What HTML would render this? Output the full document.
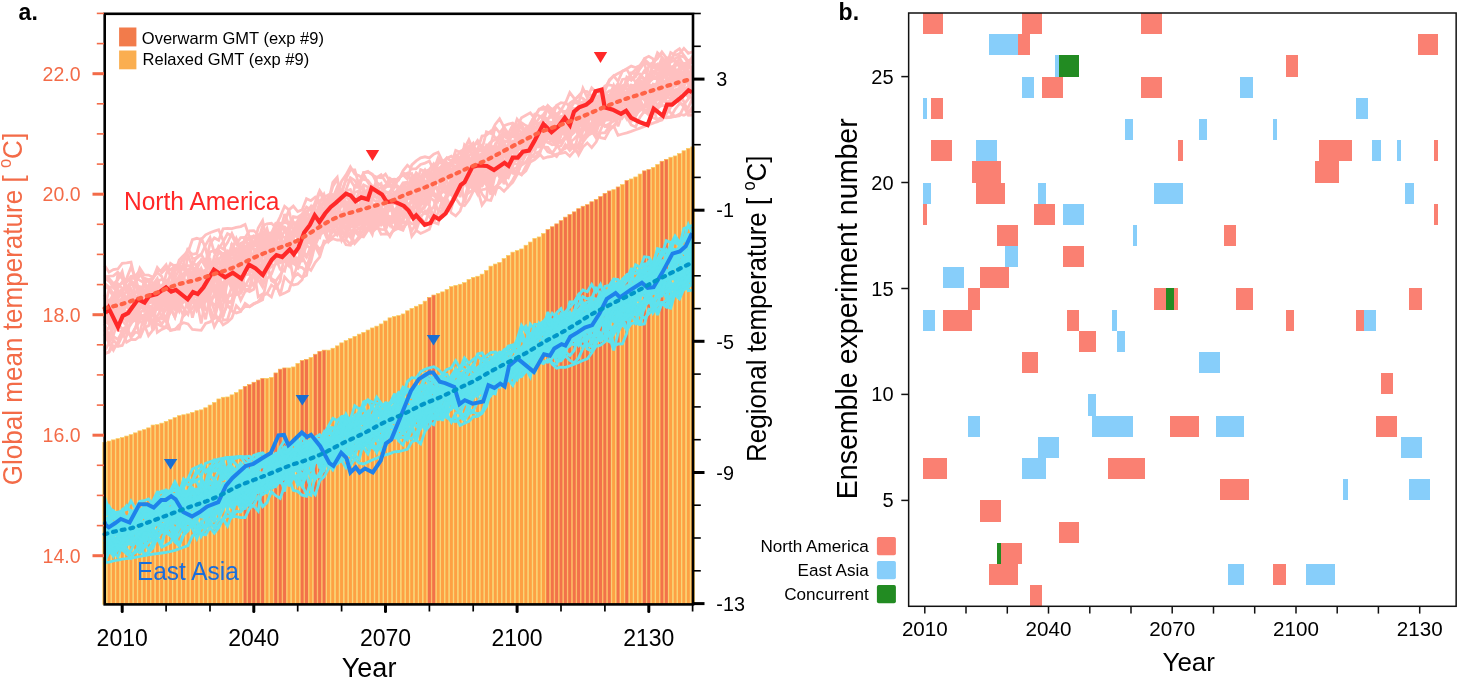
<!DOCTYPE html><html><head><meta charset="utf-8"><style>html,body{margin:0;padding:0;background:#fff;width:1458px;height:685px;overflow:hidden}</style></head><body><svg width="1458" height="685" viewBox="0 0 1458 685" style="display:block;will-change:transform"><rect width="1458" height="685" fill="#fff"/><g><rect x="102.80" y="442.35" width="3.69" height="162.05" fill="#FEA044" stroke="#F7D264" stroke-width="0.7"/><rect x="107.19" y="441.05" width="3.69" height="163.35" fill="#FEA044" stroke="#F7D264" stroke-width="0.7"/><rect x="111.58" y="439.85" width="3.69" height="164.55" fill="#FEA044" stroke="#F7D264" stroke-width="0.7"/><rect x="115.97" y="438.65" width="3.69" height="165.75" fill="#FEA044" stroke="#F7D264" stroke-width="0.7"/><rect x="120.36" y="437.55" width="3.69" height="166.85" fill="#FEA044" stroke="#F7D264" stroke-width="0.7"/><rect x="124.74" y="436.05" width="3.69" height="168.35" fill="#FEA044" stroke="#F7D264" stroke-width="0.7"/><rect x="129.13" y="434.65" width="3.69" height="169.75" fill="#FEA044" stroke="#F7D264" stroke-width="0.7"/><rect x="133.52" y="432.85" width="3.69" height="171.55" fill="#FEA044" stroke="#F7D264" stroke-width="0.7"/><rect x="137.91" y="430.85" width="3.69" height="173.55" fill="#FEA044" stroke="#F7D264" stroke-width="0.7"/><rect x="142.30" y="429.65" width="3.69" height="174.75" fill="#FEA044" stroke="#F7D264" stroke-width="0.7"/><rect x="146.68" y="427.85" width="3.69" height="176.55" fill="#FEA044" stroke="#F7D264" stroke-width="0.7"/><rect x="151.07" y="425.05" width="3.69" height="179.35" fill="#FEA044" stroke="#F7D264" stroke-width="0.7"/><rect x="155.46" y="424.65" width="3.69" height="179.75" fill="#FEA044" stroke="#F7D264" stroke-width="0.7"/><rect x="159.85" y="423.15" width="3.69" height="181.25" fill="#FEA044" stroke="#F7D264" stroke-width="0.7"/><rect x="164.24" y="421.35" width="3.69" height="183.05" fill="#FEA044" stroke="#F7D264" stroke-width="0.7"/><rect x="168.62" y="419.65" width="3.69" height="184.75" fill="#FEA044" stroke="#F7D264" stroke-width="0.7"/><rect x="173.01" y="417.65" width="3.69" height="186.75" fill="#FEA044" stroke="#F7D264" stroke-width="0.7"/><rect x="177.40" y="415.65" width="3.69" height="188.75" fill="#FEA044" stroke="#F7D264" stroke-width="0.7"/><rect x="181.79" y="414.75" width="3.69" height="189.65" fill="#FEA044" stroke="#F7D264" stroke-width="0.7"/><rect x="186.18" y="413.85" width="3.69" height="190.55" fill="#FEA044" stroke="#F7D264" stroke-width="0.7"/><rect x="190.56" y="412.35" width="3.69" height="192.05" fill="#FEA044" stroke="#F7D264" stroke-width="0.7"/><rect x="194.95" y="410.65" width="3.69" height="193.75" fill="#FEA044" stroke="#F7D264" stroke-width="0.7"/><rect x="199.34" y="409.85" width="3.69" height="194.55" fill="#FEA044" stroke="#F7D264" stroke-width="0.7"/><rect x="203.73" y="407.75" width="3.69" height="196.65" fill="#FEA044" stroke="#F7D264" stroke-width="0.7"/><rect x="208.12" y="405.05" width="3.69" height="199.35" fill="#FEA044" stroke="#F7D264" stroke-width="0.7"/><rect x="212.50" y="402.45" width="3.69" height="201.95" fill="#FEA044" stroke="#F7D264" stroke-width="0.7"/><rect x="216.89" y="398.95" width="3.69" height="205.45" fill="#FEA044" stroke="#F7D264" stroke-width="0.7"/><rect x="221.28" y="397.25" width="3.69" height="207.15" fill="#FEA044" stroke="#F7D264" stroke-width="0.7"/><rect x="225.67" y="396.95" width="3.69" height="207.45" fill="#FEA044" stroke="#F7D264" stroke-width="0.7"/><rect x="230.06" y="394.85" width="3.69" height="209.55" fill="#FEA044" stroke="#F7D264" stroke-width="0.7"/><rect x="234.44" y="392.55" width="3.69" height="211.85" fill="#FEA044" stroke="#F7D264" stroke-width="0.7"/><rect x="238.83" y="389.65" width="3.69" height="214.75" fill="#FEA044" stroke="#F7D264" stroke-width="0.7"/><rect x="243.22" y="386.35" width="3.69" height="218.05" fill="#F2724A" stroke="#FCB44E" stroke-width="0.7"/><rect x="247.61" y="384.55" width="3.69" height="219.85" fill="#F2724A" stroke="#FCB44E" stroke-width="0.7"/><rect x="252.00" y="382.25" width="3.69" height="222.15" fill="#F2724A" stroke="#FCB44E" stroke-width="0.7"/><rect x="256.38" y="380.05" width="3.69" height="224.35" fill="#F2724A" stroke="#FCB44E" stroke-width="0.7"/><rect x="260.77" y="378.35" width="3.69" height="226.05" fill="#F2724A" stroke="#FCB44E" stroke-width="0.7"/><rect x="265.16" y="378.35" width="3.69" height="226.05" fill="#FEA044" stroke="#F7D264" stroke-width="0.7"/><rect x="269.55" y="377.35" width="3.69" height="227.05" fill="#FEA044" stroke="#F7D264" stroke-width="0.7"/><rect x="273.94" y="372.95" width="3.69" height="231.45" fill="#F2724A" stroke="#FCB44E" stroke-width="0.7"/><rect x="278.32" y="369.15" width="3.69" height="235.25" fill="#F2724A" stroke="#FCB44E" stroke-width="0.7"/><rect x="282.71" y="367.95" width="3.69" height="236.45" fill="#F2724A" stroke="#FCB44E" stroke-width="0.7"/><rect x="287.10" y="367.95" width="3.69" height="236.45" fill="#FEA044" stroke="#F7D264" stroke-width="0.7"/><rect x="291.49" y="366.95" width="3.69" height="237.45" fill="#FEA044" stroke="#F7D264" stroke-width="0.7"/><rect x="295.88" y="363.35" width="3.69" height="241.05" fill="#FEA044" stroke="#F7D264" stroke-width="0.7"/><rect x="300.26" y="360.55" width="3.69" height="243.85" fill="#F2724A" stroke="#FCB44E" stroke-width="0.7"/><rect x="304.65" y="359.35" width="3.69" height="245.05" fill="#F2724A" stroke="#FCB44E" stroke-width="0.7"/><rect x="309.04" y="357.45" width="3.69" height="246.95" fill="#FEA044" stroke="#F7D264" stroke-width="0.7"/><rect x="313.43" y="354.25" width="3.69" height="250.15" fill="#F2724A" stroke="#FCB44E" stroke-width="0.7"/><rect x="317.82" y="351.35" width="3.69" height="253.05" fill="#F2724A" stroke="#FCB44E" stroke-width="0.7"/><rect x="322.20" y="350.15" width="3.69" height="254.25" fill="#F2724A" stroke="#FCB44E" stroke-width="0.7"/><rect x="326.59" y="350.15" width="3.69" height="254.25" fill="#FEA044" stroke="#F7D264" stroke-width="0.7"/><rect x="330.98" y="348.25" width="3.69" height="256.15" fill="#FEA044" stroke="#F7D264" stroke-width="0.7"/><rect x="335.37" y="345.85" width="3.69" height="258.55" fill="#FEA044" stroke="#F7D264" stroke-width="0.7"/><rect x="339.76" y="342.85" width="3.69" height="261.55" fill="#FEA044" stroke="#F7D264" stroke-width="0.7"/><rect x="344.14" y="340.65" width="3.69" height="263.75" fill="#FEA044" stroke="#F7D264" stroke-width="0.7"/><rect x="348.53" y="338.55" width="3.69" height="265.85" fill="#FEA044" stroke="#F7D264" stroke-width="0.7"/><rect x="352.92" y="336.35" width="3.69" height="268.05" fill="#FEA044" stroke="#F7D264" stroke-width="0.7"/><rect x="357.31" y="334.15" width="3.69" height="270.25" fill="#FEA044" stroke="#F7D264" stroke-width="0.7"/><rect x="361.70" y="332.35" width="3.69" height="272.05" fill="#FEA044" stroke="#F7D264" stroke-width="0.7"/><rect x="366.08" y="330.05" width="3.69" height="274.35" fill="#FEA044" stroke="#F7D264" stroke-width="0.7"/><rect x="370.47" y="327.95" width="3.69" height="276.45" fill="#FEA044" stroke="#F7D264" stroke-width="0.7"/><rect x="374.86" y="326.15" width="3.69" height="278.25" fill="#FEA044" stroke="#F7D264" stroke-width="0.7"/><rect x="379.25" y="323.95" width="3.69" height="280.45" fill="#FEA044" stroke="#F7D264" stroke-width="0.7"/><rect x="383.64" y="320.95" width="3.69" height="283.45" fill="#FEA044" stroke="#F7D264" stroke-width="0.7"/><rect x="388.02" y="317.85" width="3.69" height="286.55" fill="#FEA044" stroke="#F7D264" stroke-width="0.7"/><rect x="392.41" y="316.45" width="3.69" height="287.95" fill="#FEA044" stroke="#F7D264" stroke-width="0.7"/><rect x="396.80" y="315.55" width="3.69" height="288.85" fill="#FEA044" stroke="#F7D264" stroke-width="0.7"/><rect x="401.19" y="313.95" width="3.69" height="290.45" fill="#FEA044" stroke="#F7D264" stroke-width="0.7"/><rect x="405.58" y="310.75" width="3.69" height="293.65" fill="#FEA044" stroke="#F7D264" stroke-width="0.7"/><rect x="409.96" y="308.35" width="3.69" height="296.05" fill="#FEA044" stroke="#F7D264" stroke-width="0.7"/><rect x="414.35" y="306.25" width="3.69" height="298.15" fill="#FEA044" stroke="#F7D264" stroke-width="0.7"/><rect x="418.74" y="304.35" width="3.69" height="300.05" fill="#FEA044" stroke="#F7D264" stroke-width="0.7"/><rect x="423.13" y="301.15" width="3.69" height="303.25" fill="#FEA044" stroke="#F7D264" stroke-width="0.7"/><rect x="427.52" y="297.45" width="3.69" height="306.95" fill="#F2724A" stroke="#FCB44E" stroke-width="0.7"/><rect x="431.90" y="295.05" width="3.69" height="309.35" fill="#F2724A" stroke="#FCB44E" stroke-width="0.7"/><rect x="436.29" y="293.45" width="3.69" height="310.95" fill="#FEA044" stroke="#F7D264" stroke-width="0.7"/><rect x="440.68" y="291.85" width="3.69" height="312.55" fill="#FEA044" stroke="#F7D264" stroke-width="0.7"/><rect x="445.07" y="289.45" width="3.69" height="314.95" fill="#FEA044" stroke="#F7D264" stroke-width="0.7"/><rect x="449.46" y="286.65" width="3.69" height="317.75" fill="#FEA044" stroke="#F7D264" stroke-width="0.7"/><rect x="453.84" y="285.35" width="3.69" height="319.05" fill="#FEA044" stroke="#F7D264" stroke-width="0.7"/><rect x="458.23" y="284.25" width="3.69" height="320.15" fill="#FEA044" stroke="#F7D264" stroke-width="0.7"/><rect x="462.62" y="282.65" width="3.69" height="321.75" fill="#FEA044" stroke="#F7D264" stroke-width="0.7"/><rect x="467.01" y="279.45" width="3.69" height="324.95" fill="#FEA044" stroke="#F7D264" stroke-width="0.7"/><rect x="471.40" y="277.35" width="3.69" height="327.05" fill="#FEA044" stroke="#F7D264" stroke-width="0.7"/><rect x="475.78" y="276.25" width="3.69" height="328.15" fill="#FEA044" stroke="#F7D264" stroke-width="0.7"/><rect x="480.17" y="274.15" width="3.69" height="330.25" fill="#FEA044" stroke="#F7D264" stroke-width="0.7"/><rect x="484.56" y="270.45" width="3.69" height="333.95" fill="#FEA044" stroke="#F7D264" stroke-width="0.7"/><rect x="488.95" y="266.15" width="3.69" height="338.25" fill="#FEA044" stroke="#F7D264" stroke-width="0.7"/><rect x="493.34" y="264.05" width="3.69" height="340.35" fill="#FEA044" stroke="#F7D264" stroke-width="0.7"/><rect x="497.72" y="262.45" width="3.69" height="341.95" fill="#FEA044" stroke="#F7D264" stroke-width="0.7"/><rect x="502.11" y="258.55" width="3.69" height="345.85" fill="#FEA044" stroke="#F7D264" stroke-width="0.7"/><rect x="506.50" y="255.35" width="3.69" height="349.05" fill="#FEA044" stroke="#F7D264" stroke-width="0.7"/><rect x="510.89" y="252.15" width="3.69" height="352.25" fill="#FEA044" stroke="#F7D264" stroke-width="0.7"/><rect x="515.28" y="250.55" width="3.69" height="353.85" fill="#FEA044" stroke="#F7D264" stroke-width="0.7"/><rect x="519.66" y="248.95" width="3.69" height="355.45" fill="#FEA044" stroke="#F7D264" stroke-width="0.7"/><rect x="524.05" y="245.25" width="3.69" height="359.15" fill="#FEA044" stroke="#F7D264" stroke-width="0.7"/><rect x="528.44" y="242.05" width="3.69" height="362.35" fill="#FEA044" stroke="#F7D264" stroke-width="0.7"/><rect x="532.83" y="238.35" width="3.69" height="366.05" fill="#FEA044" stroke="#F7D264" stroke-width="0.7"/><rect x="537.22" y="236.95" width="3.69" height="367.45" fill="#FEA044" stroke="#F7D264" stroke-width="0.7"/><rect x="541.60" y="233.55" width="3.69" height="370.85" fill="#FEA044" stroke="#F7D264" stroke-width="0.7"/><rect x="545.99" y="229.55" width="3.69" height="374.85" fill="#F2724A" stroke="#FCB44E" stroke-width="0.7"/><rect x="550.38" y="226.75" width="3.69" height="377.65" fill="#F2724A" stroke="#FCB44E" stroke-width="0.7"/><rect x="554.77" y="223.85" width="3.69" height="380.55" fill="#F2724A" stroke="#FCB44E" stroke-width="0.7"/><rect x="559.16" y="220.65" width="3.69" height="383.75" fill="#F2724A" stroke="#FCB44E" stroke-width="0.7"/><rect x="563.54" y="217.15" width="3.69" height="387.25" fill="#F2724A" stroke="#FCB44E" stroke-width="0.7"/><rect x="567.93" y="214.55" width="3.69" height="389.85" fill="#F2724A" stroke="#FCB44E" stroke-width="0.7"/><rect x="572.32" y="211.85" width="3.69" height="392.55" fill="#F2724A" stroke="#FCB44E" stroke-width="0.7"/><rect x="576.71" y="208.65" width="3.69" height="395.75" fill="#F2724A" stroke="#FCB44E" stroke-width="0.7"/><rect x="581.10" y="206.25" width="3.69" height="398.15" fill="#F2724A" stroke="#FCB44E" stroke-width="0.7"/><rect x="585.48" y="204.65" width="3.69" height="399.75" fill="#F2724A" stroke="#FCB44E" stroke-width="0.7"/><rect x="589.87" y="201.75" width="3.69" height="402.65" fill="#F2724A" stroke="#FCB44E" stroke-width="0.7"/><rect x="594.26" y="199.45" width="3.69" height="404.95" fill="#F2724A" stroke="#FCB44E" stroke-width="0.7"/><rect x="598.65" y="196.55" width="3.69" height="407.85" fill="#F2724A" stroke="#FCB44E" stroke-width="0.7"/><rect x="603.04" y="193.35" width="3.69" height="411.05" fill="#F2724A" stroke="#FCB44E" stroke-width="0.7"/><rect x="607.42" y="190.95" width="3.69" height="413.45" fill="#F2724A" stroke="#FCB44E" stroke-width="0.7"/><rect x="611.81" y="189.65" width="3.69" height="414.75" fill="#FEA044" stroke="#F7D264" stroke-width="0.7"/><rect x="616.20" y="186.95" width="3.69" height="417.45" fill="#F2724A" stroke="#FCB44E" stroke-width="0.7"/><rect x="620.59" y="184.55" width="3.69" height="419.85" fill="#FEA044" stroke="#F7D264" stroke-width="0.7"/><rect x="624.98" y="180.55" width="3.69" height="423.85" fill="#F2724A" stroke="#FCB44E" stroke-width="0.7"/><rect x="629.36" y="178.95" width="3.69" height="425.45" fill="#FEA044" stroke="#F7D264" stroke-width="0.7"/><rect x="633.75" y="176.95" width="3.69" height="427.45" fill="#FEA044" stroke="#F7D264" stroke-width="0.7"/><rect x="638.14" y="174.05" width="3.69" height="430.35" fill="#FEA044" stroke="#F7D264" stroke-width="0.7"/><rect x="642.53" y="170.85" width="3.69" height="433.55" fill="#F2724A" stroke="#FCB44E" stroke-width="0.7"/><rect x="646.92" y="169.55" width="3.69" height="434.85" fill="#F2724A" stroke="#FCB44E" stroke-width="0.7"/><rect x="651.30" y="167.35" width="3.69" height="437.05" fill="#FEA044" stroke="#F7D264" stroke-width="0.7"/><rect x="655.69" y="164.45" width="3.69" height="439.95" fill="#FEA044" stroke="#F7D264" stroke-width="0.7"/><rect x="660.08" y="161.25" width="3.69" height="443.15" fill="#F2724A" stroke="#FCB44E" stroke-width="0.7"/><rect x="664.47" y="159.35" width="3.69" height="445.05" fill="#F2724A" stroke="#FCB44E" stroke-width="0.7"/><rect x="668.86" y="157.25" width="3.69" height="447.15" fill="#FEA044" stroke="#F7D264" stroke-width="0.7"/><rect x="673.24" y="155.95" width="3.69" height="448.45" fill="#FEA044" stroke="#F7D264" stroke-width="0.7"/><rect x="677.63" y="153.55" width="3.69" height="450.85" fill="#FEA044" stroke="#F7D264" stroke-width="0.7"/><rect x="682.02" y="150.75" width="3.69" height="453.65" fill="#FEA044" stroke="#F7D264" stroke-width="0.7"/><rect x="686.41" y="148.35" width="3.69" height="456.05" fill="#FEA044" stroke="#F7D264" stroke-width="0.7"/><rect x="690.80" y="146.85" width="3.69" height="457.55" fill="#FEA044" stroke="#F7D264" stroke-width="0.7"/></g><g fill="none" stroke="#5DE2EE" stroke-width="2.8" stroke-linejoin="miter" stroke-miterlimit="3"><polyline points="104.6,537.8 109.0,534.3 113.4,531.0 117.8,525.6 122.2,521.1 126.6,521.6 131.0,518.3 135.4,525.4 139.8,520.1 144.1,516.2 148.5,515.7 152.9,522.7 157.3,517.8 161.7,514.2 166.1,510.2 170.5,510.9 174.9,502.5 179.2,498.1 183.6,487.5 188.0,478.6 192.4,469.0 196.8,467.1 201.2,465.1 205.6,472.2 210.0,467.4 214.3,466.5 218.7,459.2 223.1,459.8 227.5,457.7 231.9,460.9 236.3,456.8 240.7,456.7 245.1,456.6 249.5,456.2 253.8,459.9 258.2,455.4 262.6,458.0 267.0,459.4 271.4,456.9 275.8,453.3 280.2,452.8 284.6,458.6 288.9,447.2 293.3,449.5 297.7,455.5 302.1,445.7 306.5,449.9 310.9,452.9 315.3,446.1 319.7,456.4 324.0,459.5 328.4,452.7 332.8,449.5 337.2,449.7 341.6,443.2 346.0,442.4 350.4,446.0 354.8,447.1 359.2,448.8 363.5,443.5 367.9,442.2 372.3,436.7 376.7,434.7 381.1,421.9 385.5,421.8 389.9,412.4 394.3,421.1 398.6,425.1 403.0,415.6 407.4,412.0 411.8,413.2 416.2,391.3 420.6,386.0 425.0,392.4 429.4,394.0 433.7,399.6 438.1,398.5 442.5,387.9 446.9,383.9 451.3,397.6 455.7,391.4 460.1,386.6 464.5,387.4 468.9,382.1 473.2,377.5 477.6,373.3 482.0,369.5 486.4,363.9 490.8,372.2 495.2,371.9 499.6,370.3 504.0,367.5 508.3,363.7 512.7,365.4 517.1,362.5 521.5,364.9 525.9,353.2 530.3,354.9 534.7,343.3 539.1,335.1 543.4,323.9 547.8,324.3 552.2,322.3 556.6,332.8 561.0,323.0 565.4,320.5 569.8,322.8 574.2,321.2 578.6,318.3 582.9,313.9 587.3,319.7 591.7,316.8 596.1,302.5 600.5,304.1 604.9,299.0 609.3,287.8 613.7,295.0 618.0,293.7 622.4,294.3 626.8,290.1 631.2,289.3 635.6,289.9 640.0,284.4 644.4,269.9 648.8,261.2 653.1,262.9 657.5,249.8 661.9,254.9 666.3,240.7 670.7,242.6 675.1,242.7 679.5,245.1 683.9,252.8 688.3,233.5 692.6,247.1"/><polyline points="104.6,530.2 109.0,522.1 113.4,536.4 117.8,541.5 122.2,531.4 126.6,542.1 131.0,540.4 135.4,526.8 139.8,522.8 144.1,521.3 148.5,518.1 152.9,520.3 157.3,510.8 161.7,513.5 166.1,512.9 170.5,515.7 174.9,508.3 179.2,520.3 183.6,518.5 188.0,506.5 192.4,500.6 196.8,507.7 201.2,507.7 205.6,513.1 210.0,514.5 214.3,513.0 218.7,509.2 223.1,503.0 227.5,499.9 231.9,494.7 236.3,500.5 240.7,504.4 245.1,503.3 249.5,488.3 253.8,486.3 258.2,491.8 262.6,490.4 267.0,492.9 271.4,483.3 275.8,479.8 280.2,470.1 284.6,477.3 288.9,470.4 293.3,465.1 297.7,466.3 302.1,463.0 306.5,454.8 310.9,450.9 315.3,442.8 319.7,449.3 324.0,444.3 328.4,448.3 332.8,449.7 337.2,447.6 341.6,437.4 346.0,442.7 350.4,436.0 354.8,426.7 359.2,432.5 363.5,444.4 367.9,433.0 372.3,430.1 376.7,422.9 381.1,421.4 385.5,416.9 389.9,407.0 394.3,412.6 398.6,409.5 403.0,410.4 407.4,421.5 411.8,415.7 416.2,415.4 420.6,422.8 425.0,429.4 429.4,414.5 433.7,404.3 438.1,401.5 442.5,409.5 446.9,412.0 451.3,408.0 455.7,389.7 460.1,383.6 464.5,384.4 468.9,380.5 473.2,385.3 477.6,384.9 482.0,375.0 486.4,371.2 490.8,372.1 495.2,374.0 499.6,363.0 504.0,378.5 508.3,373.4 512.7,374.8 517.1,358.3 521.5,359.4 525.9,343.1 530.3,335.3 534.7,344.8 539.1,344.8 543.4,338.6 547.8,326.7 552.2,321.2 556.6,320.5 561.0,323.6 565.4,333.7 569.8,332.2 574.2,321.7 578.6,315.8 582.9,313.4 587.3,313.7 591.7,307.4 596.1,301.6 600.5,292.7 604.9,299.4 609.3,302.0 613.7,306.6 618.0,302.6 622.4,300.3 626.8,302.8 631.2,294.5 635.6,291.2 640.0,279.9 644.4,267.7 648.8,270.7 653.1,269.9 657.5,268.6 661.9,276.8 666.3,261.2 670.7,249.5 675.1,255.8 679.5,253.0 683.9,252.1 688.3,259.8 692.6,253.4"/><polyline points="104.6,530.9 109.0,536.3 113.4,530.5 117.8,528.8 122.2,527.2 126.6,523.2 131.0,519.7 135.4,518.8 139.8,515.4 144.1,510.0 148.5,508.8 152.9,514.0 157.3,509.3 161.7,503.9 166.1,507.2 170.5,496.8 174.9,501.9 179.2,495.9 183.6,498.5 188.0,501.9 192.4,505.9 196.8,498.5 201.2,498.6 205.6,502.9 210.0,507.0 214.3,487.9 218.7,490.0 223.1,500.8 227.5,502.3 231.9,501.1 236.3,484.8 240.7,496.3 245.1,492.4 249.5,474.0 253.8,475.3 258.2,462.4 262.6,461.9 267.0,456.9 271.4,463.4 275.8,461.1 280.2,459.0 284.6,463.2 288.9,477.0 293.3,470.3 297.7,467.8 302.1,457.6 306.5,453.4 310.9,449.5 315.3,460.1 319.7,455.9 324.0,462.8 328.4,457.8 332.8,448.9 337.2,445.4 341.6,448.6 346.0,450.6 350.4,451.2 354.8,447.6 359.2,440.9 363.5,438.6 367.9,422.4 372.3,428.3 376.7,424.8 381.1,423.6 385.5,413.8 389.9,409.5 394.3,404.9 398.6,396.2 403.0,387.2 407.4,390.6 411.8,396.3 416.2,396.1 420.6,390.1 425.0,385.8 429.4,396.3 433.7,375.7 438.1,376.0 442.5,379.1 446.9,383.7 451.3,390.3 455.7,396.1 460.1,392.1 464.5,393.5 468.9,404.2 473.2,389.6 477.6,385.5 482.0,390.3 486.4,398.7 490.8,386.8 495.2,384.3 499.6,383.8 504.0,384.6 508.3,379.1 512.7,385.2 517.1,370.7 521.5,367.9 525.9,362.1 530.3,367.4 534.7,360.3 539.1,351.7 543.4,343.9 547.8,346.3 552.2,339.9 556.6,331.7 561.0,327.7 565.4,334.4 569.8,331.6 574.2,324.4 578.6,332.4 582.9,322.2 587.3,322.5 591.7,318.4 596.1,307.1 600.5,308.1 604.9,304.9 609.3,307.1 613.7,312.1 618.0,296.7 622.4,291.3 626.8,289.5 631.2,292.6 635.6,285.6 640.0,285.8 644.4,287.9 648.8,295.4 653.1,312.5 657.5,304.9 661.9,302.8 666.3,307.0 670.7,302.5 675.1,289.6 679.5,290.2 683.9,286.6 688.3,277.2 692.6,263.6"/><polyline points="104.6,511.3 109.0,512.4 113.4,514.4 117.8,517.0 122.2,509.9 126.6,520.0 131.0,524.2 135.4,516.1 139.8,509.4 144.1,508.8 148.5,506.6 152.9,506.8 157.3,499.0 161.7,499.4 166.1,499.1 170.5,500.8 174.9,500.0 179.2,494.7 183.6,512.8 188.0,509.3 192.4,505.3 196.8,498.6 201.2,500.4 205.6,493.3 210.0,490.1 214.3,487.0 218.7,483.7 223.1,467.6 227.5,474.0 231.9,458.4 236.3,458.4 240.7,456.7 245.1,457.9 249.5,461.6 253.8,455.3 258.2,453.9 262.6,454.1 267.0,459.5 271.4,459.6 275.8,455.9 280.2,455.6 284.6,455.0 288.9,446.1 293.3,441.8 297.7,451.5 302.1,453.7 306.5,455.7 310.9,452.2 315.3,456.2 319.7,451.9 324.0,446.8 328.4,465.4 332.8,461.9 337.2,457.4 341.6,449.5 346.0,451.5 350.4,455.0 354.8,446.5 359.2,440.7 363.5,432.7 367.9,434.4 372.3,430.6 376.7,431.0 381.1,430.6 385.5,434.7 389.9,424.4 394.3,427.3 398.6,436.3 403.0,432.8 407.4,435.3 411.8,425.6 416.2,441.3 420.6,426.3 425.0,421.3 429.4,422.1 433.7,424.7 438.1,412.0 442.5,409.2 446.9,405.7 451.3,399.6 455.7,398.6 460.1,396.2 464.5,385.2 468.9,393.9 473.2,379.1 477.6,379.5 482.0,379.3 486.4,371.4 490.8,371.4 495.2,366.9 499.6,366.9 504.0,376.3 508.3,379.7 512.7,377.7 517.1,375.2 521.5,374.3 525.9,368.8 530.3,376.9 534.7,356.6 539.1,362.5 543.4,361.4 547.8,362.2 552.2,358.0 556.6,351.7 561.0,346.4 565.4,351.9 569.8,355.6 574.2,350.5 578.6,334.9 582.9,317.5 587.3,321.9 591.7,329.2 596.1,320.3 600.5,318.1 604.9,329.6 609.3,322.0 613.7,307.6 618.0,300.4 622.4,305.2 626.8,294.8 631.2,295.2 635.6,298.1 640.0,283.8 644.4,293.3 648.8,294.1 653.1,280.6 657.5,268.2 661.9,279.9 666.3,286.1 670.7,274.5 675.1,273.8 679.5,278.3 683.9,266.2 688.3,275.8 692.6,260.2"/><polyline points="104.6,523.7 109.0,517.5 113.4,513.2 117.8,517.2 122.2,518.0 126.6,518.2 131.0,529.7 135.4,516.2 139.8,511.7 144.1,512.7 148.5,514.2 152.9,510.4 157.3,503.7 161.7,500.3 166.1,506.0 170.5,508.2 174.9,504.8 179.2,516.9 183.6,530.0 188.0,517.8 192.4,515.3 196.8,522.2 201.2,528.2 205.6,526.9 210.0,519.1 214.3,515.9 218.7,506.8 223.1,498.1 227.5,507.4 231.9,499.0 236.3,491.8 240.7,484.2 245.1,482.9 249.5,476.1 253.8,468.5 258.2,475.6 262.6,476.0 267.0,475.4 271.4,479.1 275.8,480.2 280.2,471.9 284.6,466.1 288.9,478.9 293.3,462.3 297.7,466.5 302.1,469.4 306.5,463.0 310.9,455.2 315.3,454.0 319.7,450.1 324.0,443.7 328.4,451.0 332.8,446.2 337.2,428.8 341.6,426.6 346.0,414.2 350.4,422.3 354.8,418.8 359.2,427.6 363.5,415.6 367.9,411.3 372.3,422.6 376.7,423.1 381.1,422.3 385.5,423.8 389.9,433.1 394.3,437.8 398.6,438.3 403.0,437.2 407.4,440.1 411.8,428.8 416.2,420.2 420.6,419.0 425.0,405.5 429.4,398.1 433.7,397.8 438.1,409.9 442.5,410.7 446.9,399.0 451.3,401.8 455.7,399.7 460.1,407.1 464.5,398.2 468.9,386.4 473.2,375.5 477.6,370.3 482.0,371.3 486.4,367.8 490.8,362.3 495.2,362.6 499.6,353.2 504.0,358.9 508.3,350.9 512.7,350.9 517.1,341.3 521.5,332.1 525.9,343.3 530.3,324.1 534.7,329.5 539.1,325.9 543.4,326.5 547.8,320.8 552.2,313.3 556.6,317.4 561.0,318.7 565.4,311.7 569.8,307.4 574.2,302.4 578.6,294.9 582.9,302.7 587.3,306.1 591.7,305.0 596.1,300.4 600.5,300.2 604.9,313.1 609.3,327.4 613.7,327.1 618.0,323.4 622.4,314.8 626.8,311.1 631.2,305.3 635.6,294.4 640.0,291.2 644.4,287.7 648.8,276.2 653.1,267.1 657.5,265.6 661.9,266.6 666.3,270.2 670.7,272.5 675.1,266.1 679.5,256.0 683.9,257.8 688.3,257.3 692.6,255.3"/><polyline points="104.6,515.5 109.0,506.1 113.4,513.3 117.8,521.9 122.2,528.5 126.6,518.8 131.0,515.7 135.4,518.5 139.8,516.5 144.1,513.7 148.5,522.3 152.9,518.8 157.3,514.2 161.7,502.8 166.1,504.5 170.5,502.4 174.9,501.7 179.2,492.1 183.6,499.4 188.0,499.7 192.4,497.3 196.8,495.4 201.2,501.6 205.6,495.3 210.0,480.2 214.3,490.6 218.7,487.9 223.1,470.5 227.5,471.0 231.9,477.4 236.3,480.4 240.7,471.4 245.1,480.7 249.5,474.7 253.8,478.0 258.2,484.6 262.6,489.1 267.0,487.9 271.4,472.3 275.8,484.4 280.2,475.0 284.6,458.5 288.9,469.9 293.3,473.3 297.7,485.1 302.1,475.2 306.5,475.1 310.9,489.9 315.3,494.8 319.7,480.7 324.0,476.9 328.4,469.1 332.8,449.8 337.2,442.2 341.6,434.2 346.0,431.0 350.4,432.7 354.8,426.5 359.2,435.3 363.5,441.3 367.9,436.6 372.3,445.5 376.7,431.0 381.1,431.2 385.5,427.7 389.9,423.5 394.3,417.6 398.6,401.8 403.0,408.1 407.4,412.8 411.8,407.6 416.2,413.3 420.6,397.1 425.0,389.2 429.4,389.0 433.7,393.5 438.1,411.7 442.5,407.9 446.9,396.1 451.3,400.8 455.7,399.8 460.1,401.2 464.5,396.9 468.9,395.7 473.2,395.7 477.6,386.5 482.0,388.6 486.4,370.0 490.8,363.1 495.2,356.0 499.6,356.8 504.0,350.3 508.3,347.6 512.7,347.3 517.1,340.2 521.5,330.3 525.9,326.1 530.3,336.2 534.7,340.8 539.1,345.3 543.4,343.2 547.8,347.5 552.2,334.8 556.6,347.6 561.0,336.4 565.4,316.8 569.8,332.5 574.2,339.0 578.6,323.9 582.9,325.2 587.3,319.6 591.7,311.7 596.1,306.2 600.5,300.7 604.9,301.2 609.3,297.2 613.7,306.5 618.0,305.6 622.4,321.5 626.8,306.3 631.2,310.9 635.6,287.4 640.0,280.7 644.4,292.2 648.8,276.9 653.1,278.8 657.5,281.6 661.9,266.9 666.3,263.2 670.7,260.2 675.1,259.0 679.5,251.7 683.9,260.4 688.3,254.0 692.6,246.3"/><polyline points="104.6,516.9 109.0,519.9 113.4,518.0 117.8,522.0 122.2,518.1 126.6,519.2 131.0,519.3 135.4,522.2 139.8,526.4 144.1,522.3 148.5,521.2 152.9,522.1 157.3,510.7 161.7,510.2 166.1,519.2 170.5,509.9 174.9,503.6 179.2,511.5 183.6,505.3 188.0,508.4 192.4,499.7 196.8,496.8 201.2,491.6 205.6,498.1 210.0,500.0 214.3,496.4 218.7,490.0 223.1,489.5 227.5,487.3 231.9,485.4 236.3,502.0 240.7,493.7 245.1,496.5 249.5,504.7 253.8,499.0 258.2,487.3 262.6,480.4 267.0,477.6 271.4,474.2 275.8,463.6 280.2,468.2 284.6,458.1 288.9,462.1 293.3,454.8 297.7,453.0 302.1,458.9 306.5,449.2 310.9,440.0 315.3,450.2 319.7,443.2 324.0,443.2 328.4,439.0 332.8,436.8 337.2,430.7 341.6,439.6 346.0,427.8 350.4,440.0 354.8,437.7 359.2,434.1 363.5,442.1 367.9,427.6 372.3,416.4 376.7,414.5 381.1,407.5 385.5,402.7 389.9,403.4 394.3,398.4 398.6,392.3 403.0,395.1 407.4,381.6 411.8,377.7 416.2,378.1 420.6,371.7 425.0,369.2 429.4,367.8 433.7,366.7 438.1,369.1 442.5,373.7 446.9,369.5 451.3,367.8 455.7,360.6 460.1,368.1 464.5,357.8 468.9,363.1 473.2,359.3 477.6,356.1 482.0,360.6 486.4,361.3 490.8,363.5 495.2,369.0 499.6,367.6 504.0,373.1 508.3,371.6 512.7,365.8 517.1,374.4 521.5,369.8 525.9,368.6 530.3,357.8 534.7,356.1 539.1,356.1 543.4,345.6 547.8,346.1 552.2,345.2 556.6,343.6 561.0,328.3 565.4,327.8 569.8,325.1 574.2,324.4 578.6,318.0 582.9,306.3 587.3,305.8 591.7,300.5 596.1,309.6 600.5,292.6 604.9,292.8 609.3,291.7 613.7,295.8 618.0,295.9 622.4,285.5 626.8,300.7 631.2,286.9 635.6,284.9 640.0,282.6 644.4,278.1 648.8,276.4 653.1,289.7 657.5,281.3 661.9,262.1 666.3,273.0 670.7,277.5 675.1,273.4 679.5,286.9 683.9,277.4 688.3,270.2 692.6,255.2"/><polyline points="104.6,549.6 109.0,549.0 113.4,551.7 117.8,556.8 122.2,546.0 126.6,553.7 131.0,550.6 135.4,541.0 139.8,537.1 144.1,538.9 148.5,539.5 152.9,532.2 157.3,537.6 161.7,531.2 166.1,528.7 170.5,528.4 174.9,516.5 179.2,511.3 183.6,508.5 188.0,502.7 192.4,498.3 196.8,513.9 201.2,517.2 205.6,517.3 210.0,520.4 214.3,528.4 218.7,525.4 223.1,519.0 227.5,516.1 231.9,516.7 236.3,516.6 240.7,517.7 245.1,517.6 249.5,508.6 253.8,504.6 258.2,496.7 262.6,506.6 267.0,502.6 271.4,491.7 275.8,495.7 280.2,498.4 284.6,485.8 288.9,478.6 293.3,470.6 297.7,463.5 302.1,466.9 306.5,462.4 310.9,454.8 315.3,450.3 319.7,444.0 324.0,454.3 328.4,451.9 332.8,446.5 337.2,441.6 341.6,435.1 346.0,434.1 350.4,433.3 354.8,433.3 359.2,419.2 363.5,424.0 367.9,426.9 372.3,422.6 376.7,427.1 381.1,417.6 385.5,411.2 389.9,408.7 394.3,417.4 398.6,407.7 403.0,407.4 407.4,418.9 411.8,409.0 416.2,408.4 420.6,409.4 425.0,417.3 429.4,411.2 433.7,404.3 438.1,393.7 442.5,392.7 446.9,381.6 451.3,379.2 455.7,373.1 460.1,367.1 464.5,369.6 468.9,371.1 473.2,364.4 477.6,372.2 482.0,373.8 486.4,367.8 490.8,364.5 495.2,359.8 499.6,368.4 504.0,370.0 508.3,360.6 512.7,360.4 517.1,358.1 521.5,359.8 525.9,361.5 530.3,370.2 534.7,362.0 539.1,356.3 543.4,350.1 547.8,347.5 552.2,335.9 556.6,357.0 561.0,349.2 565.4,339.9 569.8,337.3 574.2,325.4 578.6,317.6 582.9,310.1 587.3,307.9 591.7,308.7 596.1,307.8 600.5,295.8 604.9,305.4 609.3,294.1 613.7,293.1 618.0,286.5 622.4,280.0 626.8,278.6 631.2,269.0 635.6,269.2 640.0,274.3 644.4,274.4 648.8,266.9 653.1,263.6 657.5,272.1 661.9,278.1 666.3,277.2 670.7,266.3 675.1,253.8 679.5,262.2 683.9,271.6 688.3,275.0 692.6,268.5"/><polyline points="104.6,549.3 109.0,541.9 113.4,544.4 117.8,536.8 122.2,522.3 126.6,524.0 131.0,517.1 135.4,523.5 139.8,512.7 144.1,517.5 148.5,518.5 152.9,514.7 157.3,512.1 161.7,506.6 166.1,499.1 170.5,493.8 174.9,484.4 179.2,494.2 183.6,479.3 188.0,484.7 192.4,482.4 196.8,481.7 201.2,492.2 205.6,496.3 210.0,493.2 214.3,480.3 218.7,471.3 223.1,461.0 227.5,473.4 231.9,466.6 236.3,470.7 240.7,465.5 245.1,467.8 249.5,473.9 253.8,471.7 258.2,470.3 262.6,464.9 267.0,465.9 271.4,459.7 275.8,459.1 280.2,447.2 284.6,440.2 288.9,447.4 293.3,459.8 297.7,452.5 302.1,454.7 306.5,463.0 310.9,450.2 315.3,448.4 319.7,444.5 324.0,436.8 328.4,446.0 332.8,438.6 337.2,439.1 341.6,437.6 346.0,430.3 350.4,429.1 354.8,435.5 359.2,431.3 363.5,437.7 367.9,439.6 372.3,430.4 376.7,431.3 381.1,437.3 385.5,438.6 389.9,433.4 394.3,429.6 398.6,427.2 403.0,422.9 407.4,415.7 411.8,419.5 416.2,410.1 420.6,408.3 425.0,397.1 429.4,388.2 433.7,390.0 438.1,382.7 442.5,386.6 446.9,395.5 451.3,385.7 455.7,374.4 460.1,373.3 464.5,377.7 468.9,388.4 473.2,387.0 477.6,381.7 482.0,374.3 486.4,381.5 490.8,371.1 495.2,375.4 499.6,380.2 504.0,375.5 508.3,377.9 512.7,374.9 517.1,379.6 521.5,368.6 525.9,368.0 530.3,367.9 534.7,355.3 539.1,356.7 543.4,351.6 547.8,337.7 552.2,329.0 556.6,323.8 561.0,328.9 565.4,336.7 569.8,343.8 574.2,344.7 578.6,339.0 582.9,331.6 587.3,332.4 591.7,316.9 596.1,310.1 600.5,310.4 604.9,304.9 609.3,295.9 613.7,294.6 618.0,294.8 622.4,299.9 626.8,295.6 631.2,290.1 635.6,292.8 640.0,296.0 644.4,280.4 648.8,277.8 653.1,281.0 657.5,273.1 661.9,287.8 666.3,270.7 670.7,273.5 675.1,262.7 679.5,260.6 683.9,257.9 688.3,254.5 692.6,256.5"/><polyline points="104.6,532.6 109.0,529.1 113.4,522.9 117.8,528.5 122.2,539.2 126.6,539.8 131.0,544.9 135.4,543.3 139.8,542.1 144.1,554.7 148.5,552.3 152.9,548.0 157.3,537.8 161.7,547.2 166.1,545.0 170.5,542.4 174.9,534.1 179.2,519.3 183.6,507.5 188.0,496.5 192.4,491.3 196.8,492.2 201.2,485.5 205.6,488.2 210.0,488.0 214.3,493.1 218.7,500.7 223.1,507.8 227.5,500.2 231.9,501.1 236.3,496.7 240.7,497.5 245.1,509.4 249.5,490.3 253.8,489.0 258.2,482.5 262.6,476.2 267.0,470.1 271.4,463.9 275.8,458.9 280.2,462.3 284.6,457.3 288.9,456.9 293.3,451.7 297.7,447.9 302.1,443.3 306.5,441.2 310.9,441.0 315.3,445.3 319.7,446.3 324.0,440.1 328.4,442.5 332.8,444.0 337.2,437.1 341.6,444.7 346.0,444.5 350.4,441.8 354.8,441.8 359.2,437.3 363.5,443.5 367.9,446.5 372.3,444.5 376.7,447.7 381.1,438.2 385.5,440.7 389.9,441.7 394.3,426.6 398.6,437.4 403.0,430.4 407.4,415.2 411.8,416.6 416.2,403.2 420.6,412.4 425.0,426.0 429.4,405.0 433.7,407.8 438.1,402.4 442.5,416.7 446.9,401.4 451.3,388.1 455.7,381.4 460.1,377.5 464.5,381.1 468.9,370.1 473.2,369.6 477.6,375.5 482.0,364.8 486.4,366.7 490.8,367.1 495.2,375.4 499.6,374.3 504.0,369.8 508.3,374.0 512.7,371.8 517.1,366.1 521.5,362.0 525.9,360.4 530.3,352.7 534.7,353.7 539.1,349.6 543.4,346.1 547.8,345.7 552.2,333.9 556.6,319.9 561.0,321.5 565.4,313.5 569.8,313.5 574.2,321.0 578.6,314.3 582.9,317.5 587.3,327.2 591.7,310.1 596.1,309.3 600.5,298.4 604.9,303.1 609.3,302.4 613.7,301.7 618.0,290.3 622.4,290.5 626.8,285.7 631.2,286.3 635.6,282.5 640.0,275.9 644.4,285.3 648.8,286.5 653.1,283.2 657.5,288.5 661.9,279.3 666.3,278.1 670.7,269.4 675.1,274.7 679.5,266.3 683.9,258.6 688.3,264.7 692.6,276.7"/><polyline points="104.6,506.4 109.0,508.5 113.4,510.6 117.8,517.6 122.2,514.5 126.6,519.8 131.0,510.6 135.4,513.9 139.8,515.8 144.1,512.7 148.5,511.6 152.9,507.1 157.3,513.4 161.7,508.9 166.1,518.3 170.5,514.6 174.9,515.0 179.2,504.1 183.6,494.5 188.0,497.8 192.4,500.8 196.8,488.1 201.2,503.8 205.6,492.8 210.0,492.1 214.3,498.3 218.7,499.1 223.1,482.5 227.5,493.1 231.9,489.2 236.3,485.6 240.7,474.8 245.1,474.4 249.5,461.5 253.8,469.8 258.2,464.8 262.6,459.1 267.0,457.9 271.4,465.2 275.8,463.2 280.2,462.1 284.6,464.5 288.9,467.0 293.3,461.8 297.7,460.6 302.1,450.1 306.5,442.0 310.9,440.5 315.3,439.6 319.7,442.1 324.0,444.9 328.4,442.4 332.8,441.3 337.2,438.1 341.6,419.0 346.0,418.6 350.4,419.2 354.8,405.8 359.2,408.9 363.5,406.6 367.9,400.2 372.3,407.7 376.7,397.2 381.1,403.4 385.5,406.4 389.9,403.5 394.3,394.8 398.6,396.1 403.0,402.5 407.4,402.1 411.8,402.0 416.2,411.1 420.6,422.4 425.0,406.7 429.4,419.9 433.7,418.7 438.1,408.4 442.5,411.7 446.9,409.7 451.3,400.3 455.7,400.4 460.1,403.1 464.5,394.9 468.9,387.4 473.2,387.5 477.6,394.1 482.0,391.7 486.4,385.7 490.8,385.3 495.2,386.2 499.6,387.4 504.0,375.7 508.3,371.3 512.7,370.5 517.1,360.6 521.5,357.7 525.9,359.0 530.3,351.4 534.7,343.8 539.1,347.4 543.4,348.8 547.8,355.5 552.2,346.5 556.6,338.3 561.0,342.1 565.4,341.2 569.8,330.0 574.2,330.9 578.6,343.1 582.9,325.5 587.3,307.7 591.7,298.1 596.1,288.2 600.5,294.2 604.9,291.3 609.3,291.0 613.7,285.4 618.0,289.3 622.4,280.4 626.8,279.8 631.2,270.4 635.6,290.4 640.0,288.9 644.4,286.4 648.8,278.0 653.1,271.9 657.5,266.0 661.9,254.8 666.3,249.4 670.7,254.6 675.1,250.0 679.5,248.6 683.9,240.0 688.3,224.6 692.6,234.4"/><polyline points="104.6,541.8 109.0,544.5 113.4,545.7 117.8,537.5 122.2,527.6 126.6,532.8 131.0,532.5 135.4,530.4 139.8,529.1 144.1,523.8 148.5,512.0 152.9,500.6 157.3,491.9 161.7,492.5 166.1,491.2 170.5,498.0 174.9,494.2 179.2,495.2 183.6,479.7 188.0,480.2 192.4,480.2 196.8,473.5 201.2,468.3 205.6,470.0 210.0,468.6 214.3,460.3 218.7,465.3 223.1,476.9 227.5,477.1 231.9,459.5 236.3,464.7 240.7,471.5 245.1,471.5 249.5,464.1 253.8,469.5 258.2,467.7 262.6,462.8 267.0,458.6 271.4,459.8 275.8,462.4 280.2,462.8 284.6,460.8 288.9,463.6 293.3,464.7 297.7,470.5 302.1,457.6 306.5,449.3 310.9,451.0 315.3,439.8 319.7,438.9 324.0,442.4 328.4,438.2 332.8,437.9 337.2,440.1 341.6,427.2 346.0,432.7 350.4,443.3 354.8,436.9 359.2,435.8 363.5,438.2 367.9,442.2 372.3,436.1 376.7,435.2 381.1,427.2 385.5,434.8 389.9,426.7 394.3,428.3 398.6,422.9 403.0,419.3 407.4,415.9 411.8,408.2 416.2,410.3 420.6,404.1 425.0,395.4 429.4,401.5 433.7,395.5 438.1,389.9 442.5,392.8 446.9,391.9 451.3,390.3 455.7,393.3 460.1,389.9 464.5,389.3 468.9,382.1 473.2,380.3 477.6,392.1 482.0,375.5 486.4,369.8 490.8,372.5 495.2,370.2 499.6,355.0 504.0,363.9 508.3,358.5 512.7,364.9 517.1,370.6 521.5,365.0 525.9,364.6 530.3,368.1 534.7,372.1 539.1,361.6 543.4,363.5 547.8,359.6 552.2,363.2 556.6,364.3 561.0,352.4 565.4,349.7 569.8,345.1 574.2,336.3 578.6,333.3 582.9,322.2 587.3,316.3 591.7,316.4 596.1,327.1 600.5,319.5 604.9,330.9 609.3,322.8 613.7,346.2 618.0,344.0 622.4,343.9 626.8,333.2 631.2,297.5 635.6,300.3 640.0,300.3 644.4,308.0 648.8,290.4 653.1,306.4 657.5,293.9 661.9,292.8 666.3,272.8 670.7,275.1 675.1,273.7 679.5,276.5 683.9,271.4 688.3,256.4 692.6,263.1"/><polyline points="104.6,525.2 109.0,522.1 113.4,511.7 117.8,513.6 122.2,519.3 126.6,516.6 131.0,523.2 135.4,515.2 139.8,510.9 144.1,506.7 148.5,514.3 152.9,515.8 157.3,514.8 161.7,514.9 166.1,515.7 170.5,521.2 174.9,523.3 179.2,517.4 183.6,523.1 188.0,505.8 192.4,505.3 196.8,488.9 201.2,498.9 205.6,487.3 210.0,489.1 214.3,483.3 218.7,502.2 223.1,488.1 227.5,486.1 231.9,489.7 236.3,492.3 240.7,496.2 245.1,485.2 249.5,478.5 253.8,483.2 258.2,477.8 262.6,486.4 267.0,474.4 271.4,478.7 275.8,477.4 280.2,479.0 284.6,475.5 288.9,477.2 293.3,469.7 297.7,465.6 302.1,451.3 306.5,447.8 310.9,444.0 315.3,449.2 319.7,462.7 324.0,449.2 328.4,448.6 332.8,446.9 337.2,436.5 341.6,443.6 346.0,446.0 350.4,449.5 354.8,437.8 359.2,422.8 363.5,424.4 367.9,419.0 372.3,415.7 376.7,410.6 381.1,414.7 385.5,407.9 389.9,418.1 394.3,408.7 398.6,401.6 403.0,399.0 407.4,399.5 411.8,396.1 416.2,388.1 420.6,400.9 425.0,396.7 429.4,389.9 433.7,386.8 438.1,389.5 442.5,387.3 446.9,384.6 451.3,387.8 455.7,384.1 460.1,381.6 464.5,382.1 468.9,378.3 473.2,377.0 477.6,380.3 482.0,382.1 486.4,377.4 490.8,372.8 495.2,366.8 499.6,360.4 504.0,355.1 508.3,353.3 512.7,351.5 517.1,343.4 521.5,340.4 525.9,341.5 530.3,334.3 534.7,341.6 539.1,338.3 543.4,332.3 547.8,335.0 552.2,338.7 556.6,334.3 561.0,345.5 565.4,329.3 569.8,333.0 574.2,330.7 578.6,323.2 582.9,319.8 587.3,315.9 591.7,331.3 596.1,315.0 600.5,315.8 604.9,314.5 609.3,320.7 613.7,305.8 618.0,309.9 622.4,305.6 626.8,302.3 631.2,310.9 635.6,311.1 640.0,312.5 644.4,308.5 648.8,292.1 653.1,290.8 657.5,289.1 661.9,282.2 666.3,283.8 670.7,278.5 675.1,279.4 679.5,289.9 683.9,277.0 688.3,282.5 692.6,276.1"/><polyline points="104.6,497.0 109.0,510.4 113.4,513.1 117.8,512.0 122.2,511.1 126.6,505.6 131.0,512.9 135.4,509.1 139.8,509.8 144.1,514.2 148.5,512.6 152.9,519.7 157.3,511.6 161.7,511.9 166.1,505.3 170.5,504.1 174.9,502.5 179.2,506.2 183.6,503.4 188.0,518.4 192.4,500.1 196.8,498.6 201.2,481.6 205.6,485.0 210.0,495.3 214.3,500.0 218.7,496.2 223.1,486.5 227.5,483.1 231.9,480.2 236.3,474.2 240.7,475.3 245.1,476.7 249.5,478.0 253.8,467.6 258.2,463.6 262.6,461.8 267.0,467.5 271.4,461.6 275.8,455.8 280.2,454.2 284.6,452.8 288.9,453.3 293.3,450.0 297.7,452.9 302.1,447.3 306.5,443.5 310.9,441.0 315.3,437.2 319.7,434.7 324.0,440.9 328.4,437.9 332.8,444.6 337.2,443.7 341.6,442.1 346.0,428.3 350.4,423.4 354.8,436.5 359.2,431.0 363.5,438.3 367.9,437.4 372.3,436.2 376.7,434.6 381.1,429.8 385.5,431.4 389.9,426.6 394.3,427.5 398.6,429.7 403.0,424.9 407.4,420.4 411.8,414.9 416.2,412.8 420.6,397.1 425.0,397.1 429.4,408.0 433.7,403.1 438.1,391.5 442.5,395.5 446.9,395.4 451.3,396.9 455.7,392.0 460.1,398.0 464.5,386.0 468.9,409.9 473.2,397.9 477.6,393.6 482.0,391.3 486.4,383.5 490.8,384.5 495.2,383.1 499.6,374.4 504.0,369.9 508.3,369.9 512.7,361.6 517.1,361.6 521.5,347.8 525.9,342.3 530.3,339.6 534.7,336.2 539.1,334.9 543.4,324.4 547.8,329.9 552.2,323.9 556.6,312.8 561.0,308.6 565.4,318.3 569.8,301.9 574.2,302.0 578.6,295.1 582.9,290.0 587.3,291.7 591.7,284.4 596.1,291.9 600.5,284.3 604.9,297.4 609.3,300.7 613.7,300.6 618.0,299.6 622.4,289.8 626.8,294.3 631.2,285.4 635.6,284.4 640.0,284.2 644.4,274.7 648.8,275.6 653.1,278.6 657.5,279.2 661.9,272.8 666.3,271.6 670.7,271.1 675.1,272.3 679.5,267.7 683.9,277.3 688.3,279.1 692.6,282.8"/><polyline points="104.6,531.1 109.0,524.3 113.4,522.3 117.8,529.8 122.2,522.7 126.6,523.9 131.0,516.8 135.4,524.3 139.8,520.6 144.1,507.6 148.5,510.6 152.9,504.6 157.3,508.4 161.7,512.1 166.1,510.5 170.5,522.6 174.9,509.7 179.2,508.3 183.6,495.8 188.0,517.9 192.4,512.2 196.8,519.8 201.2,511.8 205.6,501.6 210.0,499.8 214.3,504.8 218.7,510.0 223.1,499.1 227.5,501.5 231.9,503.7 236.3,485.7 240.7,493.0 245.1,490.1 249.5,482.5 253.8,492.3 258.2,492.7 262.6,489.3 267.0,474.4 271.4,477.8 275.8,477.0 280.2,471.4 284.6,457.4 288.9,460.0 293.3,452.8 297.7,449.3 302.1,450.3 306.5,457.0 310.9,457.1 315.3,451.8 319.7,454.6 324.0,451.6 328.4,451.7 332.8,458.7 337.2,456.0 341.6,456.2 346.0,456.0 350.4,451.3 354.8,436.0 359.2,430.4 363.5,436.4 367.9,448.3 372.3,447.4 376.7,451.3 381.1,445.9 385.5,438.5 389.9,435.4 394.3,435.7 398.6,423.7 403.0,428.4 407.4,427.4 411.8,402.5 416.2,396.7 420.6,390.2 425.0,378.6 429.4,384.1 433.7,381.6 438.1,388.0 442.5,395.0 446.9,402.7 451.3,392.5 455.7,402.0 460.1,394.7 464.5,395.5 468.9,392.6 473.2,382.9 477.6,377.8 482.0,375.8 486.4,371.6 490.8,372.9 495.2,365.7 499.6,366.8 504.0,373.7 508.3,370.7 512.7,376.7 517.1,371.3 521.5,365.2 525.9,365.2 530.3,358.2 534.7,353.1 539.1,354.7 543.4,353.9 547.8,342.9 552.2,344.0 556.6,353.0 561.0,350.7 565.4,348.9 569.8,341.9 574.2,338.6 578.6,332.7 582.9,327.8 587.3,339.6 591.7,328.7 596.1,335.2 600.5,321.4 604.9,312.3 609.3,316.3 613.7,319.6 618.0,320.5 622.4,303.0 626.8,302.3 631.2,291.9 635.6,310.2 640.0,302.9 644.4,300.4 648.8,289.0 653.1,280.3 657.5,267.3 661.9,277.9 666.3,273.7 670.7,273.5 675.1,265.5 679.5,269.9 683.9,266.8 688.3,259.5 692.6,247.1"/><polyline points="104.6,519.6 109.0,520.0 113.4,536.6 117.8,531.7 122.2,538.5 126.6,536.4 131.0,536.9 135.4,540.0 139.8,540.5 144.1,529.1 148.5,528.5 152.9,528.4 157.3,533.8 161.7,532.5 166.1,519.7 170.5,520.6 174.9,535.5 179.2,544.8 183.6,534.1 188.0,527.0 192.4,525.2 196.8,512.7 201.2,511.1 205.6,513.2 210.0,514.1 214.3,522.2 218.7,495.4 223.1,495.6 227.5,487.0 231.9,480.6 236.3,481.3 240.7,478.2 245.1,481.0 249.5,473.4 253.8,478.5 258.2,485.8 262.6,489.0 267.0,488.6 271.4,478.3 275.8,473.6 280.2,480.3 284.6,474.8 288.9,477.9 293.3,490.3 297.7,491.4 302.1,495.2 306.5,496.4 310.9,479.7 315.3,461.2 319.7,463.6 324.0,452.0 328.4,453.9 332.8,456.8 337.2,463.7 341.6,460.5 346.0,467.7 350.4,459.5 354.8,455.2 359.2,459.2 363.5,443.1 367.9,442.4 372.3,441.8 376.7,440.0 381.1,450.4 385.5,446.9 389.9,438.3 394.3,435.9 398.6,430.8 403.0,429.8 407.4,424.7 411.8,422.6 416.2,419.5 420.6,424.7 425.0,421.5 429.4,405.1 433.7,418.2 438.1,418.6 442.5,416.2 446.9,416.8 451.3,420.9 455.7,421.5 460.1,417.4 464.5,420.3 468.9,409.8 473.2,411.0 477.6,402.0 482.0,396.6 486.4,395.4 490.8,391.3 495.2,389.2 499.6,377.4 504.0,374.1 508.3,368.6 512.7,369.0 517.1,362.8 521.5,362.4 525.9,354.2 530.3,358.7 534.7,358.9 539.1,355.9 543.4,348.9 547.8,339.5 552.2,337.3 556.6,339.4 561.0,338.5 565.4,339.1 569.8,325.9 574.2,310.4 578.6,304.8 582.9,296.7 587.3,298.9 591.7,297.4 596.1,299.0 600.5,300.7 604.9,295.9 609.3,290.6 613.7,281.1 618.0,293.4 622.4,279.1 626.8,275.4 631.2,283.0 635.6,286.4 640.0,277.4 644.4,278.3 648.8,284.3 653.1,289.1 657.5,276.4 661.9,276.3 666.3,279.4 670.7,283.5 675.1,292.9 679.5,282.0 683.9,269.8 688.3,272.8 692.6,277.5"/><polyline points="104.6,527.6 109.0,533.7 113.4,547.0 117.8,543.0 122.2,542.4 126.6,535.6 131.0,535.1 135.4,532.8 139.8,534.8 144.1,535.5 148.5,528.7 152.9,525.5 157.3,518.6 161.7,529.4 166.1,525.1 170.5,517.7 174.9,506.7 179.2,496.5 183.6,490.5 188.0,492.1 192.4,491.0 196.8,493.0 201.2,487.7 205.6,482.6 210.0,475.8 214.3,465.8 218.7,464.9 223.1,477.4 227.5,467.5 231.9,475.2 236.3,481.3 240.7,481.1 245.1,473.5 249.5,474.7 253.8,471.0 258.2,472.0 262.6,473.0 267.0,474.8 271.4,482.6 275.8,483.5 280.2,471.9 284.6,475.6 288.9,481.6 293.3,468.2 297.7,470.8 302.1,465.7 306.5,454.2 310.9,466.2 315.3,462.6 319.7,455.3 324.0,450.1 328.4,439.1 332.8,434.9 337.2,420.5 341.6,418.3 346.0,422.6 350.4,425.6 354.8,424.9 359.2,433.4 363.5,431.7 367.9,431.5 372.3,422.5 376.7,434.2 381.1,424.8 385.5,426.4 389.9,427.4 394.3,428.9 398.6,421.1 403.0,432.9 407.4,429.0 411.8,416.8 416.2,406.3 420.6,405.6 425.0,404.5 429.4,394.0 433.7,402.6 438.1,404.6 442.5,398.4 446.9,393.3 451.3,389.0 455.7,382.6 460.1,382.7 464.5,382.4 468.9,366.7 473.2,368.1 477.6,373.1 482.0,370.9 486.4,371.4 490.8,365.5 495.2,360.2 499.6,358.8 504.0,359.7 508.3,360.2 512.7,357.7 517.1,356.6 521.5,357.7 525.9,342.9 530.3,336.7 534.7,332.4 539.1,329.4 543.4,326.2 547.8,319.6 552.2,319.7 556.6,324.7 561.0,328.8 565.4,333.7 569.8,323.5 574.2,316.1 578.6,312.5 582.9,319.4 587.3,317.1 591.7,313.3 596.1,321.8 600.5,338.5 604.9,324.6 609.3,314.2 613.7,317.7 618.0,313.3 622.4,317.6 626.8,329.1 631.2,316.8 635.6,309.5 640.0,310.5 644.4,299.6 648.8,299.0 653.1,309.1 657.5,302.4 661.9,302.7 666.3,305.0 670.7,295.1 675.1,294.9 679.5,299.0 683.9,288.9 688.3,277.2 692.6,271.1"/><polyline points="104.6,526.8 109.0,523.5 113.4,516.4 117.8,521.4 122.2,510.8 126.6,509.5 131.0,500.9 135.4,508.5 139.8,501.3 144.1,500.7 148.5,498.9 152.9,504.4 157.3,496.2 161.7,497.7 166.1,490.0 170.5,493.4 174.9,494.8 179.2,500.7 183.6,506.3 188.0,506.4 192.4,502.9 196.8,501.8 201.2,504.4 205.6,500.9 210.0,494.9 214.3,490.9 218.7,499.8 223.1,494.9 227.5,500.1 231.9,506.6 236.3,491.3 240.7,489.2 245.1,497.7 249.5,494.0 253.8,477.2 258.2,483.3 262.6,484.0 267.0,480.4 271.4,480.1 275.8,466.9 280.2,460.0 284.6,456.9 288.9,455.1 293.3,449.1 297.7,452.3 302.1,436.0 306.5,444.2 310.9,442.5 315.3,443.2 319.7,441.4 324.0,432.8 328.4,427.0 332.8,428.0 337.2,428.9 341.6,439.4 346.0,429.8 350.4,438.6 354.8,427.6 359.2,434.1 363.5,428.3 367.9,432.0 372.3,430.1 376.7,423.6 381.1,426.8 385.5,418.9 389.9,420.3 394.3,413.5 398.6,440.8 403.0,444.9 407.4,433.6 411.8,425.7 416.2,436.2 420.6,418.5 425.0,402.5 429.4,410.1 433.7,399.1 438.1,406.1 442.5,409.1 446.9,401.4 451.3,391.3 455.7,383.0 460.1,377.6 464.5,377.4 468.9,383.0 473.2,377.8 477.6,372.0 482.0,371.6 486.4,372.2 490.8,363.2 495.2,360.6 499.6,363.6 504.0,373.8 508.3,362.8 512.7,361.9 517.1,363.5 521.5,366.7 525.9,361.9 530.3,346.7 534.7,349.0 539.1,355.3 543.4,345.2 547.8,348.8 552.2,341.7 556.6,351.8 561.0,358.5 565.4,346.2 569.8,340.1 574.2,340.1 578.6,341.2 582.9,333.7 587.3,331.0 591.7,315.3 596.1,306.6 600.5,301.3 604.9,286.5 609.3,285.3 613.7,279.1 618.0,279.6 622.4,286.1 626.8,281.0 631.2,272.8 635.6,284.6 640.0,267.9 644.4,256.7 648.8,257.4 653.1,263.7 657.5,268.5 661.9,267.0 666.3,260.7 670.7,247.0 675.1,253.0 679.5,245.9 683.9,228.5 688.3,226.9 692.6,225.2"/><polyline points="104.6,542.2 109.0,532.3 113.4,540.9 117.8,547.6 122.2,539.9 126.6,548.8 131.0,554.1 135.4,552.7 139.8,542.2 144.1,546.5 148.5,542.7 152.9,538.3 157.3,537.4 161.7,531.0 166.1,532.9 170.5,535.9 174.9,541.2 179.2,534.2 183.6,527.3 188.0,522.5 192.4,526.8 196.8,520.4 201.2,536.2 205.6,527.7 210.0,524.3 214.3,526.2 218.7,519.9 223.1,519.9 227.5,509.9 231.9,517.3 236.3,511.3 240.7,511.9 245.1,506.9 249.5,504.6 253.8,506.1 258.2,511.1 262.6,483.3 267.0,477.4 271.4,472.1 275.8,464.7 280.2,470.6 284.6,471.9 288.9,474.9 293.3,466.1 297.7,469.8 302.1,478.3 306.5,468.1 310.9,476.8 315.3,478.4 319.7,474.0 324.0,458.2 328.4,460.1 332.8,455.3 337.2,450.1 341.6,455.3 346.0,455.4 350.4,443.2 354.8,447.2 359.2,445.0 363.5,444.9 367.9,446.8 372.3,442.6 376.7,432.7 381.1,429.1 385.5,430.4 389.9,418.3 394.3,411.1 398.6,417.8 403.0,408.4 407.4,413.8 411.8,409.5 416.2,408.2 420.6,401.6 425.0,400.7 429.4,394.9 433.7,401.7 438.1,395.2 442.5,400.0 446.9,391.3 451.3,383.3 455.7,382.4 460.1,380.4 464.5,381.6 468.9,377.4 473.2,375.1 477.6,374.6 482.0,358.2 486.4,355.9 490.8,352.7 495.2,352.0 499.6,354.6 504.0,350.0 508.3,360.3 512.7,351.8 517.1,339.5 521.5,325.2 525.9,331.9 530.3,338.7 534.7,324.4 539.1,324.3 543.4,321.4 547.8,323.2 552.2,326.9 556.6,336.4 561.0,327.9 565.4,316.8 569.8,316.4 574.2,316.8 578.6,312.7 582.9,319.0 587.3,318.5 591.7,321.5 596.1,322.1 600.5,310.9 604.9,306.2 609.3,304.5 613.7,313.0 618.0,309.7 622.4,317.1 626.8,312.9 631.2,313.8 635.6,302.8 640.0,308.2 644.4,302.8 648.8,300.5 653.1,291.3 657.5,281.6 661.9,292.2 666.3,276.1 670.7,266.5 675.1,264.8 679.5,268.7 683.9,266.1 688.3,262.2 692.6,273.8"/><polyline points="104.6,520.6 109.0,534.9 113.4,541.0 117.8,542.7 122.2,538.3 126.6,540.9 131.0,530.0 135.4,534.5 139.8,536.1 144.1,523.5 148.5,518.9 152.9,513.0 157.3,504.6 161.7,496.8 166.1,492.3 170.5,490.5 174.9,481.7 179.2,489.7 183.6,484.0 188.0,479.2 192.4,481.9 196.8,479.9 201.2,478.1 205.6,486.3 210.0,487.2 214.3,492.5 218.7,489.2 223.1,499.2 227.5,508.6 231.9,498.5 236.3,500.5 240.7,508.3 245.1,499.6 249.5,498.0 253.8,488.1 258.2,488.7 262.6,478.1 267.0,470.4 271.4,470.8 275.8,453.5 280.2,468.2 284.6,474.3 288.9,478.6 293.3,475.5 297.7,483.6 302.1,485.8 306.5,493.5 310.9,495.4 315.3,475.8 319.7,477.0 324.0,469.6 328.4,455.4 332.8,445.9 337.2,449.3 341.6,451.8 346.0,437.1 350.4,447.6 354.8,455.1 359.2,444.7 363.5,439.7 367.9,442.9 372.3,444.4 376.7,430.9 381.1,422.6 385.5,426.9 389.9,409.8 394.3,411.5 398.6,415.6 403.0,418.6 407.4,411.5 411.8,412.7 416.2,417.4 420.6,422.2 425.0,409.6 429.4,400.6 433.7,405.1 438.1,411.8 442.5,416.2 446.9,414.5 451.3,407.8 455.7,401.9 460.1,394.3 464.5,401.8 468.9,398.6 473.2,393.4 477.6,383.1 482.0,389.0 486.4,385.1 490.8,380.9 495.2,381.0 499.6,385.1 504.0,380.5 508.3,378.5 512.7,384.9 517.1,377.5 521.5,376.8 525.9,371.7 530.3,368.4 534.7,362.3 539.1,350.0 543.4,348.4 547.8,348.5 552.2,347.5 556.6,355.5 561.0,325.4 565.4,323.9 569.8,316.6 574.2,316.4 578.6,310.3 582.9,310.8 587.3,320.4 591.7,302.2 596.1,301.3 600.5,296.4 604.9,290.2 609.3,294.5 613.7,290.5 618.0,290.4 622.4,281.9 626.8,306.5 631.2,296.4 635.6,278.9 640.0,273.1 644.4,266.8 648.8,262.1 653.1,266.6 657.5,260.2 661.9,267.3 666.3,255.7 670.7,244.5 675.1,236.0 679.5,242.1 683.9,247.3 688.3,247.5 692.6,249.3"/><polyline points="104.6,541.2 109.0,530.2 113.4,532.2 117.8,532.7 122.2,527.6 126.6,527.4 131.0,536.6 135.4,540.5 139.8,549.9 144.1,533.3 148.5,529.6 152.9,538.8 157.3,530.1 161.7,519.2 166.1,506.2 170.5,512.5 174.9,522.6 179.2,524.4 183.6,515.7 188.0,516.9 192.4,511.9 196.8,513.8 201.2,501.8 205.6,513.4 210.0,500.9 214.3,502.5 218.7,504.4 223.1,496.3 227.5,505.0 231.9,498.5 236.3,477.8 240.7,487.3 245.1,471.7 249.5,479.0 253.8,473.1 258.2,457.4 262.6,465.4 267.0,464.2 271.4,463.7 275.8,454.4 280.2,461.2 284.6,449.4 288.9,446.9 293.3,444.0 297.7,440.2 302.1,452.4 306.5,441.2 310.9,445.6 315.3,449.8 319.7,440.6 324.0,436.1 328.4,434.0 332.8,427.7 337.2,428.5 341.6,418.7 346.0,424.6 350.4,428.0 354.8,423.0 359.2,410.6 363.5,422.0 367.9,415.7 372.3,416.6 376.7,415.5 381.1,416.0 385.5,411.2 389.9,418.7 394.3,405.3 398.6,397.7 403.0,397.2 407.4,390.6 411.8,396.9 416.2,385.7 420.6,387.6 425.0,376.0 429.4,379.6 433.7,381.5 438.1,378.2 442.5,374.9 446.9,392.1 451.3,387.2 455.7,383.9 460.1,384.8 464.5,390.7 468.9,393.1 473.2,397.6 477.6,391.6 482.0,393.5 486.4,398.8 490.8,389.9 495.2,386.3 499.6,368.6 504.0,364.2 508.3,370.1 512.7,359.1 517.1,352.7 521.5,353.5 525.9,354.7 530.3,359.0 534.7,346.0 539.1,343.9 543.4,352.0 547.8,336.1 552.2,333.3 556.6,341.4 561.0,347.5 565.4,348.2 569.8,324.2 574.2,318.8 578.6,324.3 582.9,314.5 587.3,316.3 591.7,335.9 596.1,334.3 600.5,325.3 604.9,319.2 609.3,309.7 613.7,302.2 618.0,300.3 622.4,306.9 626.8,297.5 631.2,293.6 635.6,290.4 640.0,293.5 644.4,284.6 648.8,291.0 653.1,290.2 657.5,281.3 661.9,276.4 666.3,292.4 670.7,302.9 675.1,293.5 679.5,295.5 683.9,282.2 688.3,276.8 692.6,270.4"/><polyline points="104.6,538.0 109.0,541.0 113.4,539.0 117.8,539.5 122.2,540.0 126.6,535.6 131.0,533.8 135.4,534.0 139.8,530.1 144.1,534.9 148.5,532.7 152.9,523.4 157.3,518.6 161.7,509.4 166.1,503.9 170.5,497.6 174.9,500.9 179.2,508.2 183.6,496.7 188.0,492.1 192.4,481.1 196.8,469.8 201.2,476.3 205.6,463.3 210.0,461.7 214.3,460.3 218.7,459.2 223.1,458.4 227.5,457.7 231.9,477.6 236.3,473.0 240.7,469.1 245.1,481.7 249.5,478.6 253.8,477.1 258.2,480.4 262.6,483.1 267.0,482.8 271.4,481.2 275.8,470.8 280.2,476.5 284.6,478.1 288.9,460.5 293.3,459.9 297.7,463.0 302.1,459.9 306.5,454.3 310.9,464.6 315.3,458.2 319.7,449.4 324.0,450.5 328.4,450.3 332.8,456.4 337.2,458.4 341.6,458.7 346.0,460.4 350.4,465.4 354.8,459.0 359.2,463.2 363.5,464.0 367.9,462.0 372.3,460.0 376.7,458.1 381.1,456.3 385.5,454.8 389.9,453.6 394.3,451.8 398.6,451.5 403.0,450.5 407.4,449.3 411.8,441.8 416.2,439.9 420.6,443.9 425.0,431.4 429.4,426.2 433.7,405.9 438.1,409.8 442.5,411.5 446.9,417.9 451.3,419.8 455.7,416.8 460.1,425.4 464.5,423.3 468.9,421.3 473.2,416.8 477.6,416.4 482.0,413.4 486.4,406.6 490.8,392.1 495.2,393.8 499.6,377.2 504.0,369.6 508.3,365.8 512.7,369.4 517.1,364.8 521.5,364.6 525.9,363.2 530.3,356.6 534.7,353.4 539.1,336.8 543.4,330.7 547.8,319.9 552.2,324.3 556.6,315.2 561.0,318.0 565.4,327.5 569.8,320.5 574.2,326.0 578.6,333.9 582.9,333.1 587.3,349.0 591.7,351.0 596.1,339.3 600.5,340.3 604.9,334.9 609.3,318.7 613.7,304.3 618.0,322.0 622.4,311.5 626.8,306.8 631.2,300.3 635.6,290.9 640.0,296.6 644.4,282.9 648.8,279.5 653.1,265.7 657.5,263.2 661.9,260.7 666.3,271.5 670.7,283.0 675.1,288.9 679.5,288.0 683.9,283.4 688.3,274.3 692.6,271.1"/><polyline points="104.6,534.8 109.0,528.7 113.4,527.8 117.8,524.9 122.2,530.4 126.6,535.2 131.0,531.4 135.4,540.9 139.8,534.2 144.1,539.0 148.5,533.3 152.9,520.0 157.3,525.0 161.7,523.9 166.1,524.7 170.5,519.0 174.9,513.6 179.2,525.0 183.6,512.4 188.0,507.7 192.4,515.9 196.8,492.3 201.2,486.1 205.6,483.9 210.0,470.2 214.3,471.1 218.7,470.3 223.1,479.5 227.5,474.5 231.9,472.4 236.3,472.9 240.7,475.2 245.1,479.9 249.5,481.8 253.8,489.3 258.2,466.7 262.6,467.1 267.0,461.0 271.4,460.2 275.8,455.2 280.2,461.3 284.6,456.1 288.9,457.6 293.3,453.9 297.7,452.8 302.1,452.8 306.5,451.0 310.9,451.3 315.3,441.4 319.7,444.2 324.0,438.3 328.4,429.6 332.8,436.1 337.2,429.8 341.6,440.9 346.0,443.9 350.4,439.5 354.8,436.7 359.2,441.2 363.5,438.4 367.9,428.6 372.3,428.5 376.7,438.6 381.1,427.6 385.5,425.1 389.9,419.7 394.3,419.8 398.6,418.9 403.0,407.5 407.4,417.9 411.8,422.3 416.2,409.7 420.6,415.9 425.0,414.0 429.4,415.3 433.7,408.8 438.1,419.5 442.5,418.6 446.9,414.0 451.3,422.2 455.7,412.8 460.1,412.8 464.5,419.8 468.9,413.8 473.2,412.2 477.6,413.8 482.0,412.3 486.4,400.0 490.8,395.8 495.2,387.2 499.6,369.1 504.0,375.1 508.3,361.2 512.7,367.5 517.1,363.1 521.5,362.1 525.9,359.5 530.3,357.0 534.7,353.1 539.1,350.9 543.4,346.2 547.8,346.7 552.2,351.8 556.6,356.3 561.0,356.9 565.4,352.7 569.8,337.9 574.2,336.8 578.6,341.4 582.9,330.0 587.3,326.8 591.7,343.0 596.1,333.8 600.5,341.0 604.9,337.9 609.3,326.5 613.7,311.6 618.0,311.2 622.4,309.6 626.8,297.1 631.2,291.2 635.6,289.6 640.0,287.6 644.4,287.5 648.8,295.6 653.1,293.1 657.5,291.2 661.9,288.5 666.3,287.0 670.7,283.5 675.1,288.7 679.5,278.4 683.9,262.6 688.3,269.9 692.6,275.6"/><polyline points="104.6,533.7 109.0,533.8 113.4,526.5 117.8,524.7 122.2,518.7 126.6,519.6 131.0,516.9 135.4,517.5 139.8,521.5 144.1,511.7 148.5,510.5 152.9,509.9 157.3,507.1 161.7,508.5 166.1,513.9 170.5,510.2 174.9,499.2 179.2,489.3 183.6,495.8 188.0,490.8 192.4,501.7 196.8,504.3 201.2,501.3 205.6,482.7 210.0,467.0 214.3,470.8 218.7,465.3 223.1,458.4 227.5,457.7 231.9,457.1 236.3,456.8 240.7,456.7 245.1,462.8 249.5,463.8 253.8,462.1 258.2,468.1 262.6,461.9 267.0,471.0 271.4,460.6 275.8,456.6 280.2,451.8 284.6,446.8 288.9,450.2 293.3,443.4 297.7,444.3 302.1,452.0 306.5,443.7 310.9,449.1 315.3,453.3 319.7,465.6 324.0,455.6 328.4,456.2 332.8,453.1 337.2,451.5 341.6,450.0 346.0,446.5 350.4,435.8 354.8,427.6 359.2,425.2 363.5,417.6 367.9,417.6 372.3,405.6 376.7,418.6 381.1,427.2 385.5,426.3 389.9,420.5 394.3,419.9 398.6,424.7 403.0,424.9 407.4,422.8 411.8,412.4 416.2,417.0 420.6,406.2 425.0,404.5 429.4,393.1 433.7,388.4 438.1,394.8 442.5,384.5 446.9,384.1 451.3,385.6 455.7,388.6 460.1,390.4 464.5,374.4 468.9,378.7 473.2,377.7 477.6,367.4 482.0,364.5 486.4,365.2 490.8,360.9 495.2,355.1 499.6,355.7 504.0,350.8 508.3,348.5 512.7,346.9 517.1,345.5 521.5,351.8 525.9,349.6 530.3,333.7 534.7,335.0 539.1,337.9 543.4,332.9 547.8,334.5 552.2,325.6 556.6,336.0 561.0,325.0 565.4,332.1 569.8,326.5 574.2,322.6 578.6,318.2 582.9,315.4 587.3,312.4 591.7,320.6 596.1,315.0 600.5,311.2 604.9,313.6 609.3,312.4 613.7,296.9 618.0,292.8 622.4,296.8 626.8,295.2 631.2,287.6 635.6,280.7 640.0,285.4 644.4,273.1 648.8,273.5 653.1,266.3 657.5,248.6 661.9,249.5 666.3,251.5 670.7,264.2 675.1,279.1 679.5,267.9 683.9,277.9 688.3,280.2 692.6,270.6"/><polyline points="104.6,539.7 109.0,537.9 113.4,551.4 117.8,539.2 122.2,533.6 126.6,537.8 131.0,536.9 135.4,540.3 139.8,544.2 144.1,534.2 148.5,528.8 152.9,521.8 157.3,514.2 161.7,520.9 166.1,519.9 170.5,513.6 174.9,514.9 179.2,527.7 183.6,516.9 188.0,511.2 192.4,525.2 196.8,519.9 201.2,511.1 205.6,493.6 210.0,506.1 214.3,500.8 218.7,507.2 223.1,502.6 227.5,499.4 231.9,492.5 236.3,482.4 240.7,486.6 245.1,486.9 249.5,492.6 253.8,487.9 258.2,477.1 262.6,474.2 267.0,478.2 271.4,467.0 275.8,470.8 280.2,476.1 284.6,472.5 288.9,476.6 293.3,463.6 297.7,456.8 302.1,448.3 306.5,444.8 310.9,448.4 315.3,446.3 319.7,449.7 324.0,449.3 328.4,442.2 332.8,436.7 337.2,429.8 341.6,424.6 346.0,435.0 350.4,435.1 354.8,430.9 359.2,433.5 363.5,427.6 367.9,432.6 372.3,424.8 376.7,417.0 381.1,410.3 385.5,417.5 389.9,414.1 394.3,414.9 398.6,413.0 403.0,403.8 407.4,399.2 411.8,403.9 416.2,396.5 420.6,392.8 425.0,400.2 429.4,383.3 433.7,389.1 438.1,384.0 442.5,374.6 446.9,374.5 451.3,381.9 455.7,369.1 460.1,374.9 464.5,371.3 468.9,369.6 473.2,375.8 477.6,377.4 482.0,365.2 486.4,360.5 490.8,363.8 495.2,356.1 499.6,352.0 504.0,352.8 508.3,354.4 512.7,350.3 517.1,353.6 521.5,347.6 525.9,344.4 530.3,343.6 534.7,340.1 539.1,327.8 543.4,321.9 547.8,315.5 552.2,325.6 556.6,327.3 561.0,339.2 565.4,338.3 569.8,331.2 574.2,339.1 578.6,329.4 582.9,329.3 587.3,319.6 591.7,314.8 596.1,326.0 600.5,318.3 604.9,322.6 609.3,336.0 613.7,350.3 618.0,333.6 622.4,318.7 626.8,320.1 631.2,305.4 635.6,301.1 640.0,292.5 644.4,296.4 648.8,300.4 653.1,301.8 657.5,297.5 661.9,289.7 666.3,290.2 670.7,287.4 675.1,285.1 679.5,284.8 683.9,274.2 688.3,272.5 692.6,281.8"/><polyline points="104.6,537.3 109.0,535.8 113.4,527.1 117.8,536.7 122.2,535.6 126.6,538.6 131.0,537.6 135.4,541.8 139.8,524.7 144.1,533.7 148.5,533.5 152.9,518.4 157.3,520.2 161.7,526.4 166.1,531.1 170.5,519.0 174.9,512.0 179.2,524.1 183.6,507.9 188.0,506.0 192.4,502.8 196.8,513.8 201.2,516.0 205.6,515.7 210.0,510.1 214.3,497.1 218.7,503.6 223.1,504.7 227.5,490.2 231.9,490.8 236.3,494.5 240.7,492.2 245.1,486.0 249.5,485.5 253.8,479.5 258.2,482.8 262.6,475.0 267.0,470.2 271.4,463.1 275.8,458.5 280.2,451.5 284.6,452.1 288.9,450.9 293.3,442.8 297.7,447.3 302.1,460.3 306.5,466.7 310.9,449.7 315.3,461.4 319.7,464.0 324.0,454.8 328.4,451.1 332.8,444.2 337.2,455.9 341.6,449.9 346.0,443.8 350.4,439.9 354.8,442.5 359.2,435.6 363.5,441.1 367.9,436.6 372.3,433.0 376.7,431.8 381.1,418.0 385.5,417.1 389.9,421.0 394.3,413.2 398.6,406.0 403.0,413.2 407.4,405.8 411.8,408.4 416.2,404.9 420.6,403.3 425.0,403.2 429.4,396.0 433.7,386.6 438.1,391.2 442.5,395.2 446.9,392.5 451.3,389.1 455.7,396.5 460.1,381.5 464.5,381.3 468.9,379.0 473.2,380.4 477.6,380.3 482.0,371.9 486.4,364.6 490.8,366.5 495.2,367.2 499.6,365.2 504.0,364.7 508.3,373.3 512.7,361.5 517.1,363.7 521.5,356.5 525.9,357.5 530.3,362.1 534.7,348.2 539.1,352.0 543.4,348.6 547.8,343.3 552.2,336.6 556.6,326.3 561.0,322.4 565.4,325.3 569.8,329.2 574.2,320.8 578.6,310.7 582.9,326.9 587.3,323.9 591.7,329.2 596.1,317.5 600.5,304.4 604.9,307.6 609.3,297.9 613.7,303.8 618.0,299.1 622.4,299.6 626.8,296.2 631.2,286.4 635.6,281.9 640.0,278.0 644.4,276.5 648.8,272.8 653.1,268.7 657.5,267.5 661.9,282.4 666.3,277.5 670.7,263.9 675.1,265.0 679.5,275.4 683.9,272.8 688.3,261.9 692.6,262.3"/><polyline points="104.6,562.2 109.0,551.9 113.4,554.9 117.8,542.1 122.2,542.3 126.6,544.5 131.0,530.4 135.4,533.6 139.8,538.3 144.1,541.4 148.5,549.8 152.9,542.8 157.3,529.6 161.7,530.8 166.1,520.8 170.5,525.2 174.9,515.0 179.2,514.2 183.6,524.3 188.0,517.4 192.4,528.8 196.8,538.6 201.2,526.9 205.6,524.7 210.0,504.2 214.3,493.8 218.7,500.8 223.1,485.5 227.5,481.3 231.9,482.9 236.3,482.9 240.7,478.6 245.1,475.4 249.5,478.0 253.8,479.1 258.2,481.9 262.6,488.7 267.0,479.0 271.4,473.5 275.8,468.0 280.2,475.7 284.6,470.6 288.9,465.7 293.3,472.7 297.7,460.6 302.1,466.3 306.5,469.5 310.9,455.5 315.3,449.7 319.7,447.3 324.0,447.5 328.4,438.5 332.8,446.0 337.2,433.2 341.6,431.9 346.0,430.3 350.4,418.3 354.8,418.7 359.2,417.1 363.5,401.9 367.9,400.2 372.3,401.9 376.7,403.1 381.1,404.1 385.5,409.6 389.9,413.2 394.3,421.6 398.6,420.5 403.0,426.4 407.4,415.0 411.8,420.3 416.2,426.4 420.6,421.5 425.0,412.5 429.4,401.2 433.7,402.4 438.1,399.7 442.5,390.1 446.9,391.9 451.3,395.5 455.7,386.0 460.1,392.8 464.5,396.6 468.9,383.0 473.2,376.9 477.6,382.3 482.0,378.2 486.4,389.0 490.8,376.1 495.2,363.8 499.6,370.5 504.0,373.9 508.3,378.2 512.7,367.1 517.1,363.1 521.5,352.2 525.9,357.5 530.3,348.9 534.7,349.2 539.1,350.1 543.4,350.4 547.8,336.9 552.2,331.6 556.6,333.0 561.0,324.2 565.4,317.9 569.8,312.0 574.2,322.6 578.6,323.8 582.9,315.0 587.3,311.8 591.7,311.8 596.1,310.5 600.5,312.3 604.9,310.9 609.3,311.5 613.7,298.7 618.0,304.5 622.4,297.5 626.8,309.1 631.2,304.0 635.6,307.6 640.0,308.9 644.4,304.7 648.8,294.0 653.1,293.4 657.5,281.6 661.9,272.4 666.3,275.1 670.7,266.7 675.1,261.3 679.5,252.2 683.9,251.4 688.3,257.7 692.6,257.2"/><polyline points="104.6,535.7 109.0,537.0 113.4,540.3 117.8,542.2 122.2,530.0 126.6,531.7 131.0,536.2 135.4,530.8 139.8,531.9 144.1,528.9 148.5,531.6 152.9,530.1 157.3,516.8 161.7,511.9 166.1,510.5 170.5,509.7 174.9,510.1 179.2,518.7 183.6,515.2 188.0,509.7 192.4,508.3 196.8,496.8 201.2,500.2 205.6,488.7 210.0,475.2 214.3,480.3 218.7,489.8 223.1,485.9 227.5,485.8 231.9,482.2 236.3,489.6 240.7,485.8 245.1,481.1 249.5,480.5 253.8,477.0 258.2,474.7 262.6,490.2 267.0,483.6 271.4,488.4 275.8,486.1 280.2,481.3 284.6,478.5 288.9,482.9 293.3,465.7 297.7,465.3 302.1,461.7 306.5,450.3 310.9,447.5 315.3,450.7 319.7,443.0 324.0,438.1 328.4,433.8 332.8,433.5 337.2,428.3 341.6,426.0 346.0,423.3 350.4,432.7 354.8,431.6 359.2,419.2 363.5,418.3 367.9,420.1 372.3,415.6 376.7,406.3 381.1,411.1 385.5,414.9 389.9,403.9 394.3,399.9 398.6,401.6 403.0,398.8 407.4,411.0 411.8,403.4 416.2,393.2 420.6,388.1 425.0,385.9 429.4,385.5 433.7,380.1 438.1,379.9 442.5,376.7 446.9,379.1 451.3,378.3 455.7,372.4 460.1,370.0 464.5,362.2 468.9,369.4 473.2,367.5 477.6,354.0 482.0,352.8 486.4,360.4 490.8,356.9 495.2,361.2 499.6,356.9 504.0,352.6 508.3,346.0 512.7,344.9 517.1,352.4 521.5,354.5 525.9,349.3 530.3,353.7 534.7,346.8 539.1,347.6 543.4,343.6 547.8,340.5 552.2,332.8 556.6,324.6 561.0,327.5 565.4,323.1 569.8,314.7 574.2,312.3 578.6,293.8 582.9,307.3 587.3,307.6 591.7,307.3 596.1,303.7 600.5,297.1 604.9,291.2 609.3,290.5 613.7,285.9 618.0,282.3 622.4,287.7 626.8,288.6 631.2,279.1 635.6,264.8 640.0,267.3 644.4,264.0 648.8,263.8 653.1,268.8 657.5,282.2 661.9,279.4 666.3,284.4 670.7,292.5 675.1,282.3 679.5,282.1 683.9,281.8 688.3,276.4 692.6,277.9"/><polyline points="104.6,545.9 109.0,531.9 113.4,530.9 117.8,530.4 122.2,534.2 126.6,532.6 131.0,531.3 135.4,527.1 139.8,534.9 144.1,526.4 148.5,524.3 152.9,525.0 157.3,519.8 161.7,518.6 166.1,517.1 170.5,511.4 174.9,505.1 179.2,509.6 183.6,496.5 188.0,502.9 192.4,493.2 196.8,493.7 201.2,489.6 205.6,494.0 210.0,498.4 214.3,479.1 218.7,483.7 223.1,475.4 227.5,480.5 231.9,478.1 236.3,486.6 240.7,483.1 245.1,490.5 249.5,488.2 253.8,487.4 258.2,476.0 262.6,483.8 267.0,489.1 271.4,485.7 275.8,478.1 280.2,482.8 284.6,484.2 288.9,474.7 293.3,470.8 297.7,458.4 302.1,449.3 306.5,454.9 310.9,452.4 315.3,442.9 319.7,442.7 324.0,432.3 328.4,440.9 332.8,438.2 337.2,431.2 341.6,434.6 346.0,433.3 350.4,432.0 354.8,429.8 359.2,426.3 363.5,428.4 367.9,417.0 372.3,422.9 376.7,424.4 381.1,417.1 385.5,404.7 389.9,414.0 394.3,418.9 398.6,413.6 403.0,415.5 407.4,419.4 411.8,414.1 416.2,406.6 420.6,408.9 425.0,415.2 429.4,406.4 433.7,402.9 438.1,404.4 442.5,407.5 446.9,399.3 451.3,397.8 455.7,389.4 460.1,386.0 464.5,390.5 468.9,386.9 473.2,384.0 477.6,381.4 482.0,376.5 486.4,367.5 490.8,381.5 495.2,371.6 499.6,375.7 504.0,372.4 508.3,362.5 512.7,366.2 517.1,365.6 521.5,358.7 525.9,348.4 530.3,359.2 534.7,348.0 539.1,351.8 543.4,352.8 547.8,344.8 552.2,351.7 556.6,361.2 561.0,360.8 565.4,355.8 569.8,360.4 574.2,362.7 578.6,357.9 582.9,348.7 587.3,339.2 591.7,325.7 596.1,315.8 600.5,315.5 604.9,325.2 609.3,318.4 613.7,321.8 618.0,314.8 622.4,321.2 626.8,313.9 631.2,297.9 635.6,298.1 640.0,296.2 644.4,290.8 648.8,301.6 653.1,299.8 657.5,294.8 661.9,278.3 666.3,273.8 670.7,268.9 675.1,278.4 679.5,272.4 683.9,271.2 688.3,290.8 692.6,290.2"/><polyline points="104.6,553.9 109.0,547.0 113.4,556.2 117.8,548.7 122.2,550.1 126.6,553.5 131.0,558.1 135.4,550.3 139.8,552.8 144.1,547.5 148.5,533.4 152.9,536.2 157.3,539.7 161.7,542.6 166.1,528.2 170.5,535.0 174.9,537.6 179.2,526.7 183.6,510.4 188.0,514.2 192.4,512.9 196.8,518.3 201.2,507.6 205.6,490.6 210.0,492.2 214.3,502.1 218.7,500.2 223.1,503.9 227.5,497.5 231.9,491.3 236.3,485.3 240.7,481.5 245.1,479.6 249.5,475.8 253.8,480.7 258.2,481.1 262.6,480.4 267.0,482.2 271.4,475.9 275.8,474.6 280.2,476.9 284.6,491.6 288.9,463.1 293.3,478.3 297.7,474.7 302.1,486.0 306.5,474.6 310.9,454.6 315.3,454.2 319.7,457.4 324.0,460.4 328.4,451.0 332.8,457.5 337.2,454.6 341.6,445.6 346.0,441.6 350.4,432.4 354.8,433.0 359.2,439.5 363.5,438.3 367.9,434.2 372.3,425.5 376.7,406.3 381.1,404.4 385.5,406.9 389.9,403.8 394.3,394.9 398.6,395.6 403.0,408.6 407.4,408.6 411.8,405.6 416.2,394.0 420.6,405.7 425.0,406.0 429.4,408.4 433.7,411.5 438.1,415.7 442.5,412.2 446.9,408.2 451.3,409.5 455.7,404.9 460.1,413.7 464.5,403.4 468.9,405.9 473.2,391.6 477.6,396.5 482.0,388.5 486.4,389.4 490.8,370.5 495.2,374.9 499.6,366.2 504.0,363.1 508.3,361.1 512.7,357.7 517.1,354.5 521.5,335.7 525.9,348.5 530.3,342.1 534.7,336.6 539.1,332.9 543.4,342.5 547.8,331.4 552.2,330.7 556.6,340.8 561.0,341.0 565.4,347.2 569.8,346.1 574.2,335.0 578.6,343.4 582.9,347.0 587.3,343.7 591.7,347.1 596.1,343.7 600.5,333.3 604.9,339.2 609.3,341.7 613.7,327.0 618.0,332.0 622.4,323.9 626.8,330.1 631.2,323.6 635.6,322.9 640.0,324.5 644.4,324.0 648.8,309.1 653.1,310.0 657.5,304.0 661.9,290.1 666.3,297.9 670.7,283.8 675.1,284.1 679.5,294.1 683.9,284.7 688.3,285.0 692.6,284.8"/><polyline points="104.6,562.5 109.0,562.2 113.4,561.0 117.8,560.0 122.2,559.2 126.6,558.6 131.0,558.1 135.4,557.4 139.8,556.5 144.1,555.6 148.5,554.8 152.9,554.2 157.3,553.6 161.7,553.0 166.1,552.4 170.5,551.5 174.9,550.3 179.2,548.9 183.6,547.3 188.0,545.6 192.4,535.9 196.8,532.2 201.2,521.8 205.6,529.0 210.0,519.1 214.3,510.8 218.7,506.5 223.1,501.3 227.5,496.9 231.9,504.6 236.3,504.2 240.7,503.9 245.1,493.6 249.5,487.3 253.8,481.3 258.2,484.0 262.6,484.9 267.0,470.6 271.4,465.3 275.8,464.9 280.2,472.0 284.6,466.7 288.9,467.7 293.3,468.6 297.7,464.7 302.1,476.4 306.5,466.3 310.9,459.1 315.3,479.4 319.7,473.0 324.0,466.1 328.4,462.2 332.8,461.5 337.2,453.8 341.6,456.1 346.0,451.7 350.4,455.9 354.8,447.9 359.2,438.0 363.5,437.5 367.9,423.4 372.3,421.8 376.7,412.0 381.1,413.3 385.5,421.5 389.9,413.5 394.3,416.9 398.6,413.0 403.0,413.8 407.4,411.4 411.8,410.3 416.2,415.1 420.6,409.6 425.0,393.8 429.4,402.9 433.7,397.1 438.1,391.7 442.5,392.2 446.9,399.2 451.3,404.1 455.7,401.4 460.1,401.5 464.5,391.3 468.9,381.2 473.2,380.6 477.6,381.8 482.0,385.8 486.4,372.3 490.8,370.9 495.2,364.6 499.6,366.2 504.0,367.8 508.3,367.2 512.7,369.4 517.1,371.7 521.5,358.1 525.9,354.0 530.3,346.9 534.7,344.4 539.1,346.2 543.4,348.5 547.8,347.8 552.2,345.0 556.6,349.8 561.0,346.5 565.4,331.1 569.8,342.3 574.2,340.4 578.6,345.6 582.9,339.6 587.3,346.6 591.7,340.5 596.1,329.6 600.5,322.3 604.9,303.6 609.3,304.9 613.7,314.1 618.0,309.8 622.4,301.5 626.8,306.8 631.2,303.5 635.6,307.1 640.0,315.1 644.4,318.2 648.8,313.7 653.1,310.6 657.5,310.0 661.9,303.7 666.3,300.2 670.7,296.6 675.1,290.7 679.5,282.9 683.9,283.1 688.3,276.2 692.6,271.8"/><polyline points="104.6,525.1 109.0,538.5 113.4,529.6 117.8,536.9 122.2,542.1 126.6,538.7 131.0,534.8 135.4,530.3 139.8,534.1 144.1,524.1 148.5,523.0 152.9,527.5 157.3,523.8 161.7,525.2 166.1,528.2 170.5,527.4 174.9,541.9 179.2,545.7 183.6,535.0 188.0,530.8 192.4,521.4 196.8,527.5 201.2,523.5 205.6,517.7 210.0,514.9 214.3,504.7 218.7,497.9 223.1,500.4 227.5,503.3 231.9,507.7 236.3,500.7 240.7,488.5 245.1,485.4 249.5,477.5 253.8,483.0 258.2,478.2 262.6,475.4 267.0,460.5 271.4,464.4 275.8,469.9 280.2,456.8 284.6,461.8 288.9,465.4 293.3,458.8 297.7,447.3 302.1,455.9 306.5,452.8 310.9,460.8 315.3,456.1 319.7,446.7 324.0,452.7 328.4,448.5 332.8,442.6 337.2,437.0 341.6,435.4 346.0,418.8 350.4,428.7 354.8,415.3 359.2,412.8 363.5,410.3 367.9,413.3 372.3,426.2 376.7,435.0 381.1,435.9 385.5,436.7 389.9,425.7 394.3,417.5 398.6,414.3 403.0,407.0 407.4,400.0 411.8,403.1 416.2,394.9 420.6,396.5 425.0,397.8 429.4,395.7 433.7,389.5 438.1,396.8 442.5,385.8 446.9,384.3 451.3,380.7 455.7,373.1 460.1,382.8 464.5,378.2 468.9,381.2 473.2,382.3 477.6,391.4 482.0,390.2 486.4,375.4 490.8,369.1 495.2,367.5 499.6,372.5 504.0,370.5 508.3,376.0 512.7,368.4 517.1,362.9 521.5,354.3 525.9,342.8 530.3,343.3 534.7,332.2 539.1,326.7 543.4,330.8 547.8,311.9 552.2,323.1 556.6,324.3 561.0,313.9 565.4,317.3 569.8,318.4 574.2,320.8 578.6,317.0 582.9,322.1 587.3,325.2 591.7,316.4 596.1,311.7 600.5,321.2 604.9,318.7 609.3,318.5 613.7,309.7 618.0,297.9 622.4,295.9 626.8,288.9 631.2,286.5 635.6,289.0 640.0,292.9 644.4,290.0 648.8,283.3 653.1,291.1 657.5,296.3 661.9,291.5 666.3,287.5 670.7,279.6 675.1,276.2 679.5,276.7 683.9,274.8 688.3,252.9 692.6,230.6"/><polyline points="104.6,541.6 109.0,538.6 113.4,537.1 117.8,549.4 122.2,542.5 126.6,532.4 131.0,524.3 135.4,526.4 139.8,517.4 144.1,511.8 148.5,507.7 152.9,504.3 157.3,495.9 161.7,491.2 166.1,490.7 170.5,492.0 174.9,503.7 179.2,500.7 183.6,490.0 188.0,500.6 192.4,505.1 196.8,511.0 201.2,512.4 205.6,517.4 210.0,509.8 214.3,519.1 218.7,518.7 223.1,509.6 227.5,498.7 231.9,496.9 236.3,493.5 240.7,501.7 245.1,494.3 249.5,488.8 253.8,483.9 258.2,473.6 262.6,476.4 267.0,476.2 271.4,470.7 275.8,474.4 280.2,474.2 284.6,470.9 288.9,461.6 293.3,451.6 297.7,445.0 302.1,451.2 306.5,448.4 310.9,447.5 315.3,442.2 319.7,441.1 324.0,438.1 328.4,426.0 332.8,418.3 337.2,420.6 341.6,416.6 346.0,415.5 350.4,423.7 354.8,425.8 359.2,412.5 363.5,406.3 367.9,421.4 372.3,415.2 376.7,411.7 381.1,414.1 385.5,409.5 389.9,405.1 394.3,400.6 398.6,395.8 403.0,391.9 407.4,388.8 411.8,390.4 416.2,383.5 420.6,377.8 425.0,373.6 429.4,375.8 433.7,379.9 438.1,382.1 442.5,391.7 446.9,391.9 451.3,385.5 455.7,384.7 460.1,390.5 464.5,382.7 468.9,391.9 473.2,385.0 477.6,386.8 482.0,389.0 486.4,395.6 490.8,379.2 495.2,375.4 499.6,365.8 504.0,359.0 508.3,361.2 512.7,361.1 517.1,352.7 521.5,361.7 525.9,357.5 530.3,357.6 534.7,365.2 539.1,347.9 543.4,346.0 547.8,353.5 552.2,332.5 556.6,334.3 561.0,329.1 565.4,327.3 569.8,320.5 574.2,312.6 578.6,309.7 582.9,304.4 587.3,302.0 591.7,300.4 596.1,318.3 600.5,324.5 604.9,322.7 609.3,317.5 613.7,308.4 618.0,309.8 622.4,314.8 626.8,315.9 631.2,316.4 635.6,313.5 640.0,325.2 644.4,306.3 648.8,301.9 653.1,301.7 657.5,296.5 661.9,296.0 666.3,275.7 670.7,274.2 675.1,275.0 679.5,254.5 683.9,247.5 688.3,252.5 692.6,256.5"/><polyline points="104.6,515.2 109.0,513.4 113.4,525.1 117.8,527.4 122.2,523.8 126.6,526.3 131.0,518.8 135.4,521.0 139.8,522.0 144.1,514.7 148.5,514.6 152.9,510.2 157.3,504.8 161.7,505.1 166.1,495.7 170.5,492.2 174.9,489.8 179.2,496.5 183.6,494.9 188.0,504.8 192.4,489.1 196.8,501.8 201.2,494.2 205.6,502.0 210.0,492.1 214.3,498.3 218.7,494.9 223.1,485.3 227.5,482.3 231.9,470.5 236.3,469.1 240.7,463.0 245.1,468.0 249.5,471.1 253.8,463.5 258.2,453.9 262.6,452.9 267.0,457.0 271.4,454.9 275.8,459.4 280.2,458.3 284.6,462.9 288.9,471.0 293.3,469.2 297.7,471.5 302.1,459.3 306.5,462.3 310.9,447.8 315.3,454.5 319.7,467.7 324.0,470.3 328.4,457.5 332.8,455.3 337.2,445.6 341.6,448.5 346.0,450.5 350.4,452.1 354.8,435.5 359.2,435.2 363.5,435.7 367.9,429.9 372.3,430.8 376.7,429.9 381.1,424.1 385.5,411.0 389.9,412.4 394.3,413.6 398.6,418.6 403.0,414.7 407.4,410.9 411.8,424.3 416.2,416.4 420.6,418.1 425.0,421.5 429.4,415.9 433.7,409.2 438.1,411.6 442.5,400.9 446.9,391.9 451.3,397.3 455.7,382.7 460.1,388.2 464.5,381.5 468.9,381.7 473.2,378.4 477.6,374.6 482.0,376.2 486.4,379.0 490.8,372.4 495.2,366.2 499.6,369.2 504.0,368.1 508.3,360.5 512.7,359.3 517.1,354.1 521.5,357.7 525.9,357.8 530.3,351.4 534.7,339.5 539.1,323.3 543.4,329.5 547.8,328.2 552.2,338.4 556.6,332.8 561.0,336.6 565.4,338.6 569.8,332.1 574.2,323.1 578.6,309.9 582.9,309.1 587.3,309.9 591.7,318.0 596.1,307.4 600.5,316.5 604.9,313.2 609.3,301.3 613.7,288.6 618.0,284.0 622.4,281.0 626.8,274.5 631.2,272.6 635.6,273.5 640.0,270.4 644.4,272.9 648.8,267.1 653.1,270.3 657.5,259.0 661.9,251.3 666.3,257.9 670.7,249.8 675.1,239.6 679.5,244.9 683.9,238.3 688.3,245.5 692.6,255.0"/><polyline points="104.6,524.2 109.0,516.6 113.4,528.5 117.8,526.1 122.2,529.6 126.6,526.9 131.0,525.7 135.4,519.4 139.8,526.2 144.1,528.4 148.5,525.8 152.9,523.7 157.3,510.5 161.7,512.7 166.1,513.0 170.5,521.4 174.9,529.3 179.2,524.3 183.6,530.2 188.0,520.1 192.4,522.4 196.8,531.7 201.2,533.6 205.6,534.8 210.0,527.7 214.3,533.2 218.7,527.7 223.1,518.9 227.5,526.1 231.9,514.8 236.3,501.1 240.7,502.2 245.1,495.9 249.5,500.4 253.8,496.2 258.2,487.6 262.6,494.6 267.0,491.8 271.4,481.8 275.8,486.2 280.2,471.3 284.6,466.0 288.9,486.3 293.3,477.4 297.7,478.1 302.1,485.7 306.5,472.9 310.9,470.0 315.3,455.8 319.7,452.9 324.0,456.2 328.4,455.0 332.8,452.1 337.2,448.0 341.6,450.7 346.0,438.9 350.4,450.1 354.8,449.3 359.2,445.1 363.5,447.6 367.9,453.8 372.3,442.6 376.7,452.4 381.1,441.5 385.5,423.2 389.9,422.2 394.3,422.9 398.6,416.6 403.0,423.8 407.4,415.5 411.8,411.5 416.2,398.5 420.6,414.2 425.0,417.6 429.4,400.3 433.7,403.8 438.1,399.0 442.5,383.4 446.9,389.3 451.3,375.6 455.7,369.2 460.1,384.5 464.5,386.2 468.9,388.8 473.2,388.2 477.6,383.1 482.0,391.7 486.4,383.6 490.8,375.4 495.2,379.8 499.6,366.3 504.0,366.5 508.3,370.0 512.7,368.5 517.1,362.1 521.5,357.6 525.9,359.6 530.3,358.9 534.7,350.9 539.1,351.4 543.4,351.3 547.8,349.4 552.2,364.3 556.6,368.2 561.0,367.1 565.4,367.3 569.8,365.9 574.2,364.2 578.6,362.4 582.9,360.5 587.3,358.9 591.7,353.0 596.1,346.3 600.5,345.1 604.9,341.9 609.3,332.5 613.7,331.7 618.0,311.8 622.4,319.0 626.8,315.0 631.2,314.2 635.6,296.0 640.0,299.8 644.4,280.0 648.8,278.2 653.1,275.0 657.5,270.6 661.9,274.2 666.3,255.3 670.7,247.9 675.1,249.9 679.5,257.0 683.9,248.5 688.3,257.5 692.6,256.8"/><polyline points="104.6,559.6 109.0,548.2 113.4,545.7 117.8,545.1 122.2,547.3 126.6,545.2 131.0,542.5 135.4,537.6 139.8,532.9 144.1,529.8 148.5,526.1 152.9,530.9 157.3,536.8 161.7,544.4 166.1,528.3 170.5,513.0 174.9,500.2 179.2,497.8 183.6,501.7 188.0,492.6 192.4,487.5 196.8,492.3 201.2,483.0 205.6,492.8 210.0,493.0 214.3,504.7 218.7,514.6 223.1,498.9 227.5,495.7 231.9,492.2 236.3,494.9 240.7,499.3 245.1,502.9 249.5,500.9 253.8,492.1 258.2,482.1 262.6,479.3 267.0,473.6 271.4,476.7 275.8,464.3 280.2,450.2 284.6,460.5 288.9,454.4 293.3,450.1 297.7,449.6 302.1,456.6 306.5,456.1 310.9,452.2 315.3,456.3 319.7,456.5 324.0,455.2 328.4,464.2 332.8,470.0 337.2,461.6 341.6,455.3 346.0,445.8 350.4,450.5 354.8,446.3 359.2,440.3 363.5,437.6 367.9,441.7 372.3,435.5 376.7,438.8 381.1,437.6 385.5,422.7 389.9,431.2 394.3,437.7 398.6,435.3 403.0,432.9 407.4,437.8 411.8,438.7 416.2,432.7 420.6,429.0 425.0,412.8 429.4,412.5 433.7,410.9 438.1,401.9 442.5,421.0 446.9,403.1 451.3,403.1 455.7,408.7 460.1,412.8 464.5,415.1 468.9,402.9 473.2,390.5 477.6,394.0 482.0,383.9 486.4,393.1 490.8,392.8 495.2,387.0 499.6,386.2 504.0,376.4 508.3,379.3 512.7,367.8 517.1,367.1 521.5,361.1 525.9,362.2 530.3,349.2 534.7,337.6 539.1,336.3 543.4,339.8 547.8,330.9 552.2,332.9 556.6,328.7 561.0,328.7 565.4,321.2 569.8,333.4 574.2,328.6 578.6,326.3 582.9,322.1 587.3,317.9 591.7,323.3 596.1,331.5 600.5,322.8 604.9,306.3 609.3,323.8 613.7,334.3 618.0,326.3 622.4,321.2 626.8,317.9 631.2,313.4 635.6,322.5 640.0,306.8 644.4,300.5 648.8,292.8 653.1,300.6 657.5,315.0 661.9,303.7 666.3,306.8 670.7,308.3 675.1,293.0 679.5,290.8 683.9,289.8 688.3,287.3 692.6,282.7"/></g><g fill="none" stroke="#FFC0C0" stroke-width="2.8" stroke-linejoin="miter" stroke-miterlimit="3"><polyline points="104.6,311.0 109.0,323.3 113.4,328.2 117.8,321.9 122.2,312.8 126.6,304.5 131.0,306.4 135.4,304.5 139.8,305.3 144.1,292.5 148.5,303.5 152.9,301.8 157.3,302.4 161.7,292.9 166.1,294.2 170.5,296.4 174.9,303.6 179.2,297.6 183.6,289.6 188.0,293.0 192.4,295.1 196.8,276.2 201.2,283.0 205.6,277.3 210.0,251.8 214.3,250.7 218.7,248.7 223.1,241.9 227.5,233.6 231.9,235.8 236.3,244.0 240.7,237.7 245.1,237.5 249.5,238.1 253.8,245.1 258.2,240.0 262.6,246.7 267.0,254.2 271.4,249.0 275.8,241.4 280.2,242.6 284.6,241.5 288.9,250.0 293.3,236.2 297.7,232.9 302.1,224.0 306.5,212.6 310.9,206.5 315.3,217.6 319.7,205.0 324.0,214.1 328.4,220.2 332.8,220.8 337.2,223.4 341.6,224.2 346.0,211.6 350.4,215.2 354.8,223.8 359.2,206.5 363.5,204.1 367.9,205.4 372.3,204.5 376.7,210.6 381.1,199.8 385.5,206.2 389.9,199.6 394.3,196.1 398.6,198.3 403.0,202.5 407.4,194.7 411.8,200.5 416.2,205.4 420.6,198.3 425.0,201.2 429.4,205.6 433.7,217.2 438.1,194.6 442.5,203.2 446.9,197.7 451.3,190.9 455.7,185.3 460.1,197.0 464.5,181.4 468.9,177.7 473.2,191.4 477.6,168.9 482.0,165.2 486.4,154.6 490.8,147.0 495.2,163.9 499.6,170.6 504.0,154.1 508.3,145.1 512.7,146.7 517.1,155.0 521.5,158.3 525.9,152.2 530.3,145.6 534.7,144.8 539.1,137.4 543.4,127.5 547.8,132.7 552.2,133.3 556.6,128.8 561.0,127.8 565.4,120.0 569.8,112.9 574.2,116.3 578.6,116.7 582.9,108.2 587.3,113.2 591.7,118.5 596.1,131.3 600.5,121.2 604.9,118.3 609.3,107.8 613.7,113.0 618.0,126.3 622.4,113.8 626.8,110.4 631.2,115.3 635.6,104.2 640.0,96.4 644.4,96.2 648.8,97.6 653.1,99.6 657.5,94.8 661.9,103.7 666.3,91.0 670.7,95.5 675.1,79.7 679.5,67.2 683.9,78.7 688.3,72.7 692.6,71.6"/><polyline points="104.6,318.8 109.0,312.6 113.4,300.6 117.8,292.7 122.2,293.1 126.6,304.0 131.0,302.4 135.4,302.4 139.8,302.0 144.1,296.6 148.5,302.2 152.9,301.5 157.3,305.6 161.7,304.0 166.1,287.6 170.5,285.5 174.9,290.1 179.2,296.5 183.6,286.8 188.0,287.5 192.4,287.4 196.8,287.3 201.2,273.6 205.6,284.2 210.0,274.7 214.3,270.4 218.7,278.5 223.1,255.5 227.5,254.8 231.9,253.5 236.3,250.2 240.7,251.1 245.1,250.7 249.5,271.3 253.8,259.4 258.2,255.0 262.6,254.7 267.0,259.4 271.4,233.0 275.8,228.2 280.2,234.4 284.6,237.7 288.9,251.4 293.3,236.8 297.7,235.3 302.1,258.4 306.5,245.1 310.9,235.1 315.3,236.0 319.7,234.3 324.0,232.0 328.4,228.1 332.8,222.9 337.2,213.7 341.6,233.8 346.0,235.1 350.4,225.2 354.8,217.5 359.2,208.5 363.5,210.5 367.9,200.7 372.3,221.5 376.7,227.7 381.1,223.2 385.5,225.9 389.9,222.8 394.3,214.3 398.6,228.7 403.0,230.2 407.4,219.3 411.8,223.9 416.2,224.0 420.6,209.9 425.0,205.7 429.4,201.4 433.7,184.9 438.1,173.8 442.5,174.3 446.9,171.3 451.3,173.4 455.7,175.2 460.1,180.8 464.5,175.4 468.9,163.3 473.2,155.5 477.6,160.9 482.0,168.1 486.4,182.0 490.8,194.8 495.2,174.6 499.6,151.4 504.0,149.9 508.3,155.2 512.7,156.9 517.1,149.5 521.5,149.2 525.9,134.3 530.3,134.7 534.7,130.6 539.1,133.6 543.4,133.8 547.8,129.0 552.2,132.5 556.6,131.0 561.0,131.9 565.4,135.5 569.8,126.1 574.2,120.8 578.6,132.3 582.9,127.0 587.3,133.0 591.7,125.1 596.1,126.0 600.5,111.5 604.9,111.6 609.3,107.1 613.7,114.0 618.0,106.1 622.4,100.5 626.8,98.0 631.2,99.1 635.6,86.2 640.0,88.7 644.4,83.0 648.8,91.0 653.1,84.1 657.5,85.0 661.9,94.4 666.3,90.4 670.7,90.9 675.1,90.9 679.5,88.5 683.9,89.6 688.3,87.4 692.6,82.5"/><polyline points="104.6,277.8 109.0,281.4 113.4,284.0 117.8,279.8 122.2,271.4 126.6,290.5 131.0,291.5 135.4,295.3 139.8,302.8 144.1,300.9 148.5,300.8 152.9,293.8 157.3,297.5 161.7,302.2 166.1,297.9 170.5,297.6 174.9,291.1 179.2,293.1 183.6,295.9 188.0,293.7 192.4,300.1 196.8,284.4 201.2,271.6 205.6,273.5 210.0,274.1 214.3,256.5 218.7,246.0 223.1,249.0 227.5,242.5 231.9,233.5 236.3,243.2 240.7,249.9 245.1,249.4 249.5,259.1 253.8,257.6 258.2,245.7 262.6,243.1 267.0,234.4 271.4,246.4 275.8,229.2 280.2,240.3 284.6,254.5 288.9,226.6 293.3,240.5 297.7,250.0 302.1,235.7 306.5,235.8 310.9,226.4 315.3,226.9 319.7,213.8 324.0,212.8 328.4,202.2 332.8,182.5 337.2,177.2 341.6,206.5 346.0,196.7 350.4,201.1 354.8,202.9 359.2,208.5 363.5,209.2 367.9,209.7 372.3,206.0 376.7,207.6 381.1,208.2 385.5,197.7 389.9,202.7 394.3,221.6 398.6,205.3 403.0,217.1 407.4,213.0 411.8,207.7 416.2,221.4 420.6,217.3 425.0,211.2 429.4,216.8 433.7,222.2 438.1,223.8 442.5,207.4 446.9,191.9 451.3,194.6 455.7,184.5 460.1,184.5 464.5,166.5 468.9,175.6 473.2,156.8 477.6,166.9 482.0,164.0 486.4,157.5 490.8,153.9 495.2,158.0 499.6,143.1 504.0,146.4 508.3,146.4 512.7,141.6 517.1,149.0 521.5,136.8 525.9,137.1 530.3,136.2 534.7,135.2 539.1,134.3 543.4,125.6 547.8,123.6 552.2,122.2 556.6,133.9 561.0,129.3 565.4,127.9 569.8,140.0 574.2,120.8 578.6,107.0 582.9,111.0 587.3,101.9 591.7,111.6 596.1,119.2 600.5,123.5 604.9,112.1 609.3,96.4 613.7,85.4 618.0,94.9 622.4,91.4 626.8,82.6 631.2,89.9 635.6,84.0 640.0,82.8 644.4,93.3 648.8,84.2 653.1,87.2 657.5,90.7 661.9,80.5 666.3,82.1 670.7,76.4 675.1,72.8 679.5,79.6 683.9,71.9 688.3,66.8 692.6,69.8"/><polyline points="104.6,297.6 109.0,304.8 113.4,314.4 117.8,308.1 122.2,302.5 126.6,307.3 131.0,308.2 135.4,314.0 139.8,303.9 144.1,280.5 148.5,281.2 152.9,294.3 157.3,293.7 161.7,295.9 166.1,297.4 170.5,294.0 174.9,302.7 179.2,290.5 183.6,292.8 188.0,284.3 192.4,283.4 196.8,270.5 201.2,270.5 205.6,273.0 210.0,294.9 214.3,286.5 218.7,290.2 223.1,314.5 227.5,305.2 231.9,311.2 236.3,312.9 240.7,311.6 245.1,303.4 249.5,306.7 253.8,304.1 258.2,301.7 262.6,295.8 267.0,293.4 271.4,285.0 275.8,288.3 280.2,281.0 284.6,252.6 288.9,245.6 293.3,237.3 297.7,229.0 302.1,227.0 306.5,222.3 310.9,226.8 315.3,210.5 319.7,212.1 324.0,218.2 328.4,225.8 332.8,228.1 337.2,233.6 341.6,223.9 346.0,222.4 350.4,223.9 354.8,219.3 359.2,223.2 363.5,220.5 367.9,217.6 372.3,215.5 376.7,225.9 381.1,212.6 385.5,207.2 389.9,224.9 394.3,221.4 398.6,218.3 403.0,211.8 407.4,217.1 411.8,211.7 416.2,193.1 420.6,190.4 425.0,194.8 429.4,182.5 433.7,177.8 438.1,174.1 442.5,188.9 446.9,178.9 451.3,177.4 455.7,190.9 460.1,185.2 464.5,163.3 468.9,162.7 473.2,155.3 477.6,159.8 482.0,186.3 486.4,171.5 490.8,188.8 495.2,187.0 499.6,183.2 504.0,178.3 508.3,186.6 512.7,182.4 517.1,174.6 521.5,163.6 525.9,154.9 530.3,152.5 534.7,147.8 539.1,145.4 543.4,143.4 547.8,137.6 552.2,141.1 556.6,134.0 561.0,134.6 565.4,126.3 569.8,125.4 574.2,113.7 578.6,119.0 582.9,112.2 587.3,103.4 591.7,95.2 596.1,95.6 600.5,98.9 604.9,90.9 609.3,79.9 613.7,75.9 618.0,81.3 622.4,71.2 626.8,69.4 631.2,77.0 635.6,81.7 640.0,86.2 644.4,80.8 648.8,82.7 653.1,78.4 657.5,77.6 661.9,71.7 666.3,76.2 670.7,71.4 675.1,79.4 679.5,85.3 683.9,92.5 688.3,91.7 692.6,94.0"/><polyline points="104.6,321.0 109.0,324.2 113.4,336.5 117.8,339.4 122.2,331.8 126.6,330.1 131.0,322.6 135.4,320.1 139.8,308.7 144.1,303.1 148.5,296.5 152.9,299.5 157.3,288.8 161.7,299.6 166.1,300.9 170.5,311.9 174.9,300.0 179.2,281.7 183.6,289.3 188.0,295.4 192.4,290.3 196.8,277.8 201.2,287.3 205.6,289.9 210.0,280.3 214.3,271.5 218.7,261.4 223.1,268.9 227.5,259.3 231.9,251.3 236.3,258.9 240.7,259.8 245.1,251.5 249.5,248.0 253.8,248.8 258.2,250.1 262.6,252.3 267.0,244.9 271.4,240.7 275.8,254.7 280.2,258.0 284.6,251.3 288.9,251.5 293.3,246.5 297.7,241.9 302.1,237.6 306.5,243.5 310.9,235.3 315.3,214.8 319.7,206.9 324.0,210.6 328.4,218.8 332.8,220.4 337.2,227.9 341.6,236.9 346.0,244.8 350.4,245.3 354.8,231.5 359.2,236.0 363.5,236.9 367.9,230.3 372.3,225.6 376.7,227.5 381.1,220.3 385.5,215.0 389.9,208.5 394.3,212.2 398.6,203.5 403.0,215.8 407.4,191.5 411.8,188.1 416.2,177.3 420.6,180.7 425.0,175.8 429.4,177.3 433.7,174.1 438.1,174.9 442.5,182.4 446.9,176.7 451.3,173.2 455.7,166.7 460.1,167.1 464.5,160.7 468.9,155.3 473.2,153.5 477.6,151.7 482.0,150.5 486.4,153.0 490.8,144.5 495.2,127.4 499.6,132.8 504.0,127.4 508.3,138.3 512.7,132.1 517.1,138.0 521.5,135.3 525.9,138.4 530.3,146.1 534.7,142.7 539.1,145.6 543.4,146.8 547.8,147.4 552.2,153.4 556.6,146.8 561.0,134.0 565.4,121.7 569.8,119.0 574.2,118.3 578.6,124.3 582.9,120.9 587.3,117.4 591.7,108.7 596.1,103.4 600.5,109.7 604.9,99.3 609.3,100.0 613.7,91.1 618.0,89.9 622.4,86.3 626.8,82.9 631.2,72.8 635.6,73.9 640.0,66.3 644.4,63.6 648.8,79.2 653.1,78.0 657.5,68.0 661.9,73.6 666.3,65.8 670.7,52.6 675.1,55.3 679.5,53.6 683.9,48.4 688.3,53.3 692.6,51.8"/><polyline points="104.6,331.3 109.0,327.8 113.4,317.7 117.8,318.3 122.2,295.4 126.6,291.7 131.0,288.8 135.4,297.3 139.8,296.0 144.1,308.3 148.5,301.2 152.9,287.7 157.3,301.6 161.7,294.3 166.1,294.1 170.5,307.9 174.9,300.2 179.2,288.4 183.6,296.9 188.0,292.7 192.4,281.2 196.8,278.1 201.2,268.3 205.6,277.9 210.0,271.6 214.3,273.5 218.7,287.1 223.1,293.8 227.5,305.9 231.9,308.0 236.3,288.1 240.7,300.2 245.1,291.3 249.5,289.8 253.8,272.8 258.2,259.3 262.6,243.8 267.0,245.1 271.4,244.6 275.8,231.0 280.2,227.4 284.6,230.6 288.9,230.9 293.3,222.0 297.7,232.9 302.1,233.4 306.5,237.1 310.9,222.6 315.3,223.7 319.7,221.6 324.0,221.2 328.4,211.6 332.8,200.8 337.2,202.5 341.6,191.6 346.0,203.0 350.4,211.0 354.8,199.2 359.2,208.5 363.5,202.1 367.9,205.8 372.3,199.4 376.7,191.7 381.1,200.7 385.5,201.9 389.9,192.3 394.3,183.6 398.6,179.7 403.0,172.9 407.4,175.1 411.8,173.6 416.2,184.1 420.6,181.4 425.0,186.2 429.4,189.2 433.7,190.1 438.1,176.4 442.5,178.6 446.9,180.6 451.3,195.0 455.7,198.4 460.1,204.6 464.5,205.7 468.9,199.7 473.2,191.3 477.6,189.5 482.0,205.0 486.4,198.9 490.8,165.2 495.2,176.2 499.6,161.3 504.0,162.5 508.3,155.2 512.7,159.3 517.1,156.9 521.5,153.7 525.9,140.2 530.3,149.4 534.7,142.8 539.1,143.5 543.4,140.2 547.8,142.4 552.2,140.7 556.6,146.9 561.0,145.7 565.4,138.0 569.8,134.3 574.2,129.7 578.6,128.2 582.9,118.9 587.3,128.8 591.7,125.8 596.1,115.7 600.5,117.2 604.9,126.3 609.3,123.7 613.7,121.1 618.0,110.4 622.4,117.7 626.8,110.6 631.2,106.9 635.6,102.1 640.0,97.6 644.4,93.5 648.8,100.3 653.1,111.6 657.5,109.3 661.9,101.1 666.3,96.1 670.7,87.5 675.1,91.3 679.5,91.5 683.9,88.6 688.3,90.1 692.6,93.0"/><polyline points="104.6,307.7 109.0,316.7 113.4,301.3 117.8,290.1 122.2,295.6 126.6,298.4 131.0,301.7 135.4,299.0 139.8,300.9 144.1,300.7 148.5,298.4 152.9,295.2 157.3,290.4 161.7,295.9 166.1,304.5 170.5,282.8 174.9,282.5 179.2,288.4 183.6,281.9 188.0,254.3 192.4,267.6 196.8,269.1 201.2,259.8 205.6,266.8 210.0,258.1 214.3,283.0 218.7,266.7 223.1,265.8 227.5,251.0 231.9,252.5 236.3,261.0 240.7,257.5 245.1,255.9 249.5,260.4 253.8,270.5 258.2,267.5 262.6,248.8 267.0,253.6 271.4,256.3 275.8,255.5 280.2,247.8 284.6,251.2 288.9,249.9 293.3,238.6 297.7,222.2 302.1,236.4 306.5,230.5 310.9,227.2 315.3,216.1 319.7,202.7 324.0,194.3 328.4,207.2 332.8,195.0 337.2,196.9 341.6,181.2 346.0,174.9 350.4,166.8 354.8,174.1 359.2,175.8 363.5,179.4 367.9,180.4 372.3,186.3 376.7,186.1 381.1,183.4 385.5,201.9 389.9,196.5 394.3,194.3 398.6,188.9 403.0,189.7 407.4,187.6 411.8,176.8 416.2,174.6 420.6,176.9 425.0,170.0 429.4,177.7 433.7,172.6 438.1,163.3 442.5,162.5 446.9,167.6 451.3,164.2 455.7,155.2 460.1,159.6 464.5,163.6 468.9,162.0 473.2,163.5 477.6,168.1 482.0,156.7 486.4,166.5 490.8,183.4 495.2,170.6 499.6,177.3 504.0,170.2 508.3,163.8 512.7,157.7 517.1,149.3 521.5,143.6 525.9,138.9 530.3,143.6 534.7,134.4 539.1,133.8 543.4,131.8 547.8,126.1 552.2,128.2 556.6,130.5 561.0,141.7 565.4,136.2 569.8,136.5 574.2,132.4 578.6,118.7 582.9,121.7 587.3,116.2 591.7,110.6 596.1,118.5 600.5,105.0 604.9,101.5 609.3,103.5 613.7,95.0 618.0,99.3 622.4,96.7 626.8,92.1 631.2,98.4 635.6,89.1 640.0,92.7 644.4,90.1 648.8,77.3 653.1,76.9 657.5,77.1 661.9,82.0 666.3,70.7 670.7,77.2 675.1,70.0 679.5,75.8 683.9,71.0 688.3,78.3 692.6,65.6"/><polyline points="104.6,278.7 109.0,278.5 113.4,283.5 117.8,298.6 122.2,291.0 126.6,298.5 131.0,296.4 135.4,307.1 139.8,288.3 144.1,294.0 148.5,294.6 152.9,302.4 157.3,309.2 161.7,306.4 166.1,299.1 170.5,290.7 174.9,294.6 179.2,286.7 183.6,294.1 188.0,279.7 192.4,272.3 196.8,268.8 201.2,281.0 205.6,291.8 210.0,301.6 214.3,304.7 218.7,302.8 223.1,289.4 227.5,263.1 231.9,262.8 236.3,265.3 240.7,253.2 245.1,237.6 249.5,230.8 253.8,230.6 258.2,234.7 262.6,261.4 267.0,263.8 271.4,251.9 275.8,236.0 280.2,234.7 284.6,254.1 288.9,223.9 293.3,222.7 297.7,222.7 302.1,227.6 306.5,219.9 310.9,218.5 315.3,233.2 319.7,224.3 324.0,229.0 328.4,241.3 332.8,226.9 337.2,218.6 341.6,222.8 346.0,230.2 350.4,230.3 354.8,230.8 359.2,228.5 363.5,228.5 367.9,220.1 372.3,232.1 376.7,227.9 381.1,229.3 385.5,229.5 389.9,236.4 394.3,228.0 398.6,226.5 403.0,217.4 407.4,217.3 411.8,236.3 416.2,230.4 420.6,233.4 425.0,231.4 429.4,229.2 433.7,217.1 438.1,217.8 442.5,216.6 446.9,203.7 451.3,202.8 455.7,198.6 460.1,178.1 464.5,202.8 468.9,187.3 473.2,179.5 477.6,185.9 482.0,175.9 486.4,182.8 490.8,185.3 495.2,171.3 499.6,144.5 504.0,146.8 508.3,149.2 512.7,151.3 517.1,149.2 521.5,143.4 525.9,143.7 530.3,141.6 534.7,133.2 539.1,133.4 543.4,129.7 547.8,136.5 552.2,133.2 556.6,131.7 561.0,126.4 565.4,121.7 569.8,122.5 574.2,127.6 578.6,135.2 582.9,140.8 587.3,129.9 591.7,132.5 596.1,121.5 600.5,117.2 604.9,118.7 609.3,113.8 613.7,112.0 618.0,100.0 622.4,110.0 626.8,105.8 631.2,89.1 635.6,93.3 640.0,87.1 644.4,93.9 648.8,87.3 653.1,100.2 657.5,99.3 661.9,98.0 666.3,103.2 670.7,101.6 675.1,96.8 679.5,91.1 683.9,92.4 688.3,92.1 692.6,84.4"/><polyline points="104.6,351.2 109.0,343.1 113.4,350.3 117.8,342.2 122.2,331.5 126.6,328.7 131.0,336.0 135.4,327.7 139.8,314.0 144.1,316.8 148.5,320.5 152.9,313.7 157.3,318.6 161.7,324.2 166.1,317.2 170.5,311.9 174.9,303.5 179.2,311.4 183.6,299.0 188.0,294.9 192.4,317.7 196.8,301.5 201.2,323.4 205.6,297.1 210.0,294.8 214.3,310.7 218.7,321.5 223.1,305.8 227.5,280.7 231.9,274.4 236.3,276.4 240.7,274.8 245.1,263.2 249.5,272.6 253.8,267.0 258.2,263.7 262.6,273.9 267.0,251.1 271.4,264.9 275.8,238.5 280.2,253.3 284.6,247.3 288.9,244.8 293.3,238.1 297.7,225.3 302.1,224.0 306.5,227.5 310.9,214.0 315.3,224.1 319.7,217.1 324.0,219.5 328.4,217.4 332.8,209.5 337.2,212.4 341.6,219.5 346.0,214.9 350.4,214.3 354.8,215.1 359.2,208.3 363.5,209.0 367.9,207.4 372.3,197.7 376.7,177.6 381.1,174.7 385.5,181.7 389.9,184.0 394.3,193.7 398.6,189.9 403.0,182.7 407.4,182.2 411.8,188.0 416.2,184.0 420.6,188.3 425.0,185.9 429.4,187.6 433.7,188.1 438.1,179.1 442.5,179.1 446.9,176.8 451.3,174.7 455.7,174.2 460.1,170.1 464.5,173.4 468.9,167.3 473.2,182.8 477.6,182.6 482.0,171.4 486.4,148.9 490.8,147.5 495.2,146.6 499.6,135.0 504.0,135.6 508.3,135.3 512.7,147.4 517.1,155.6 521.5,153.5 525.9,145.2 530.3,151.5 534.7,136.7 539.1,138.0 543.4,135.3 547.8,131.2 552.2,131.6 556.6,128.5 561.0,120.2 565.4,132.1 569.8,146.9 574.2,145.1 578.6,154.8 582.9,147.1 587.3,142.9 591.7,147.6 596.1,142.0 600.5,132.8 604.9,132.9 609.3,126.4 613.7,126.9 618.0,118.8 622.4,115.1 626.8,114.1 631.2,118.9 635.6,111.7 640.0,98.7 644.4,112.3 648.8,111.9 653.1,107.0 657.5,92.5 661.9,92.2 666.3,84.8 670.7,76.1 675.1,70.6 679.5,86.1 683.9,74.1 688.3,65.9 692.6,68.7"/><polyline points="104.6,305.9 109.0,310.4 113.4,314.2 117.8,313.2 122.2,314.2 126.6,322.0 131.0,310.2 135.4,299.9 139.8,291.8 144.1,297.4 148.5,298.4 152.9,302.1 157.3,301.6 161.7,301.2 166.1,303.6 170.5,303.2 174.9,287.6 179.2,275.9 183.6,263.2 188.0,248.0 192.4,258.6 196.8,258.2 201.2,254.5 205.6,245.1 210.0,237.6 214.3,252.3 218.7,250.4 223.1,254.1 227.5,265.8 231.9,258.0 236.3,256.4 240.7,264.2 245.1,253.1 249.5,247.6 253.8,243.9 258.2,244.0 262.6,231.6 267.0,233.3 271.4,232.9 275.8,230.5 280.2,240.5 284.6,248.6 288.9,259.8 293.3,263.7 297.7,264.9 302.1,247.0 306.5,243.1 310.9,239.7 315.3,238.3 319.7,237.0 324.0,220.8 328.4,240.4 332.8,226.0 337.2,222.6 341.6,226.2 346.0,216.3 350.4,210.7 354.8,185.5 359.2,182.3 363.5,174.3 367.9,182.4 372.3,189.0 376.7,182.8 381.1,198.6 385.5,200.9 389.9,200.7 394.3,195.3 398.6,191.9 403.0,193.4 407.4,195.1 411.8,195.5 416.2,195.9 420.6,194.6 425.0,185.7 429.4,185.1 433.7,186.0 438.1,190.1 442.5,199.8 446.9,195.8 451.3,183.6 455.7,181.8 460.1,186.0 464.5,174.2 468.9,183.5 473.2,177.3 477.6,170.9 482.0,172.4 486.4,178.2 490.8,180.4 495.2,152.4 499.6,145.6 504.0,142.8 508.3,141.3 512.7,152.6 517.1,153.3 521.5,139.7 525.9,144.3 530.3,135.0 534.7,141.3 539.1,134.2 543.4,138.6 547.8,138.1 552.2,138.5 556.6,133.7 561.0,131.1 565.4,125.1 569.8,138.4 574.2,149.5 578.6,143.9 582.9,135.8 587.3,136.2 591.7,124.2 596.1,121.0 600.5,112.6 604.9,97.3 609.3,104.7 613.7,103.7 618.0,96.6 622.4,94.3 626.8,100.0 631.2,106.6 635.6,115.9 640.0,109.4 644.4,106.7 648.8,99.7 653.1,99.0 657.5,99.2 661.9,90.3 666.3,81.1 670.7,91.6 675.1,89.7 679.5,88.1 683.9,81.4 688.3,83.1 692.6,72.4"/><polyline points="104.6,294.5 109.0,310.3 113.4,296.0 117.8,301.9 122.2,298.8 126.6,318.0 131.0,318.1 135.4,306.6 139.8,313.0 144.1,319.8 148.5,305.7 152.9,307.5 157.3,332.3 161.7,329.4 166.1,327.4 170.5,308.7 174.9,317.2 179.2,300.3 183.6,308.4 188.0,314.3 192.4,298.7 196.8,307.2 201.2,302.9 205.6,296.2 210.0,290.5 214.3,271.6 218.7,284.5 223.1,268.1 227.5,268.1 231.9,289.0 236.3,273.3 240.7,273.8 245.1,257.9 249.5,270.0 253.8,273.3 258.2,262.1 262.6,254.2 267.0,258.7 271.4,259.3 275.8,257.4 280.2,262.2 284.6,261.6 288.9,250.6 293.3,255.9 297.7,258.8 302.1,252.5 306.5,257.5 310.9,248.2 315.3,246.7 319.7,254.9 324.0,241.0 328.4,241.4 332.8,238.7 337.2,240.0 341.6,240.0 346.0,239.6 350.4,244.4 354.8,242.3 359.2,236.0 363.5,229.6 367.9,215.7 372.3,222.5 376.7,221.1 381.1,216.9 385.5,230.0 389.9,219.2 394.3,214.7 398.6,222.4 403.0,222.1 407.4,222.3 411.8,212.6 416.2,230.4 420.6,217.7 425.0,223.1 429.4,210.9 433.7,207.1 438.1,191.6 442.5,183.0 446.9,170.3 451.3,179.8 455.7,181.4 460.1,174.1 464.5,166.4 468.9,175.9 473.2,169.4 477.6,163.4 482.0,163.8 486.4,152.5 490.8,157.5 495.2,176.7 499.6,163.7 504.0,155.9 508.3,145.6 512.7,141.7 517.1,139.2 521.5,136.5 525.9,133.2 530.3,123.3 534.7,115.7 539.1,109.5 543.4,106.7 547.8,110.2 552.2,117.2 556.6,105.5 561.0,102.6 565.4,103.3 569.8,92.6 574.2,98.4 578.6,103.2 582.9,88.3 587.3,97.6 591.7,87.9 596.1,92.2 600.5,92.6 604.9,87.8 609.3,80.9 613.7,75.9 618.0,73.6 622.4,71.2 626.8,68.7 631.2,66.1 635.6,67.6 640.0,65.4 644.4,59.3 648.8,63.3 653.1,66.6 657.5,64.0 661.9,75.7 666.3,68.1 670.7,76.3 675.1,62.9 679.5,66.4 683.9,67.6 688.3,81.2 692.6,79.7"/><polyline points="104.6,311.8 109.0,313.2 113.4,305.5 117.8,294.1 122.2,295.0 126.6,301.1 131.0,281.5 135.4,285.6 139.8,296.7 144.1,294.6 148.5,288.3 152.9,299.1 157.3,297.4 161.7,296.8 166.1,299.2 170.5,294.1 174.9,299.3 179.2,294.0 183.6,290.9 188.0,307.4 192.4,296.1 196.8,296.8 201.2,300.5 205.6,298.2 210.0,306.7 214.3,293.0 218.7,301.4 223.1,320.2 227.5,319.7 231.9,305.2 236.3,281.9 240.7,289.9 245.1,285.8 249.5,278.3 253.8,274.1 258.2,279.8 262.6,287.0 267.0,270.7 271.4,266.8 275.8,264.0 280.2,250.2 284.6,247.3 288.9,250.7 293.3,250.8 297.7,266.7 302.1,267.6 306.5,271.8 310.9,261.9 315.3,243.7 319.7,249.7 324.0,244.0 328.4,239.8 332.8,228.7 337.2,225.7 341.6,240.4 346.0,231.5 350.4,237.3 354.8,225.7 359.2,224.7 363.5,218.8 367.9,202.3 372.3,193.0 376.7,198.0 381.1,191.5 385.5,187.5 389.9,179.8 394.3,179.2 398.6,179.9 403.0,170.8 407.4,165.3 411.8,169.0 416.2,168.6 420.6,164.5 425.0,163.1 429.4,161.1 433.7,170.1 438.1,158.0 442.5,164.1 446.9,157.8 451.3,161.3 455.7,162.9 460.1,157.1 464.5,152.7 468.9,151.1 473.2,154.1 477.6,149.8 482.0,136.0 486.4,135.3 490.8,131.2 495.2,137.7 499.6,139.1 504.0,136.3 508.3,139.2 512.7,135.0 517.1,129.8 521.5,122.8 525.9,125.6 530.3,127.3 534.7,124.7 539.1,118.1 543.4,114.5 547.8,108.6 552.2,114.1 556.6,119.3 561.0,124.0 565.4,129.5 569.8,124.1 574.2,123.2 578.6,111.8 582.9,115.3 587.3,113.5 591.7,109.0 596.1,107.0 600.5,102.2 604.9,103.4 609.3,98.4 613.7,93.0 618.0,97.2 622.4,92.6 626.8,93.0 631.2,90.8 635.6,98.8 640.0,100.7 644.4,107.6 648.8,92.1 653.1,90.1 657.5,89.8 661.9,88.3 666.3,102.4 670.7,99.9 675.1,100.0 679.5,91.8 683.9,92.2 688.3,85.9 692.6,80.4"/><polyline points="104.6,265.5 109.0,272.2 113.4,269.6 117.8,269.0 122.2,263.4 126.6,262.8 131.0,262.0 135.4,281.4 139.8,268.2 144.1,274.8 148.5,275.1 152.9,277.2 157.3,271.2 161.7,270.0 166.1,264.8 170.5,276.8 174.9,277.8 179.2,293.2 183.6,299.2 188.0,297.1 192.4,297.1 196.8,302.1 201.2,296.5 205.6,309.5 210.0,308.0 214.3,319.2 218.7,302.3 223.1,316.6 227.5,300.9 231.9,303.1 236.3,292.4 240.7,269.8 245.1,289.2 249.5,291.6 253.8,289.3 258.2,277.7 262.6,273.2 267.0,250.4 271.4,237.4 275.8,238.9 280.2,231.5 284.6,214.0 288.9,224.6 293.3,229.4 297.7,237.7 302.1,216.7 306.5,211.6 310.9,220.3 315.3,207.1 319.7,191.4 324.0,201.5 328.4,213.4 332.8,203.3 337.2,207.6 341.6,217.3 346.0,218.9 350.4,220.4 354.8,226.0 359.2,228.0 363.5,225.6 367.9,229.8 372.3,224.1 376.7,202.2 381.1,203.2 385.5,196.7 389.9,200.0 394.3,198.7 398.6,194.8 403.0,198.4 407.4,192.8 411.8,192.0 416.2,190.2 420.6,185.6 425.0,187.4 429.4,181.1 433.7,179.5 438.1,180.2 442.5,169.6 446.9,166.0 451.3,172.9 455.7,173.2 460.1,166.1 464.5,144.9 468.9,149.5 473.2,154.2 477.6,152.6 482.0,173.6 486.4,164.1 490.8,166.4 495.2,151.8 499.6,154.7 504.0,145.0 508.3,151.9 512.7,150.8 517.1,138.6 521.5,135.5 525.9,147.9 530.3,138.0 534.7,141.4 539.1,143.8 543.4,136.5 547.8,142.5 552.2,144.8 556.6,144.2 561.0,141.9 565.4,137.3 569.8,141.1 574.2,149.5 578.6,153.3 582.9,142.3 587.3,136.1 591.7,133.1 596.1,128.7 600.5,120.0 604.9,118.0 609.3,118.8 613.7,107.9 618.0,88.8 622.4,85.7 626.8,89.5 631.2,88.1 635.6,86.4 640.0,87.9 644.4,93.5 648.8,76.6 653.1,65.5 657.5,52.8 661.9,57.0 666.3,63.4 670.7,71.3 675.1,66.9 679.5,57.6 683.9,66.0 688.3,64.2 692.6,69.8"/><polyline points="104.6,313.5 109.0,319.0 113.4,317.7 117.8,321.4 122.2,312.4 126.6,298.8 131.0,293.8 135.4,301.8 139.8,309.0 144.1,306.1 148.5,307.5 152.9,313.3 157.3,299.9 161.7,309.0 166.1,293.5 170.5,292.6 174.9,280.5 179.2,276.8 183.6,281.8 188.0,284.1 192.4,276.5 196.8,267.2 201.2,274.2 205.6,276.4 210.0,275.8 214.3,274.8 218.7,284.1 223.1,265.4 227.5,256.2 231.9,274.6 236.3,271.5 240.7,267.4 245.1,270.3 249.5,260.2 253.8,265.5 258.2,249.3 262.6,243.2 267.0,246.0 271.4,249.9 275.8,256.4 280.2,245.4 284.6,248.4 288.9,247.7 293.3,250.9 297.7,241.2 302.1,231.1 306.5,233.7 310.9,226.5 315.3,229.1 319.7,222.4 324.0,216.0 328.4,201.7 332.8,198.3 337.2,194.3 341.6,191.0 346.0,180.0 350.4,180.2 354.8,187.1 359.2,187.6 363.5,172.6 367.9,172.1 372.3,174.0 376.7,182.7 381.1,185.4 385.5,207.1 389.9,200.7 394.3,199.3 398.6,197.2 403.0,193.9 407.4,194.7 411.8,188.5 416.2,188.7 420.6,180.9 425.0,174.7 429.4,171.0 433.7,176.4 438.1,160.2 442.5,161.2 446.9,162.6 451.3,165.3 455.7,170.3 460.1,165.6 464.5,168.7 468.9,155.6 473.2,182.0 477.6,193.6 482.0,189.7 486.4,189.0 490.8,174.1 495.2,173.7 499.6,172.8 504.0,172.3 508.3,168.8 512.7,169.8 517.1,172.4 521.5,174.8 525.9,166.1 530.3,159.2 534.7,153.1 539.1,151.9 543.4,145.8 547.8,151.9 552.2,153.3 556.6,156.5 561.0,150.7 565.4,148.4 569.8,142.5 574.2,139.0 578.6,134.0 582.9,128.2 587.3,119.0 591.7,133.0 596.1,133.0 600.5,118.2 604.9,116.0 609.3,115.2 613.7,110.2 618.0,110.0 622.4,115.8 626.8,99.9 631.2,95.6 635.6,109.0 640.0,85.6 644.4,83.8 648.8,90.6 653.1,91.2 657.5,85.2 661.9,75.5 666.3,63.4 670.7,57.9 675.1,58.8 679.5,55.8 683.9,57.0 688.3,62.6 692.6,62.9"/><polyline points="104.6,353.6 109.0,352.0 113.4,339.8 117.8,345.4 122.2,335.6 126.6,332.1 131.0,335.8 135.4,328.0 139.8,321.0 144.1,324.1 148.5,335.7 152.9,330.0 157.3,323.8 161.7,326.4 166.1,327.2 170.5,330.1 174.9,329.6 179.2,324.9 183.6,322.7 188.0,324.0 192.4,329.5 196.8,329.9 201.2,330.3 205.6,323.5 210.0,321.9 214.3,318.4 218.7,278.6 223.1,284.3 227.5,279.7 231.9,277.2 236.3,263.3 240.7,250.4 245.1,247.1 249.5,242.8 253.8,245.7 258.2,245.9 262.6,237.6 267.0,242.2 271.4,235.9 275.8,224.0 280.2,226.7 284.6,226.9 288.9,231.3 293.3,231.9 297.7,232.0 302.1,230.0 306.5,213.1 310.9,207.9 315.3,204.0 319.7,201.9 324.0,197.8 328.4,201.2 332.8,186.5 337.2,179.5 341.6,194.3 346.0,178.8 350.4,169.9 354.8,169.8 359.2,186.2 363.5,187.9 367.9,203.7 372.3,212.1 376.7,206.2 381.1,206.4 385.5,195.6 389.9,203.6 394.3,200.8 398.6,207.8 403.0,207.7 407.4,205.5 411.8,207.4 416.2,207.9 420.6,211.4 425.0,206.9 429.4,189.7 433.7,193.0 438.1,197.8 442.5,191.3 446.9,193.5 451.3,186.7 455.7,190.9 460.1,172.0 464.5,166.2 468.9,146.0 473.2,145.3 477.6,143.3 482.0,148.3 486.4,160.9 490.8,154.6 495.2,151.9 499.6,146.2 504.0,125.8 508.3,124.1 512.7,123.1 517.1,126.6 521.5,117.7 525.9,115.3 530.3,112.8 534.7,118.3 539.1,109.2 543.4,109.4 547.8,106.0 552.2,110.7 556.6,118.7 561.0,116.2 565.4,116.4 569.8,118.7 574.2,118.1 578.6,123.0 582.9,115.1 587.3,119.7 591.7,105.8 596.1,105.1 600.5,100.6 604.9,105.3 609.3,115.1 613.7,112.9 618.0,118.0 622.4,108.0 626.8,117.0 631.2,124.9 635.6,126.9 640.0,117.2 644.4,111.1 648.8,111.7 653.1,105.3 657.5,108.0 661.9,105.6 666.3,105.4 670.7,113.1 675.1,116.4 679.5,115.7 683.9,106.8 688.3,115.2 692.6,115.0"/><polyline points="104.6,302.7 109.0,300.1 113.4,305.9 117.8,274.2 122.2,278.4 126.6,281.9 131.0,276.4 135.4,275.6 139.8,270.9 144.1,281.7 148.5,293.2 152.9,286.9 157.3,294.0 161.7,292.3 166.1,283.1 170.5,275.4 174.9,277.9 179.2,269.7 183.6,269.1 188.0,274.9 192.4,261.7 196.8,266.3 201.2,272.8 205.6,269.6 210.0,285.6 214.3,269.9 218.7,267.3 223.1,268.1 227.5,259.9 231.9,265.2 236.3,260.6 240.7,253.2 245.1,255.2 249.5,244.9 253.8,236.0 258.2,237.7 262.6,247.4 267.0,240.4 271.4,236.2 275.8,247.4 280.2,250.5 284.6,241.6 288.9,227.1 293.3,216.6 297.7,217.3 302.1,216.7 306.5,213.2 310.9,218.5 315.3,217.1 319.7,212.3 324.0,201.3 328.4,207.0 332.8,212.2 337.2,195.6 341.6,202.6 346.0,210.5 350.4,219.5 354.8,204.8 359.2,221.3 363.5,227.1 367.9,214.1 372.3,225.8 376.7,215.7 381.1,219.1 385.5,208.9 389.9,193.4 394.3,202.2 398.6,198.5 403.0,198.1 407.4,193.8 411.8,188.4 416.2,183.1 420.6,182.7 425.0,182.6 429.4,183.0 433.7,182.5 438.1,171.9 442.5,168.5 446.9,164.6 451.3,162.4 455.7,154.7 460.1,160.2 464.5,150.6 468.9,151.4 473.2,149.0 477.6,156.7 482.0,160.0 486.4,153.9 490.8,171.9 495.2,166.6 499.6,166.9 504.0,184.1 508.3,168.7 512.7,169.7 517.1,167.3 521.5,151.2 525.9,145.2 530.3,147.2 534.7,138.7 539.1,135.7 543.4,140.5 547.8,129.5 552.2,131.6 556.6,122.3 561.0,120.6 565.4,113.5 569.8,117.6 574.2,118.7 578.6,113.2 582.9,127.5 587.3,129.4 591.7,130.8 596.1,138.0 600.5,130.1 604.9,120.4 609.3,119.9 613.7,109.8 618.0,108.3 622.4,111.6 626.8,119.0 631.2,108.3 635.6,106.0 640.0,109.3 644.4,110.7 648.8,108.6 653.1,97.1 657.5,105.9 661.9,98.4 666.3,97.0 670.7,98.1 675.1,94.2 679.5,89.0 683.9,91.2 688.3,95.7 692.6,85.9"/><polyline points="104.6,303.5 109.0,302.9 113.4,307.3 117.8,298.0 122.2,308.5 126.6,303.5 131.0,306.6 135.4,306.9 139.8,292.8 144.1,299.8 148.5,287.6 152.9,291.1 157.3,287.7 161.7,285.9 166.1,289.6 170.5,286.8 174.9,266.5 179.2,270.8 183.6,264.3 188.0,276.7 192.4,265.2 196.8,256.8 201.2,254.2 205.6,262.3 210.0,243.7 214.3,237.9 218.7,240.3 223.1,228.8 227.5,228.4 231.9,228.6 236.3,227.4 240.7,226.6 245.1,224.4 249.5,237.2 253.8,236.1 258.2,240.6 262.6,245.5 267.0,255.6 271.4,248.8 275.8,245.6 280.2,251.6 284.6,243.0 288.9,254.3 293.3,278.4 297.7,263.6 302.1,248.7 306.5,256.5 310.9,246.5 315.3,239.3 319.7,229.3 324.0,222.3 328.4,210.6 332.8,214.0 337.2,211.2 341.6,218.6 346.0,228.2 350.4,217.6 354.8,207.0 359.2,191.6 363.5,195.9 367.9,197.5 372.3,197.2 376.7,191.8 381.1,192.6 385.5,186.8 389.9,184.4 394.3,187.8 398.6,178.2 403.0,175.1 407.4,173.0 411.8,182.2 416.2,172.6 420.6,177.1 425.0,183.8 429.4,180.6 433.7,174.3 438.1,168.3 442.5,167.2 446.9,158.2 451.3,156.2 455.7,160.0 460.1,166.3 464.5,163.2 468.9,171.1 473.2,180.4 477.6,165.2 482.0,172.1 486.4,168.9 490.8,168.2 495.2,175.1 499.6,172.7 504.0,181.5 508.3,172.7 512.7,161.0 517.1,156.4 521.5,156.3 525.9,142.5 530.3,130.7 534.7,131.1 539.1,130.7 543.4,116.3 547.8,105.7 552.2,109.7 556.6,105.8 561.0,110.3 565.4,111.8 569.8,107.8 574.2,102.5 578.6,103.7 582.9,101.7 587.3,101.9 591.7,109.2 596.1,110.7 600.5,102.2 604.9,101.5 609.3,103.0 613.7,94.6 618.0,98.8 622.4,105.8 626.8,101.2 631.2,104.1 635.6,113.0 640.0,102.2 644.4,109.9 648.8,114.7 653.1,107.6 657.5,121.4 661.9,118.3 666.3,116.9 670.7,117.0 675.1,109.2 679.5,103.7 683.9,104.5 688.3,98.9 692.6,89.9"/><polyline points="104.6,322.9 109.0,311.2 113.4,317.4 117.8,305.9 122.2,319.8 126.6,313.6 131.0,323.9 135.4,316.7 139.8,338.0 144.1,327.8 148.5,313.8 152.9,325.7 157.3,301.0 161.7,318.9 166.1,318.0 170.5,330.5 174.9,329.1 179.2,329.1 183.6,313.0 188.0,300.9 192.4,298.7 196.8,310.9 201.2,304.9 205.6,289.5 210.0,283.5 214.3,290.4 218.7,283.4 223.1,297.8 227.5,274.6 231.9,260.0 236.3,281.5 240.7,264.6 245.1,253.2 249.5,253.3 253.8,256.6 258.2,252.3 262.6,247.8 267.0,247.7 271.4,244.2 275.8,240.8 280.2,223.7 284.6,229.0 288.9,239.8 293.3,231.8 297.7,231.6 302.1,221.2 306.5,220.7 310.9,216.5 315.3,201.7 319.7,190.6 324.0,197.3 328.4,194.9 332.8,198.1 337.2,187.1 341.6,194.5 346.0,190.9 350.4,189.5 354.8,199.8 359.2,200.1 363.5,204.3 367.9,195.1 372.3,199.6 376.7,189.5 381.1,192.4 385.5,191.4 389.9,195.3 394.3,195.1 398.6,197.1 403.0,200.6 407.4,193.8 411.8,190.3 416.2,190.2 420.6,201.1 425.0,199.3 429.4,192.2 433.7,181.9 438.1,191.8 442.5,178.0 446.9,188.4 451.3,181.3 455.7,189.8 460.1,172.4 464.5,179.5 468.9,176.8 473.2,185.9 477.6,194.2 482.0,179.6 486.4,185.0 490.8,176.0 495.2,170.8 499.6,162.7 504.0,148.6 508.3,144.8 512.7,132.1 517.1,119.2 521.5,124.8 525.9,132.5 530.3,126.6 534.7,132.0 539.1,136.9 543.4,126.3 547.8,122.6 552.2,125.9 556.6,130.2 561.0,135.3 565.4,119.5 569.8,121.4 574.2,117.3 578.6,116.8 582.9,127.9 587.3,123.5 591.7,115.9 596.1,117.9 600.5,117.3 604.9,113.6 609.3,110.9 613.7,109.7 618.0,109.8 622.4,103.6 626.8,95.3 631.2,89.8 635.6,88.5 640.0,86.8 644.4,80.1 648.8,83.9 653.1,93.2 657.5,80.7 661.9,61.1 666.3,77.2 670.7,78.9 675.1,73.8 679.5,81.6 683.9,79.9 688.3,80.5 692.6,74.8"/><polyline points="104.6,286.0 109.0,289.0 113.4,285.1 117.8,286.0 122.2,282.6 126.6,278.6 131.0,267.2 135.4,277.6 139.8,280.4 144.1,282.7 148.5,287.5 152.9,290.8 157.3,281.1 161.7,279.4 166.1,281.4 170.5,298.5 174.9,297.7 179.2,288.2 183.6,286.0 188.0,279.2 192.4,289.9 196.8,264.6 201.2,260.2 205.6,262.9 210.0,270.0 214.3,266.9 218.7,277.0 223.1,267.5 227.5,260.7 231.9,253.6 236.3,248.6 240.7,255.7 245.1,247.7 249.5,243.7 253.8,245.6 258.2,236.0 262.6,242.6 267.0,259.5 271.4,254.5 275.8,257.6 280.2,257.2 284.6,247.0 288.9,236.1 293.3,232.1 297.7,220.4 302.1,214.3 306.5,220.0 310.9,224.7 315.3,227.8 319.7,232.2 324.0,230.0 328.4,230.0 332.8,229.4 337.2,235.0 341.6,225.1 346.0,230.6 350.4,218.3 354.8,229.6 359.2,232.8 363.5,220.9 367.9,209.3 372.3,209.1 376.7,207.7 381.1,211.7 385.5,218.3 389.9,223.7 394.3,230.2 398.6,228.1 403.0,220.9 407.4,204.0 411.8,209.2 416.2,212.9 420.6,201.1 425.0,197.8 429.4,203.2 433.7,176.9 438.1,179.0 442.5,180.1 446.9,175.0 451.3,169.9 455.7,166.3 460.1,165.6 464.5,178.9 468.9,186.1 473.2,188.7 477.6,184.8 482.0,167.2 486.4,166.9 490.8,150.3 495.2,147.6 499.6,157.5 504.0,155.5 508.3,161.5 512.7,162.3 517.1,160.0 521.5,158.1 525.9,138.7 530.3,136.6 534.7,135.4 539.1,123.2 543.4,120.4 547.8,107.5 552.2,109.1 556.6,114.8 561.0,109.8 565.4,115.0 569.8,126.0 574.2,111.9 578.6,106.4 582.9,103.7 587.3,107.3 591.7,103.8 596.1,95.8 600.5,100.5 604.9,98.2 609.3,97.6 613.7,88.3 618.0,84.5 622.4,89.7 626.8,81.4 631.2,73.9 635.6,69.4 640.0,68.4 644.4,58.6 648.8,56.3 653.1,58.9 657.5,76.3 661.9,69.4 666.3,79.2 670.7,82.8 675.1,86.3 679.5,83.9 683.9,90.5 688.3,96.8 692.6,97.9"/><polyline points="104.6,353.6 109.0,352.0 113.4,345.8 117.8,346.3 122.2,345.5 126.6,335.9 131.0,320.7 135.4,307.7 139.8,313.5 144.1,321.4 148.5,318.6 152.9,304.1 157.3,303.8 161.7,300.7 166.1,289.7 170.5,285.8 174.9,288.1 179.2,279.4 183.6,287.3 188.0,282.3 192.4,292.7 196.8,287.2 201.2,284.1 205.6,280.7 210.0,290.1 214.3,290.6 218.7,279.1 223.1,275.5 227.5,274.8 231.9,285.0 236.3,286.0 240.7,284.1 245.1,266.6 249.5,267.0 253.8,270.7 258.2,271.7 262.6,284.1 267.0,264.3 271.4,280.7 275.8,283.7 280.2,294.9 284.6,276.9 288.9,281.8 293.3,285.0 297.7,283.9 302.1,279.8 306.5,266.5 310.9,270.3 315.3,262.4 319.7,257.1 324.0,242.9 328.4,239.9 332.8,230.9 337.2,234.4 341.6,231.2 346.0,219.1 350.4,218.6 354.8,217.0 359.2,223.4 363.5,212.8 367.9,210.0 372.3,218.2 376.7,205.5 381.1,196.2 385.5,207.0 389.9,202.9 394.3,200.7 398.6,202.2 403.0,205.3 407.4,209.1 411.8,198.4 416.2,181.3 420.6,184.4 425.0,173.6 429.4,176.8 433.7,178.0 438.1,162.1 442.5,162.5 446.9,164.3 451.3,163.4 455.7,159.8 460.1,157.9 464.5,179.7 468.9,192.7 473.2,189.8 477.6,189.3 482.0,161.8 486.4,153.1 490.8,157.2 495.2,161.4 499.6,158.6 504.0,161.3 508.3,164.6 512.7,172.2 517.1,170.5 521.5,155.0 525.9,153.4 530.3,139.6 534.7,136.2 539.1,134.9 543.4,132.7 547.8,122.4 552.2,128.4 556.6,130.2 561.0,117.7 565.4,118.0 569.8,114.4 574.2,120.3 578.6,113.8 582.9,115.2 587.3,119.6 591.7,106.9 596.1,111.5 600.5,107.7 604.9,118.6 609.3,108.3 613.7,103.6 618.0,108.7 622.4,99.8 626.8,102.2 631.2,101.9 635.6,106.9 640.0,104.0 644.4,111.4 648.8,114.6 653.1,117.8 657.5,119.5 661.9,117.3 666.3,117.8 670.7,117.3 675.1,116.4 679.5,114.1 683.9,115.3 688.3,113.1 692.6,110.7"/><polyline points="104.6,275.1 109.0,280.0 113.4,287.9 117.8,283.7 122.2,288.4 126.6,286.6 131.0,300.1 135.4,299.5 139.8,319.9 144.1,316.8 148.5,313.7 152.9,315.5 157.3,316.4 161.7,307.6 166.1,320.6 170.5,297.0 174.9,280.3 179.2,300.3 183.6,296.1 188.0,307.4 192.4,301.0 196.8,307.7 201.2,290.3 205.6,284.4 210.0,270.0 214.3,287.6 218.7,293.6 223.1,284.0 227.5,299.5 231.9,286.4 236.3,268.0 240.7,293.8 245.1,284.8 249.5,286.8 253.8,270.1 258.2,296.9 262.6,293.9 267.0,293.7 271.4,297.0 275.8,283.8 280.2,294.9 284.6,293.1 288.9,290.7 293.3,277.5 297.7,273.7 302.1,277.5 306.5,275.4 310.9,249.8 315.3,232.1 319.7,230.1 324.0,225.4 328.4,228.0 332.8,220.4 337.2,221.6 341.6,226.5 346.0,203.4 350.4,214.3 354.8,210.2 359.2,206.3 363.5,187.9 367.9,205.4 372.3,203.8 376.7,205.2 381.1,193.5 385.5,186.7 389.9,186.4 394.3,185.1 398.6,188.6 403.0,185.5 407.4,187.2 411.8,194.9 416.2,186.8 420.6,194.4 425.0,172.7 429.4,175.2 433.7,166.9 438.1,173.1 442.5,171.1 446.9,171.7 451.3,175.6 455.7,181.5 460.1,184.2 464.5,182.1 468.9,166.8 473.2,187.6 477.6,177.9 482.0,158.4 486.4,155.4 490.8,145.0 495.2,150.9 499.6,159.1 504.0,176.0 508.3,177.9 512.7,166.9 517.1,148.9 521.5,143.0 525.9,138.9 530.3,126.1 534.7,121.6 539.1,125.5 543.4,121.4 547.8,118.9 552.2,116.3 556.6,124.9 561.0,134.8 565.4,125.4 569.8,121.4 574.2,118.2 578.6,126.2 582.9,122.6 587.3,129.5 591.7,129.9 596.1,133.2 600.5,137.6 604.9,138.6 609.3,130.6 613.7,125.8 618.0,135.3 622.4,134.0 626.8,132.8 631.2,131.4 635.6,129.8 640.0,128.1 644.4,126.4 648.8,124.7 653.1,123.1 657.5,121.5 661.9,120.0 666.3,114.1 670.7,107.2 675.1,94.8 679.5,102.1 683.9,106.7 688.3,107.4 692.6,98.1"/><polyline points="104.6,329.5 109.0,328.0 113.4,327.2 117.8,323.4 122.2,328.9 126.6,326.7 131.0,337.5 135.4,332.2 139.8,333.2 144.1,315.0 148.5,311.7 152.9,330.6 157.3,318.2 161.7,318.6 166.1,302.2 170.5,310.4 174.9,307.4 179.2,295.4 183.6,293.4 188.0,288.8 192.4,287.3 196.8,289.9 201.2,289.5 205.6,279.0 210.0,280.1 214.3,268.2 218.7,260.0 223.1,253.7 227.5,251.1 231.9,263.6 236.3,255.6 240.7,267.5 245.1,269.2 249.5,269.7 253.8,253.0 258.2,256.3 262.6,241.2 267.0,253.8 271.4,236.6 275.8,225.5 280.2,216.8 284.6,206.2 288.9,209.8 293.3,206.1 297.7,211.6 302.1,209.9 306.5,198.7 310.9,200.7 315.3,197.2 319.7,201.1 324.0,210.9 328.4,196.7 332.8,206.6 337.2,215.7 341.6,229.3 346.0,238.5 350.4,232.5 354.8,243.4 359.2,238.6 363.5,233.9 367.9,226.6 372.3,234.4 376.7,215.9 381.1,224.5 385.5,215.5 389.9,223.7 394.3,229.1 398.6,219.5 403.0,228.8 407.4,221.3 411.8,230.7 416.2,223.3 420.6,204.3 425.0,203.8 429.4,194.8 433.7,195.7 438.1,199.8 442.5,201.8 446.9,203.2 451.3,212.9 455.7,216.0 460.1,211.1 464.5,197.9 468.9,183.1 473.2,186.2 477.6,186.8 482.0,173.3 486.4,164.9 490.8,159.5 495.2,160.6 499.6,149.7 504.0,140.7 508.3,141.8 512.7,129.6 517.1,126.9 521.5,133.3 525.9,129.8 530.3,138.5 534.7,138.1 539.1,136.7 543.4,127.8 547.8,130.3 552.2,129.7 556.6,136.3 561.0,120.8 565.4,117.2 569.8,103.1 574.2,100.2 578.6,95.7 582.9,91.1 587.3,91.6 591.7,96.3 596.1,102.7 600.5,96.0 604.9,94.2 609.3,90.9 613.7,90.4 618.0,90.0 622.4,79.4 626.8,78.7 631.2,79.8 635.6,76.9 640.0,68.7 644.4,62.8 648.8,64.9 653.1,62.5 657.5,58.6 661.9,52.0 666.3,57.8 670.7,73.7 675.1,76.4 679.5,80.3 683.9,76.9 688.3,76.3 692.6,87.0"/><polyline points="104.6,308.5 109.0,289.1 113.4,297.0 117.8,292.5 122.2,289.0 126.6,288.4 131.0,284.3 135.4,286.3 139.8,286.7 144.1,287.6 148.5,285.9 152.9,278.7 157.3,267.4 161.7,272.9 166.1,268.5 170.5,269.9 174.9,265.9 179.2,268.7 183.6,266.8 188.0,265.7 192.4,265.6 196.8,284.0 201.2,295.3 205.6,287.9 210.0,292.9 214.3,270.7 218.7,275.3 223.1,277.9 227.5,270.4 231.9,287.5 236.3,294.9 240.7,293.3 245.1,261.0 249.5,256.6 253.8,260.6 258.2,255.7 262.6,237.6 267.0,228.5 271.4,245.7 275.8,244.5 280.2,252.2 284.6,251.8 288.9,266.6 293.3,235.1 297.7,226.7 302.1,238.4 306.5,241.5 310.9,243.7 315.3,233.0 319.7,220.3 324.0,214.3 328.4,203.4 332.8,195.2 337.2,198.9 341.6,218.3 346.0,214.6 350.4,216.3 354.8,214.1 359.2,214.6 363.5,208.7 367.9,224.3 372.3,212.0 376.7,206.4 381.1,218.6 385.5,221.7 389.9,203.5 394.3,203.7 398.6,202.3 403.0,191.8 407.4,186.8 411.8,179.7 416.2,179.1 420.6,181.0 425.0,173.9 429.4,182.5 433.7,176.4 438.1,174.7 442.5,179.3 446.9,195.5 451.3,178.0 455.7,173.8 460.1,176.5 464.5,167.0 468.9,178.2 473.2,177.4 477.6,186.5 482.0,186.2 486.4,176.9 490.8,185.1 495.2,193.0 499.6,179.5 504.0,175.8 508.3,168.9 512.7,163.2 517.1,164.1 521.5,165.2 525.9,162.3 530.3,155.7 534.7,141.6 539.1,132.6 543.4,134.1 547.8,135.6 552.2,132.7 556.6,126.1 561.0,121.8 565.4,120.7 569.8,115.2 574.2,110.1 578.6,110.4 582.9,114.8 587.3,116.0 591.7,110.4 596.1,111.4 600.5,102.1 604.9,111.5 609.3,109.3 613.7,117.6 618.0,112.7 622.4,116.8 626.8,111.3 631.2,122.3 635.6,102.3 640.0,106.2 644.4,106.2 648.8,92.8 653.1,92.9 657.5,99.8 661.9,95.9 666.3,89.9 670.7,94.4 675.1,93.6 679.5,102.5 683.9,91.8 688.3,96.7 692.6,91.7"/><polyline points="104.6,315.1 109.0,317.3 113.4,330.2 117.8,302.0 122.2,300.2 126.6,299.7 131.0,301.5 135.4,301.5 139.8,296.4 144.1,291.7 148.5,293.3 152.9,288.2 157.3,296.0 161.7,303.8 166.1,305.8 170.5,290.4 174.9,309.4 179.2,306.5 183.6,315.9 188.0,312.0 192.4,308.4 196.8,299.2 201.2,303.7 205.6,273.3 210.0,275.4 214.3,275.4 218.7,271.0 223.1,275.6 227.5,279.9 231.9,266.9 236.3,253.4 240.7,243.4 245.1,241.3 249.5,246.2 253.8,262.7 258.2,258.5 262.6,251.2 267.0,235.2 271.4,248.4 275.8,249.8 280.2,248.3 284.6,243.8 288.9,241.5 293.3,244.7 297.7,245.1 302.1,237.6 306.5,234.1 310.9,227.7 315.3,224.3 319.7,220.7 324.0,225.9 328.4,231.2 332.8,232.1 337.2,228.7 341.6,232.8 346.0,234.4 350.4,227.4 354.8,225.1 359.2,220.9 363.5,209.4 367.9,194.1 372.3,204.0 376.7,206.8 381.1,216.6 385.5,215.3 389.9,225.0 394.3,209.4 398.6,224.2 403.0,195.7 407.4,199.1 411.8,195.3 416.2,204.8 420.6,205.4 425.0,198.0 429.4,191.4 433.7,188.2 438.1,178.1 442.5,179.6 446.9,175.1 451.3,162.1 455.7,168.1 460.1,162.2 464.5,156.7 468.9,152.0 473.2,147.7 477.6,149.6 482.0,149.2 486.4,131.8 490.8,133.4 495.2,124.4 499.6,118.8 504.0,127.1 508.3,133.8 512.7,125.1 517.1,134.6 521.5,143.3 525.9,131.1 530.3,134.6 534.7,131.9 539.1,134.3 543.4,116.3 547.8,119.5 552.2,111.6 556.6,116.5 561.0,121.5 565.4,111.5 569.8,111.5 574.2,108.5 578.6,107.9 582.9,116.3 587.3,121.1 591.7,113.1 596.1,111.1 600.5,104.5 604.9,106.7 609.3,103.5 613.7,106.2 618.0,103.3 622.4,98.1 626.8,94.3 631.2,85.6 635.6,85.6 640.0,95.8 644.4,85.4 648.8,65.6 653.1,67.8 657.5,66.3 661.9,67.4 666.3,77.4 670.7,71.4 675.1,69.6 679.5,69.9 683.9,66.9 688.3,84.7 692.6,77.6"/><polyline points="104.6,323.8 109.0,336.0 113.4,324.5 117.8,316.5 122.2,312.9 126.6,304.4 131.0,315.1 135.4,308.4 139.8,303.2 144.1,290.3 148.5,288.5 152.9,289.4 157.3,284.5 161.7,291.3 166.1,293.9 170.5,291.5 174.9,279.5 179.2,298.0 183.6,302.1 188.0,295.5 192.4,300.7 196.8,289.3 201.2,276.8 205.6,277.6 210.0,299.4 214.3,297.0 218.7,278.5 223.1,263.7 227.5,265.0 231.9,250.1 236.3,238.5 240.7,248.8 245.1,239.7 249.5,239.6 253.8,250.3 258.2,258.8 262.6,245.6 267.0,253.2 271.4,251.7 275.8,258.1 280.2,269.4 284.6,271.2 288.9,252.6 293.3,262.5 297.7,267.5 302.1,246.1 306.5,217.4 310.9,220.6 315.3,212.1 319.7,213.0 324.0,216.4 328.4,213.7 332.8,207.8 337.2,218.5 341.6,203.8 346.0,189.9 350.4,177.7 354.8,180.6 359.2,187.1 363.5,172.8 367.9,171.3 372.3,174.9 376.7,177.2 381.1,177.7 385.5,174.2 389.9,181.4 394.3,183.6 398.6,186.7 403.0,193.1 407.4,191.8 411.8,184.2 416.2,188.2 420.6,193.2 425.0,206.0 429.4,194.7 433.7,183.1 438.1,180.5 442.5,190.6 446.9,177.0 451.3,175.6 455.7,166.0 460.1,165.7 464.5,167.4 468.9,167.0 473.2,176.4 477.6,183.1 482.0,194.0 486.4,199.7 490.8,200.5 495.2,188.5 499.6,187.3 504.0,191.2 508.3,186.6 512.7,179.9 517.1,172.0 521.5,174.8 525.9,171.0 530.3,162.1 534.7,159.5 539.1,155.6 543.4,142.4 547.8,134.6 552.2,129.6 556.6,125.2 561.0,130.2 565.4,132.6 569.8,123.6 574.2,117.8 578.6,109.0 582.9,114.0 587.3,108.1 591.7,117.7 596.1,117.0 600.5,124.5 604.9,126.3 609.3,127.8 613.7,111.4 618.0,105.2 622.4,98.7 626.8,105.9 631.2,103.9 635.6,102.3 640.0,98.4 644.4,87.7 648.8,93.1 653.1,92.8 657.5,91.5 661.9,99.8 666.3,98.6 670.7,91.6 675.1,95.6 679.5,90.0 683.9,75.9 688.3,81.3 692.6,76.6"/><polyline points="104.6,283.3 109.0,287.0 113.4,294.2 117.8,288.5 122.2,281.8 126.6,287.5 131.0,282.1 135.4,282.8 139.8,275.2 144.1,278.1 148.5,279.6 152.9,289.2 157.3,299.9 161.7,307.3 166.1,302.7 170.5,299.4 174.9,301.2 179.2,307.5 183.6,279.3 188.0,281.3 192.4,278.8 196.8,272.6 201.2,279.0 205.6,278.2 210.0,285.6 214.3,280.1 218.7,277.3 223.1,284.6 227.5,280.0 231.9,289.3 236.3,286.4 240.7,286.1 245.1,275.2 249.5,273.6 253.8,286.8 258.2,272.1 262.6,261.5 267.0,265.4 271.4,278.8 275.8,281.1 280.2,274.7 284.6,268.7 288.9,260.3 293.3,261.2 297.7,238.8 302.1,244.7 306.5,240.8 310.9,242.5 315.3,223.3 319.7,234.0 324.0,227.7 328.4,224.4 332.8,217.6 337.2,214.3 341.6,220.7 346.0,221.8 350.4,201.5 354.8,200.2 359.2,219.8 363.5,213.6 367.9,213.8 372.3,210.6 376.7,213.4 381.1,223.8 385.5,218.3 389.9,222.9 394.3,221.5 398.6,227.5 403.0,227.9 407.4,222.9 411.8,213.4 416.2,205.6 420.6,210.8 425.0,213.7 429.4,207.6 433.7,223.1 438.1,212.4 442.5,199.7 446.9,208.2 451.3,202.1 455.7,189.9 460.1,176.4 464.5,178.4 468.9,171.5 473.2,172.0 477.6,165.3 482.0,168.3 486.4,160.0 490.8,156.0 495.2,144.6 499.6,154.8 504.0,151.0 508.3,160.0 512.7,148.4 517.1,134.7 521.5,136.4 525.9,140.4 530.3,130.9 534.7,131.3 539.1,131.6 543.4,136.8 547.8,137.7 552.2,124.9 556.6,116.9 561.0,126.2 565.4,123.6 569.8,124.3 574.2,124.8 578.6,123.8 582.9,120.2 587.3,116.1 591.7,109.7 596.1,102.8 600.5,100.9 604.9,103.3 609.3,107.4 613.7,97.0 618.0,103.7 622.4,110.5 626.8,113.3 631.2,95.6 635.6,101.2 640.0,110.6 644.4,106.1 648.8,107.4 653.1,102.8 657.5,95.1 661.9,96.2 666.3,88.6 670.7,88.3 675.1,94.4 679.5,88.8 683.9,92.0 688.3,92.8 692.6,87.9"/><polyline points="104.6,334.1 109.0,343.2 113.4,335.3 117.8,321.2 122.2,320.7 126.6,325.9 131.0,307.9 135.4,307.6 139.8,299.4 144.1,290.9 148.5,293.0 152.9,283.3 157.3,291.2 161.7,285.6 166.1,280.8 170.5,286.8 174.9,272.7 179.2,260.1 183.6,255.6 188.0,250.7 192.4,254.3 196.8,253.5 201.2,237.8 205.6,248.4 210.0,267.8 214.3,269.5 218.7,276.0 223.1,269.6 227.5,265.9 231.9,280.3 236.3,270.2 240.7,274.5 245.1,263.9 249.5,252.5 253.8,262.2 258.2,245.5 262.6,242.4 267.0,239.2 271.4,244.7 275.8,252.1 280.2,260.0 284.6,257.0 288.9,242.0 293.3,252.4 297.7,269.2 302.1,255.9 306.5,265.7 310.9,256.4 315.3,241.1 319.7,227.0 324.0,218.0 328.4,223.7 332.8,227.1 337.2,221.6 341.6,213.1 346.0,219.8 350.4,221.4 354.8,218.6 359.2,216.1 363.5,210.4 367.9,211.8 372.3,216.8 376.7,213.7 381.1,210.9 385.5,210.7 389.9,197.9 394.3,212.3 398.6,217.0 403.0,215.8 407.4,195.3 411.8,195.3 416.2,185.1 420.6,169.6 425.0,171.4 429.4,169.4 433.7,163.7 438.1,170.4 442.5,172.3 446.9,166.6 451.3,164.5 455.7,158.4 460.1,157.8 464.5,153.9 468.9,152.2 473.2,146.7 477.6,140.5 482.0,146.8 486.4,148.0 490.8,147.5 495.2,152.6 499.6,144.4 504.0,147.3 508.3,157.7 512.7,149.7 517.1,141.7 521.5,144.4 525.9,136.5 530.3,139.3 534.7,141.1 539.1,135.7 543.4,139.8 547.8,137.9 552.2,138.5 556.6,133.9 561.0,124.8 565.4,123.3 569.8,131.4 574.2,122.9 578.6,124.2 582.9,121.2 587.3,113.4 591.7,104.1 596.1,95.3 600.5,100.5 604.9,94.2 609.3,95.5 613.7,95.4 618.0,91.6 622.4,93.0 626.8,77.0 631.2,80.3 635.6,74.4 640.0,73.9 644.4,79.1 648.8,77.1 653.1,78.3 657.5,79.0 661.9,72.6 666.3,56.9 670.7,67.7 675.1,65.0 679.5,63.4 683.9,67.8 688.3,68.5 692.6,55.8"/><polyline points="104.6,318.4 109.0,302.8 113.4,293.6 117.8,297.2 122.2,293.9 126.6,281.5 131.0,278.3 135.4,278.2 139.8,292.3 144.1,284.1 148.5,279.8 152.9,278.3 157.3,272.7 161.7,276.4 166.1,288.9 170.5,275.3 174.9,265.4 179.2,265.0 183.6,283.1 188.0,283.0 192.4,283.4 196.8,290.9 201.2,305.8 205.6,319.2 210.0,294.2 214.3,284.0 218.7,298.0 223.1,294.4 227.5,277.8 231.9,274.5 236.3,255.3 240.7,258.2 245.1,266.3 249.5,270.0 253.8,270.3 258.2,256.5 262.6,255.1 267.0,251.5 271.4,238.7 275.8,251.0 280.2,240.0 284.6,230.4 288.9,238.4 293.3,239.8 297.7,247.9 302.1,262.1 306.5,236.1 310.9,242.6 315.3,244.9 319.7,234.9 324.0,231.5 328.4,241.9 332.8,236.8 337.2,233.1 341.6,230.2 346.0,234.3 350.4,212.5 354.8,225.2 359.2,210.9 363.5,220.9 367.9,225.3 372.3,229.8 376.7,225.1 381.1,234.3 385.5,233.8 389.9,234.6 394.3,229.6 398.6,209.2 403.0,197.1 407.4,186.9 411.8,187.3 416.2,186.0 420.6,188.1 425.0,189.9 429.4,198.1 433.7,187.4 438.1,188.2 442.5,178.5 446.9,173.5 451.3,164.7 455.7,158.9 460.1,158.2 464.5,149.2 468.9,147.7 473.2,143.1 477.6,156.3 482.0,153.5 486.4,146.6 490.8,142.0 495.2,139.7 499.6,135.8 504.0,132.8 508.3,134.8 512.7,132.3 517.1,133.6 521.5,123.9 525.9,147.7 530.3,135.1 534.7,120.0 539.1,129.8 543.4,116.4 547.8,121.3 552.2,122.9 556.6,115.0 561.0,124.5 565.4,118.9 569.8,118.2 574.2,115.4 578.6,121.1 582.9,115.0 587.3,104.3 591.7,105.1 596.1,97.5 600.5,98.1 604.9,98.6 609.3,96.0 613.7,89.9 618.0,83.4 622.4,93.9 626.8,84.5 631.2,89.6 635.6,86.4 640.0,80.0 644.4,83.4 648.8,82.4 653.1,72.2 657.5,73.9 661.9,84.6 666.3,88.9 670.7,77.7 675.1,82.6 679.5,78.0 683.9,87.6 688.3,75.4 692.6,75.3"/><polyline points="104.6,314.2 109.0,317.3 113.4,318.2 117.8,327.1 122.2,304.9 126.6,320.4 131.0,320.2 135.4,315.8 139.8,304.0 144.1,300.7 148.5,293.4 152.9,293.5 157.3,308.8 161.7,306.2 166.1,291.1 170.5,304.6 174.9,303.0 179.2,280.0 183.6,273.5 188.0,269.5 192.4,280.2 196.8,287.3 201.2,272.9 205.6,278.4 210.0,289.1 214.3,268.7 218.7,257.6 223.1,274.6 227.5,266.0 231.9,269.3 236.3,263.9 240.7,273.1 245.1,262.5 249.5,244.4 253.8,245.3 258.2,228.0 262.6,220.6 267.0,242.7 271.4,237.0 275.8,242.0 280.2,229.3 284.6,256.8 288.9,244.8 293.3,252.5 297.7,251.6 302.1,237.6 306.5,241.9 310.9,238.4 315.3,228.4 319.7,221.7 324.0,215.7 328.4,212.4 332.8,218.6 337.2,199.1 341.6,203.2 346.0,211.5 350.4,212.8 354.8,215.2 359.2,207.9 363.5,210.0 367.9,204.1 372.3,197.8 376.7,189.4 381.1,194.1 385.5,199.1 389.9,206.5 394.3,199.8 398.6,197.1 403.0,185.0 407.4,183.4 411.8,189.5 416.2,191.7 420.6,184.9 425.0,180.8 429.4,180.8 433.7,183.3 438.1,177.5 442.5,174.1 446.9,172.1 451.3,164.2 455.7,150.5 460.1,152.4 464.5,148.4 468.9,139.8 473.2,149.6 477.6,160.6 482.0,169.3 486.4,167.7 490.8,157.4 495.2,161.1 499.6,159.9 504.0,165.8 508.3,156.2 512.7,150.9 517.1,135.3 521.5,132.9 525.9,138.9 530.3,135.8 534.7,142.3 539.1,147.1 543.4,144.9 547.8,136.6 552.2,130.3 556.6,141.0 561.0,133.4 565.4,125.1 569.8,126.7 574.2,119.5 578.6,113.2 582.9,117.2 587.3,111.9 591.7,109.4 596.1,106.5 600.5,112.7 604.9,105.1 609.3,98.4 613.7,90.2 618.0,87.0 622.4,88.4 626.8,86.3 631.2,85.7 635.6,92.9 640.0,77.5 644.4,70.7 648.8,76.6 653.1,64.0 657.5,68.8 661.9,57.9 666.3,64.4 670.7,60.7 675.1,51.8 679.5,48.7 683.9,55.4 688.3,61.3 692.6,57.6"/><polyline points="104.6,321.0 109.0,310.4 113.4,307.8 117.8,318.2 122.2,300.9 126.6,297.2 131.0,300.2 135.4,298.5 139.8,298.2 144.1,310.7 148.5,299.1 152.9,284.7 157.3,278.5 161.7,294.5 166.1,295.8 170.5,291.7 174.9,291.5 179.2,295.5 183.6,295.0 188.0,297.0 192.4,290.1 196.8,277.0 201.2,288.4 205.6,290.8 210.0,283.1 214.3,278.3 218.7,279.8 223.1,299.9 227.5,296.0 231.9,295.3 236.3,286.1 240.7,272.4 245.1,251.8 249.5,247.0 253.8,246.0 258.2,245.5 262.6,232.1 267.0,237.8 271.4,242.6 275.8,248.7 280.2,247.0 284.6,241.6 288.9,234.0 293.3,231.7 297.7,227.0 302.1,236.1 306.5,235.8 310.9,230.5 315.3,213.8 319.7,224.8 324.0,226.2 328.4,222.1 332.8,211.6 337.2,206.7 341.6,214.0 346.0,211.4 350.4,213.7 354.8,209.6 359.2,222.6 363.5,219.3 367.9,214.1 372.3,204.0 376.7,206.0 381.1,208.1 385.5,216.3 389.9,223.0 394.3,219.2 398.6,211.2 403.0,205.4 407.4,204.5 411.8,201.9 416.2,199.2 420.6,195.0 425.0,189.8 429.4,197.2 433.7,200.4 438.1,210.4 442.5,212.6 446.9,198.5 451.3,208.1 455.7,192.5 460.1,190.0 464.5,180.3 468.9,183.2 473.2,181.5 477.6,169.5 482.0,161.5 486.4,154.6 490.8,154.6 495.2,170.6 499.6,161.5 504.0,166.6 508.3,168.4 512.7,173.2 517.1,174.3 521.5,163.0 525.9,162.3 530.3,154.2 534.7,157.6 539.1,153.2 543.4,158.3 547.8,157.0 552.2,156.5 556.6,154.0 561.0,153.4 565.4,152.3 569.8,156.2 574.2,151.1 578.6,133.0 582.9,138.2 587.3,133.7 591.7,129.4 596.1,118.6 600.5,114.6 604.9,108.2 609.3,101.0 613.7,101.9 618.0,100.4 622.4,95.8 626.8,100.0 631.2,101.7 635.6,96.2 640.0,97.1 644.4,89.6 648.8,82.2 653.1,71.0 657.5,73.4 661.9,80.7 666.3,66.2 670.7,68.4 675.1,74.3 679.5,73.9 683.9,78.8 688.3,80.5 692.6,72.9"/><polyline points="104.6,330.0 109.0,341.4 113.4,323.9 117.8,330.3 122.2,331.6 126.6,342.2 131.0,339.5 135.4,339.7 139.8,336.0 144.1,327.3 148.5,325.8 152.9,310.8 157.3,320.5 161.7,315.7 166.1,309.5 170.5,298.9 174.9,292.6 179.2,289.8 183.6,293.8 188.0,281.0 192.4,293.1 196.8,288.5 201.2,306.5 205.6,283.6 210.0,313.4 214.3,326.7 218.7,318.3 223.1,324.8 227.5,322.2 231.9,317.9 236.3,305.7 240.7,310.5 245.1,306.5 249.5,306.7 253.8,303.6 258.2,301.9 262.6,299.7 267.0,278.7 271.4,274.2 275.8,262.5 280.2,260.8 284.6,259.1 288.9,251.6 293.3,247.6 297.7,250.7 302.1,240.0 306.5,245.5 310.9,248.6 315.3,244.5 319.7,233.5 324.0,229.5 328.4,224.5 332.8,210.8 337.2,220.1 341.6,212.8 346.0,214.0 350.4,217.8 354.8,226.6 359.2,218.0 363.5,193.2 367.9,205.5 372.3,208.9 376.7,205.3 381.1,208.3 385.5,212.6 389.9,210.4 394.3,209.7 398.6,217.4 403.0,222.1 407.4,197.2 411.8,199.5 416.2,200.2 420.6,197.0 425.0,194.6 429.4,198.3 433.7,188.6 438.1,180.3 442.5,181.8 446.9,178.6 451.3,177.9 455.7,179.7 460.1,171.6 464.5,170.5 468.9,184.8 473.2,180.4 477.6,168.6 482.0,171.3 486.4,177.3 490.8,177.6 495.2,168.1 499.6,155.0 504.0,141.7 508.3,155.1 512.7,149.8 517.1,158.0 521.5,158.7 525.9,150.2 530.3,153.5 534.7,144.1 539.1,141.6 543.4,132.5 547.8,132.1 552.2,131.2 556.6,121.2 561.0,120.5 565.4,113.1 569.8,111.4 574.2,100.6 578.6,96.2 582.9,98.5 587.3,102.0 591.7,110.4 596.1,106.5 600.5,92.1 604.9,86.0 609.3,84.9 613.7,86.0 618.0,96.3 622.4,92.3 626.8,94.2 631.2,94.3 635.6,94.0 640.0,97.9 644.4,99.2 648.8,95.5 653.1,85.6 657.5,92.4 661.9,93.1 666.3,86.1 670.7,95.3 675.1,94.8 679.5,94.5 683.9,84.6 688.3,73.6 692.6,78.5"/><polyline points="104.6,277.3 109.0,276.1 113.4,275.9 117.8,272.2 122.2,277.3 126.6,293.4 131.0,279.4 135.4,293.3 139.8,290.0 144.1,296.3 148.5,297.1 152.9,291.9 157.3,293.1 161.7,301.5 166.1,297.7 170.5,299.2 174.9,287.1 179.2,283.6 183.6,289.4 188.0,288.5 192.4,271.1 196.8,283.7 201.2,273.4 205.6,274.9 210.0,273.5 214.3,264.1 218.7,251.8 223.1,257.2 227.5,266.0 231.9,243.3 236.3,255.1 240.7,259.1 245.1,247.2 249.5,246.7 253.8,241.6 258.2,238.5 262.6,238.1 267.0,265.3 271.4,261.8 275.8,259.7 280.2,262.8 284.6,259.9 288.9,265.9 293.3,249.8 297.7,249.5 302.1,242.2 306.5,241.9 310.9,236.0 315.3,237.2 319.7,238.0 324.0,216.0 328.4,218.3 332.8,221.4 337.2,216.6 341.6,225.6 346.0,218.4 350.4,210.9 354.8,192.5 359.2,190.7 363.5,196.3 367.9,188.8 372.3,188.0 376.7,189.7 381.1,187.2 385.5,185.3 389.9,178.4 394.3,181.7 398.6,177.8 403.0,174.7 407.4,179.1 411.8,164.9 416.2,160.9 420.6,157.8 425.0,156.8 429.4,157.9 433.7,154.1 438.1,152.3 442.5,161.3 446.9,158.4 451.3,160.9 455.7,157.7 460.1,151.9 464.5,160.9 468.9,144.8 473.2,156.9 477.6,153.4 482.0,160.1 486.4,145.3 490.8,149.6 495.2,145.4 499.6,137.7 504.0,135.7 508.3,133.6 512.7,136.7 517.1,138.0 521.5,137.3 525.9,127.8 530.3,126.1 534.7,114.2 539.1,115.7 543.4,118.2 547.8,122.3 552.2,123.2 556.6,126.1 561.0,118.0 565.4,122.5 569.8,137.6 574.2,127.1 578.6,128.4 582.9,119.3 587.3,119.0 591.7,113.1 596.1,107.5 600.5,113.2 604.9,106.6 609.3,107.8 613.7,108.6 618.0,112.1 622.4,116.2 626.8,107.2 631.2,109.6 635.6,116.4 640.0,105.4 644.4,107.2 648.8,105.1 653.1,98.5 657.5,91.7 661.9,90.3 666.3,88.4 670.7,83.4 675.1,74.6 679.5,73.4 683.9,65.0 688.3,60.6 692.6,60.3"/><polyline points="104.6,314.8 109.0,318.5 113.4,317.1 117.8,315.4 122.2,305.6 126.6,316.5 131.0,322.0 135.4,307.2 139.8,297.0 144.1,294.0 148.5,286.5 152.9,294.9 157.3,279.3 161.7,292.1 166.1,274.3 170.5,263.5 174.9,266.5 179.2,266.2 183.6,256.8 188.0,252.4 192.4,239.7 196.8,238.3 201.2,239.5 205.6,234.8 210.0,232.8 214.3,231.1 218.7,229.7 223.1,240.1 227.5,261.9 231.9,244.5 236.3,251.2 240.7,255.9 245.1,240.2 249.5,244.8 253.8,243.3 258.2,240.3 262.6,225.8 267.0,223.8 271.4,223.3 275.8,227.5 280.2,224.3 284.6,222.6 288.9,209.7 293.3,230.6 297.7,223.5 302.1,215.9 306.5,213.1 310.9,215.7 315.3,212.7 319.7,212.5 324.0,200.8 328.4,202.8 332.8,202.5 337.2,189.9 341.6,196.5 346.0,208.2 350.4,197.8 354.8,211.9 359.2,209.5 363.5,203.2 367.9,199.1 372.3,199.6 376.7,201.5 381.1,213.5 385.5,225.2 389.9,216.4 394.3,217.6 398.6,209.8 403.0,203.6 407.4,205.9 411.8,202.6 416.2,197.6 420.6,185.5 425.0,189.2 429.4,186.9 433.7,192.3 438.1,200.8 442.5,187.9 446.9,172.5 451.3,169.5 455.7,167.7 460.1,160.4 464.5,154.4 468.9,159.4 473.2,162.5 477.6,164.7 482.0,167.1 486.4,153.0 490.8,162.9 495.2,167.5 499.6,148.7 504.0,133.8 508.3,138.2 512.7,131.6 517.1,137.2 521.5,139.3 525.9,143.9 530.3,137.3 534.7,127.1 539.1,129.1 543.4,127.3 547.8,130.0 552.2,134.0 556.6,144.1 561.0,151.7 565.4,144.6 569.8,150.5 574.2,145.8 578.6,148.6 582.9,130.4 587.3,126.2 591.7,122.9 596.1,113.5 600.5,113.8 604.9,111.5 609.3,107.9 613.7,95.4 618.0,92.6 622.4,90.0 626.8,93.9 631.2,99.7 635.6,82.4 640.0,76.5 644.4,79.4 648.8,75.9 653.1,72.2 657.5,69.1 661.9,64.8 666.3,70.0 670.7,61.8 675.1,60.5 679.5,62.7 683.9,63.3 688.3,71.3 692.6,73.4"/><polyline points="104.6,322.0 109.0,314.4 113.4,296.9 117.8,309.8 122.2,308.7 126.6,311.7 131.0,310.8 135.4,314.4 139.8,312.8 144.1,309.6 148.5,311.4 152.9,322.6 157.3,320.1 161.7,316.4 166.1,321.8 170.5,306.6 174.9,316.9 179.2,303.7 183.6,298.6 188.0,296.9 192.4,278.3 196.8,286.3 201.2,282.6 205.6,285.5 210.0,278.0 214.3,290.5 218.7,284.1 223.1,289.4 227.5,303.7 231.9,300.5 236.3,279.6 240.7,286.7 245.1,289.5 249.5,289.5 253.8,270.8 258.2,277.7 262.6,267.4 267.0,252.1 271.4,233.5 275.8,223.3 280.2,223.7 284.6,222.3 288.9,224.1 293.3,217.3 297.7,217.1 302.1,214.3 306.5,206.9 310.9,209.9 315.3,212.9 319.7,208.4 324.0,202.8 328.4,206.4 332.8,210.5 337.2,212.5 341.6,217.8 346.0,202.0 350.4,202.0 354.8,203.0 359.2,191.4 363.5,184.8 367.9,187.1 372.3,192.5 376.7,189.8 381.1,195.5 385.5,192.2 389.9,192.1 394.3,195.6 398.6,187.7 403.0,186.5 407.4,192.7 411.8,194.2 416.2,202.1 420.6,187.4 425.0,197.4 429.4,185.7 433.7,172.8 438.1,169.6 442.5,165.0 446.9,171.7 451.3,181.4 455.7,176.8 460.1,186.2 464.5,181.0 468.9,173.3 473.2,160.1 477.6,159.5 482.0,170.0 486.4,161.9 490.8,152.5 495.2,147.2 499.6,149.3 504.0,144.5 508.3,149.3 512.7,148.6 517.1,139.7 521.5,138.4 525.9,137.5 530.3,139.4 534.7,151.0 539.1,141.8 543.4,137.2 547.8,136.2 552.2,135.2 556.6,118.0 561.0,110.2 565.4,102.9 569.8,106.2 574.2,109.3 578.6,110.4 582.9,107.6 587.3,99.9 591.7,108.2 596.1,105.5 600.5,110.4 604.9,110.0 609.3,117.5 613.7,110.0 618.0,111.6 622.4,103.0 626.8,93.4 631.2,85.0 635.6,86.7 640.0,96.7 644.4,100.0 648.8,105.3 653.1,85.1 657.5,88.6 661.9,80.8 666.3,85.1 670.7,87.2 675.1,96.3 679.5,93.9 683.9,101.7 688.3,112.2 692.6,106.8"/></g><polyline points="104.6,522.0 105.5,524.7 108.8,527.3 115.3,523.0 120.8,519.0 129.6,522.5 139.4,504.3 147.1,504.3 153.7,507.6 161.3,500.0 165.7,500.0 171.2,496.2 175.6,499.3 183.2,512.0 192.0,516.4 199.7,512.0 207.3,506.5 218.3,502.1 226.0,485.7 232.5,478.0 245.7,466.0 253.3,463.8 262.1,458.3 270.9,452.9 278.5,435.3 284.0,434.9 288.4,445.2 292.0,442.0 301.8,432.5 307.1,437.0 311.0,434.8 320.2,446.2 329.4,463.2 333.4,465.9 341.2,452.7 346.5,458.0 350.4,472.4 355.7,467.2 359.6,472.4 364.9,468.5 372.8,472.4 380.7,460.6 385.9,443.5 391.2,439.6 400.4,417.2 410.9,391.0 418.8,379.1 429.3,372.6 433.2,372.6 439.8,381.8 445.1,383.1 454.3,387.0 459.5,404.1 464.8,400.2 472.7,403.6 483.2,401.5 488.4,385.2 494.4,387.9 500.2,383.6 504.6,386.5 509.0,366.0 517.7,358.7 525.0,364.6 533.8,371.9 544.0,354.3 549.9,355.8 554.3,348.5 561.6,344.1 565.4,345.6 570.3,336.8 577.6,332.4 584.9,327.5 592.2,325.1 599.5,313.5 606.8,298.9 615.6,293.0 620.0,297.4 630.2,290.1 641.9,282.8 647.7,287.8 653.6,287.2 662.3,272.6 672.5,253.6 679.8,251.5 685.7,246.3 692.0,233.1" fill="none" stroke="#1E82EB" stroke-width="4" stroke-linejoin="miter" stroke-miterlimit="4"/><polyline points="104.6,309.0 106.6,311.1 108.5,307.7 118.0,327.2 122.8,315.8 128.1,313.0 138.0,299.3 144.6,302.5 149.3,295.9 156.9,294.0 166.0,287.4 171.2,291.7 175.9,289.8 187.7,299.3 193.0,292.1 197.7,294.0 203.4,287.4 213.9,269.7 225.2,277.3 232.8,272.8 241.4,278.8 249.0,264.6 255.6,268.4 262.8,275.0 271.7,259.8 276.5,255.1 282.2,257.0 289.8,249.4 293.8,254.3 298.5,247.6 304.2,232.5 309.9,224.9 314.7,215.4 319.4,222.0 325.1,213.5 330.8,206.9 335.5,203.1 346.0,193.6 350.7,195.5 355.5,201.2 361.2,197.4 367.8,199.3 371.6,187.9 382.0,194.5 386.8,202.1 393.4,201.2 403.9,205.9 408.6,210.6 413.3,218.2 416.2,215.4 424.7,224.9 430.4,223.0 434.2,216.3 439.0,219.2 445.6,213.5 453.2,200.2 460.8,185.0 464.6,182.2 472.2,167.0 478.0,165.5 487.0,166.0 494.0,170.0 504.5,162.8 508.6,165.9 512.7,157.7 517.8,157.7 522.9,151.6 529.0,150.6 534.2,141.4 543.4,124.0 551.5,132.2 558.7,126.1 564.8,117.9 569.9,125.0 574.0,111.7 579.1,107.3 586.3,104.6 591.4,100.5 595.5,91.3 601.6,89.7 604.7,107.3 612.8,109.7 621.0,113.8 626.1,110.7 631.2,117.9 639.4,122.0 647.6,125.0 653.7,108.7 662.9,115.8 667.0,104.6 672.1,104.6 682.3,96.4 688.5,90.3 692.0,92.3" fill="none" stroke="#FF2828" stroke-width="4.2" stroke-linejoin="miter" stroke-miterlimit="4"/><polyline points="104.6,534.2 109.0,533.0 113.4,531.8 117.8,530.7 122.2,529.9 126.6,529.1 131.0,528.2 135.4,527.0 139.8,525.5 144.1,523.9 148.5,522.3 152.9,520.6 157.3,519.0 161.7,517.3 166.1,515.7 170.5,514.0 174.9,512.4 179.2,510.7 183.6,509.1 188.0,507.5 192.4,506.0 196.8,504.6 201.2,503.1 205.6,501.6 210.0,499.9 214.3,498.0 218.7,496.0 223.1,493.8 227.5,491.5 231.9,489.2 236.3,487.0 240.7,485.0 245.1,483.3 249.5,481.6 253.8,479.9 258.2,478.3 262.6,476.6 267.0,474.9 271.4,473.0 275.8,471.2 280.2,469.4 284.6,467.6 288.9,465.9 293.3,464.3 297.7,462.9 302.1,461.5 306.5,460.0 310.9,458.5 315.3,456.8 319.7,454.9 324.0,452.9 328.4,450.7 332.8,448.4 337.2,446.0 341.6,443.7 346.0,441.5 350.4,439.5 354.8,437.6 359.2,435.5 363.5,433.4 367.9,431.1 372.3,428.7 376.7,426.3 381.1,424.0 385.5,421.8 389.9,419.8 394.3,418.0 398.6,416.1 403.0,414.2 407.4,412.1 411.8,409.9 416.2,407.6 420.6,405.4 425.0,403.4 429.4,401.6 433.7,399.9 438.1,398.1 442.5,396.2 446.9,394.1 451.3,392.0 455.7,389.8 460.1,387.7 464.5,385.6 468.9,383.6 473.2,381.4 477.6,379.0 482.0,376.5 486.4,373.9 490.8,371.4 495.2,369.0 499.6,366.7 504.0,364.4 508.3,362.2 512.7,360.0 517.1,357.8 521.5,355.5 525.9,353.1 530.3,350.5 534.7,347.8 539.1,345.0 543.4,342.4 547.8,339.9 552.2,337.6 556.6,335.3 561.0,332.9 565.4,330.4 569.8,327.8 574.2,325.2 578.6,322.4 582.9,319.6 587.3,316.8 591.7,314.2 596.1,311.8 600.5,309.6 604.9,307.4 609.3,305.2 613.7,302.9 618.0,300.7 622.4,298.6 626.8,296.4 631.2,294.2 635.6,291.9 640.0,289.5 644.4,287.1 648.8,284.6 653.1,282.2 657.5,279.8 661.9,277.6 666.3,275.4 670.7,273.2 675.1,271.0 679.5,268.8 683.9,266.6 688.3,264.5 692.6,262.4" fill="none" stroke="#0096C8" stroke-width="4.2" stroke-dasharray="2.9 5.9" stroke-linecap="round"/><polyline points="104.6,308.3 109.0,307.3 113.4,306.3 117.8,305.2 122.2,304.0 126.6,302.6 131.0,301.1 135.4,299.7 139.8,298.2 144.1,296.9 148.5,295.5 152.9,294.1 157.3,292.5 161.7,290.7 166.1,288.9 170.5,287.0 174.9,285.4 179.2,284.0 183.6,282.9 188.0,281.9 192.4,280.9 196.8,279.7 201.2,278.4 205.6,276.9 210.0,275.4 214.3,274.0 218.7,272.6 223.1,271.2 227.5,269.8 231.9,268.1 236.3,266.3 240.7,264.2 245.1,262.0 249.5,259.8 253.8,257.7 258.2,255.8 262.6,253.9 267.0,252.1 271.4,250.4 275.8,248.9 280.2,247.5 284.6,246.0 288.9,244.4 293.3,242.5 297.7,240.3 302.1,237.9 306.5,235.2 310.9,232.5 315.3,229.6 319.7,226.8 324.0,224.1 328.4,221.6 332.8,219.3 337.2,217.2 341.6,215.4 346.0,213.9 350.4,212.7 354.8,211.4 359.2,210.2 363.5,209.0 367.9,207.7 372.3,206.5 376.7,205.3 381.1,204.1 385.5,202.8 389.9,201.4 394.3,199.6 398.6,197.7 403.0,195.7 407.4,193.9 411.8,192.2 416.2,190.6 420.6,189.0 425.0,187.4 429.4,185.6 433.7,183.7 438.1,181.7 442.5,179.6 446.9,177.7 451.3,175.7 455.7,173.7 460.1,171.7 464.5,169.6 468.9,167.7 473.2,165.9 477.6,164.1 482.0,162.2 486.4,160.2 490.8,157.9 495.2,155.6 499.6,153.2 504.0,150.8 508.3,148.5 512.7,146.2 517.1,143.9 521.5,141.7 525.9,139.4 530.3,137.0 534.7,134.7 539.1,132.7 543.4,130.9 547.8,129.3 552.2,127.8 556.6,126.3 561.0,124.7 565.4,123.0 569.8,121.4 574.2,119.7 578.6,118.0 582.9,116.3 587.3,114.4 591.7,112.5 596.1,110.6 600.5,108.7 604.9,106.8 609.3,105.0 613.7,103.3 618.0,101.6 622.4,100.0 626.8,98.5 631.2,97.1 635.6,95.7 640.0,94.3 644.4,93.0 648.8,91.6 653.1,90.2 657.5,88.9 661.9,87.5 666.3,86.1 670.7,84.8 675.1,83.4 679.5,82.1 683.9,81.0 688.3,79.8 692.6,78.8" fill="none" stroke="#FF6347" stroke-width="4.2" stroke-dasharray="2.9 5.9" stroke-linecap="round"/><path d="M365.8 150.0L379.2 150.0L372.5 161.0Z" fill="#FF2828"/><path d="M593.8 52.0L607.2 52.0L600.5 63.0Z" fill="#FF2828"/><path d="M163.9 459.0L177.3 459.0L170.6 469.5Z" fill="#196ED2"/><path d="M295.6 395.0L309.0 395.0L302.3 405.5Z" fill="#196ED2"/><path d="M426.8 335.0L440.2 335.0L433.5 345.5Z" fill="#196ED2"/><text x="124" y="209.6" font-family='"Liberation Sans", sans-serif' font-size="25.6" textLength="155.5" lengthAdjust="spacingAndGlyphs" fill="#FF2828">North America</text><text x="137" y="580.2" font-family='"Liberation Sans", sans-serif' font-size="25.6" textLength="101.8" lengthAdjust="spacingAndGlyphs" fill="#1A6EDC">East Asia</text><rect x="104.7" y="13.8" width="588.3" height="590.6" fill="none" stroke="#000" stroke-width="2.6"/><line x1="92.5" y1="555.7" x2="104" y2="555.7" stroke="#F36B48" stroke-width="3"/><text x="80.5" y="562.6" text-anchor="end" font-family='"Liberation Sans", sans-serif' font-size="19.5" fill="#F36B48">14.0</text><line x1="96.8" y1="525.6" x2="104" y2="525.6" stroke="#F36B48" stroke-width="1.6"/><line x1="96.8" y1="495.4" x2="104" y2="495.4" stroke="#F36B48" stroke-width="1.6"/><line x1="96.8" y1="465.3" x2="104" y2="465.3" stroke="#F36B48" stroke-width="1.6"/><line x1="92.5" y1="435.2" x2="104" y2="435.2" stroke="#F36B48" stroke-width="3"/><text x="80.5" y="442.1" text-anchor="end" font-family='"Liberation Sans", sans-serif' font-size="19.5" fill="#F36B48">16.0</text><line x1="96.8" y1="405.1" x2="104" y2="405.1" stroke="#F36B48" stroke-width="1.6"/><line x1="96.8" y1="374.9" x2="104" y2="374.9" stroke="#F36B48" stroke-width="1.6"/><line x1="96.8" y1="344.8" x2="104" y2="344.8" stroke="#F36B48" stroke-width="1.6"/><line x1="92.5" y1="314.7" x2="104" y2="314.7" stroke="#F36B48" stroke-width="3"/><text x="80.5" y="321.6" text-anchor="end" font-family='"Liberation Sans", sans-serif' font-size="19.5" fill="#F36B48">18.0</text><line x1="96.8" y1="284.6" x2="104" y2="284.6" stroke="#F36B48" stroke-width="1.6"/><line x1="96.8" y1="254.4" x2="104" y2="254.4" stroke="#F36B48" stroke-width="1.6"/><line x1="96.8" y1="224.3" x2="104" y2="224.3" stroke="#F36B48" stroke-width="1.6"/><line x1="92.5" y1="194.2" x2="104" y2="194.2" stroke="#F36B48" stroke-width="3"/><text x="80.5" y="201.1" text-anchor="end" font-family='"Liberation Sans", sans-serif' font-size="19.5" fill="#F36B48">20.0</text><line x1="96.8" y1="164.1" x2="104" y2="164.1" stroke="#F36B48" stroke-width="1.6"/><line x1="96.8" y1="133.9" x2="104" y2="133.9" stroke="#F36B48" stroke-width="1.6"/><line x1="96.8" y1="103.8" x2="104" y2="103.8" stroke="#F36B48" stroke-width="1.6"/><line x1="92.5" y1="73.7" x2="104" y2="73.7" stroke="#F36B48" stroke-width="3"/><text x="80.5" y="80.6" text-anchor="end" font-family='"Liberation Sans", sans-serif' font-size="19.5" fill="#F36B48">22.0</text><line x1="96.8" y1="43.6" x2="104" y2="43.6" stroke="#F36B48" stroke-width="1.6"/><line x1="96.8" y1="13.4" x2="104" y2="13.4" stroke="#F36B48" stroke-width="1.6"/><line x1="694" y1="13.5" x2="700.8" y2="13.5" stroke="#000" stroke-width="1.6"/><line x1="694" y1="46.3" x2="700.8" y2="46.3" stroke="#000" stroke-width="1.6"/><line x1="694" y1="79.1" x2="704.5" y2="79.1" stroke="#000" stroke-width="3"/><text x="716.3" y="86.3" font-family='"Liberation Sans", sans-serif' font-size="19.8" fill="#000">3</text><line x1="694" y1="111.9" x2="700.8" y2="111.9" stroke="#000" stroke-width="1.6"/><line x1="694" y1="144.7" x2="700.8" y2="144.7" stroke="#000" stroke-width="1.6"/><line x1="694" y1="177.4" x2="700.8" y2="177.4" stroke="#000" stroke-width="1.6"/><line x1="694" y1="210.2" x2="704.5" y2="210.2" stroke="#000" stroke-width="3"/><text x="716.3" y="217.4" font-family='"Liberation Sans", sans-serif' font-size="19.8" fill="#000">-1</text><line x1="694" y1="243.0" x2="700.8" y2="243.0" stroke="#000" stroke-width="1.6"/><line x1="694" y1="275.8" x2="700.8" y2="275.8" stroke="#000" stroke-width="1.6"/><line x1="694" y1="308.6" x2="700.8" y2="308.6" stroke="#000" stroke-width="1.6"/><line x1="694" y1="341.3" x2="704.5" y2="341.3" stroke="#000" stroke-width="3"/><text x="716.3" y="348.5" font-family='"Liberation Sans", sans-serif' font-size="19.8" fill="#000">-5</text><line x1="694" y1="374.1" x2="700.8" y2="374.1" stroke="#000" stroke-width="1.6"/><line x1="694" y1="406.9" x2="700.8" y2="406.9" stroke="#000" stroke-width="1.6"/><line x1="694" y1="439.7" x2="700.8" y2="439.7" stroke="#000" stroke-width="1.6"/><line x1="694" y1="472.5" x2="704.5" y2="472.5" stroke="#000" stroke-width="3"/><text x="716.3" y="479.7" font-family='"Liberation Sans", sans-serif' font-size="19.8" fill="#000">-9</text><line x1="694" y1="505.2" x2="700.8" y2="505.2" stroke="#000" stroke-width="1.6"/><line x1="694" y1="538.0" x2="700.8" y2="538.0" stroke="#000" stroke-width="1.6"/><line x1="694" y1="570.8" x2="700.8" y2="570.8" stroke="#000" stroke-width="1.6"/><line x1="694" y1="603.6" x2="704.5" y2="603.6" stroke="#000" stroke-width="3"/><text x="716.3" y="610.8" font-family='"Liberation Sans", sans-serif' font-size="19.8" fill="#000">-13</text><line x1="122.2" y1="605" x2="122.2" y2="611.4" stroke="#000" stroke-width="3" stroke-linecap="round"/><text x="122.2" y="646" text-anchor="middle" font-family='"Liberation Sans", sans-serif' font-size="23" fill="#000">2010</text><line x1="166.1" y1="605" x2="166.1" y2="611.5" stroke="#000" stroke-width="1.7"/><line x1="210.0" y1="605" x2="210.0" y2="611.5" stroke="#000" stroke-width="1.7"/><line x1="253.8" y1="605" x2="253.8" y2="611.4" stroke="#000" stroke-width="3" stroke-linecap="round"/><text x="253.8" y="646" text-anchor="middle" font-family='"Liberation Sans", sans-serif' font-size="23" fill="#000">2040</text><line x1="297.7" y1="605" x2="297.7" y2="611.5" stroke="#000" stroke-width="1.7"/><line x1="341.6" y1="605" x2="341.6" y2="611.5" stroke="#000" stroke-width="1.7"/><line x1="385.5" y1="605" x2="385.5" y2="611.4" stroke="#000" stroke-width="3" stroke-linecap="round"/><text x="385.5" y="646" text-anchor="middle" font-family='"Liberation Sans", sans-serif' font-size="23" fill="#000">2070</text><line x1="429.4" y1="605" x2="429.4" y2="611.5" stroke="#000" stroke-width="1.7"/><line x1="473.2" y1="605" x2="473.2" y2="611.5" stroke="#000" stroke-width="1.7"/><line x1="517.1" y1="605" x2="517.1" y2="611.4" stroke="#000" stroke-width="3" stroke-linecap="round"/><text x="517.1" y="646" text-anchor="middle" font-family='"Liberation Sans", sans-serif' font-size="23" fill="#000">2100</text><line x1="561.0" y1="605" x2="561.0" y2="611.5" stroke="#000" stroke-width="1.7"/><line x1="604.9" y1="605" x2="604.9" y2="611.5" stroke="#000" stroke-width="1.7"/><line x1="648.8" y1="605" x2="648.8" y2="611.4" stroke="#000" stroke-width="3" stroke-linecap="round"/><text x="648.8" y="646" text-anchor="middle" font-family='"Liberation Sans", sans-serif' font-size="23" fill="#000">2130</text><line x1="692.6" y1="605" x2="692.6" y2="611.5" stroke="#000" stroke-width="1.7"/><text x="369.1" y="676.5" text-anchor="middle" font-family='"Liberation Sans", sans-serif' font-size="27" fill="#000">Year</text><text transform="translate(21.5,485.3) rotate(-90)" font-family='"Liberation Sans", sans-serif' font-size="28.5" fill="#F36B48" textLength="352.5" lengthAdjust="spacingAndGlyphs">Global mean temperature [ <tspan font-size="18" dy="-11">o</tspan><tspan dy="11">C]</tspan></text><text transform="translate(766,462) rotate(-90)" font-family='"Liberation Sans", sans-serif' font-size="28.5" fill="#000" textLength="306.5" lengthAdjust="spacingAndGlyphs">Regional temperature [ <tspan font-size="18" dy="-11">o</tspan><tspan dy="11">C]</tspan></text><rect x="119.1" y="27.5" width="17.3" height="18.9" fill="#F27B4B"/><rect x="119.1" y="50.5" width="17.3" height="18.8" fill="#FAAE50"/><text x="141.8" y="43.8" font-family='"Liberation Sans", sans-serif' font-size="16.5" fill="#000">Overwarm GMT (exp #9)</text><text x="142.6" y="65.3" font-family='"Liberation Sans", sans-serif' font-size="16.5" fill="#000">Relaxed GMT (exp #9)</text><text x="18.6" y="19.7" font-family='"Liberation Sans", sans-serif' font-size="23" font-weight="bold" fill="#000">a.</text><text x="838.6" y="19.7" font-family='"Liberation Sans", sans-serif' font-size="23" font-weight="bold" fill="#000">b.</text><g shape-rendering="crispEdges"><rect x="922.74" y="13.00" width="20.62" height="21.19" fill="#FA8072"/><rect x="1021.71" y="13.00" width="20.62" height="21.19" fill="#FA8072"/><rect x="1141.31" y="13.00" width="20.62" height="21.19" fill="#FA8072"/><rect x="988.72" y="34.19" width="28.87" height="21.19" fill="#87CEFA"/><rect x="1017.59" y="34.19" width="12.37" height="21.19" fill="#FA8072"/><rect x="1417.62" y="34.19" width="20.62" height="21.19" fill="#FA8072"/><rect x="1054.71" y="55.38" width="4.12" height="21.19" fill="#87CEFA"/><rect x="1058.83" y="55.38" width="20.62" height="21.19" fill="#228B22"/><rect x="1285.65" y="55.38" width="12.37" height="21.19" fill="#FA8072"/><rect x="1021.71" y="76.57" width="12.37" height="21.19" fill="#87CEFA"/><rect x="1042.33" y="76.57" width="20.62" height="21.19" fill="#FA8072"/><rect x="1141.31" y="76.57" width="20.62" height="21.19" fill="#FA8072"/><rect x="1240.29" y="76.57" width="12.37" height="21.19" fill="#87CEFA"/><rect x="922.74" y="97.76" width="4.12" height="21.19" fill="#87CEFA"/><rect x="930.99" y="97.76" width="12.37" height="21.19" fill="#FA8072"/><rect x="1355.76" y="97.76" width="12.37" height="21.19" fill="#87CEFA"/><rect x="1124.81" y="118.95" width="8.25" height="21.19" fill="#87CEFA"/><rect x="1199.05" y="118.95" width="8.25" height="21.19" fill="#87CEFA"/><rect x="1273.28" y="118.95" width="4.12" height="21.19" fill="#87CEFA"/><rect x="930.99" y="140.14" width="20.62" height="21.19" fill="#FA8072"/><rect x="976.35" y="140.14" width="20.62" height="21.19" fill="#87CEFA"/><rect x="1178.43" y="140.14" width="4.12" height="21.19" fill="#FA8072"/><rect x="1318.64" y="140.14" width="32.99" height="21.19" fill="#FA8072"/><rect x="1372.25" y="140.14" width="8.25" height="21.19" fill="#87CEFA"/><rect x="1397.00" y="140.14" width="4.12" height="21.19" fill="#87CEFA"/><rect x="1434.11" y="140.14" width="4.12" height="21.19" fill="#FA8072"/><rect x="972.23" y="161.32" width="28.87" height="21.19" fill="#FA8072"/><rect x="1314.52" y="161.32" width="24.74" height="21.19" fill="#FA8072"/><rect x="922.74" y="182.51" width="8.25" height="21.19" fill="#87CEFA"/><rect x="976.35" y="182.51" width="28.87" height="21.19" fill="#FA8072"/><rect x="1038.21" y="182.51" width="8.25" height="21.19" fill="#87CEFA"/><rect x="1153.68" y="182.51" width="28.87" height="21.19" fill="#87CEFA"/><rect x="1405.25" y="182.51" width="8.25" height="21.19" fill="#87CEFA"/><rect x="922.74" y="203.70" width="4.12" height="21.19" fill="#FA8072"/><rect x="1034.09" y="203.70" width="20.62" height="21.19" fill="#FA8072"/><rect x="1062.95" y="203.70" width="20.62" height="21.19" fill="#87CEFA"/><rect x="1434.11" y="203.70" width="4.12" height="21.19" fill="#FA8072"/><rect x="996.97" y="224.89" width="20.62" height="21.19" fill="#FA8072"/><rect x="1133.06" y="224.89" width="4.12" height="21.19" fill="#87CEFA"/><rect x="1223.79" y="224.89" width="12.37" height="21.19" fill="#FA8072"/><rect x="1005.22" y="246.08" width="12.37" height="21.19" fill="#87CEFA"/><rect x="1062.95" y="246.08" width="20.62" height="21.19" fill="#FA8072"/><rect x="943.36" y="267.27" width="20.62" height="21.19" fill="#87CEFA"/><rect x="980.47" y="267.27" width="28.87" height="21.19" fill="#FA8072"/><rect x="968.10" y="288.46" width="12.37" height="21.19" fill="#FA8072"/><rect x="1153.68" y="288.46" width="12.37" height="21.19" fill="#FA8072"/><rect x="1166.05" y="288.46" width="8.25" height="21.19" fill="#228B22"/><rect x="1174.30" y="288.46" width="4.12" height="21.19" fill="#FA8072"/><rect x="1236.16" y="288.46" width="16.50" height="21.19" fill="#FA8072"/><rect x="1409.37" y="288.46" width="12.37" height="21.19" fill="#FA8072"/><rect x="922.74" y="309.65" width="12.37" height="21.19" fill="#87CEFA"/><rect x="943.36" y="309.65" width="28.87" height="21.19" fill="#FA8072"/><rect x="1067.08" y="309.65" width="12.37" height="21.19" fill="#FA8072"/><rect x="1112.44" y="309.65" width="4.12" height="21.19" fill="#87CEFA"/><rect x="1285.65" y="309.65" width="8.25" height="21.19" fill="#FA8072"/><rect x="1355.76" y="309.65" width="8.25" height="21.19" fill="#FA8072"/><rect x="1364.01" y="309.65" width="12.37" height="21.19" fill="#87CEFA"/><rect x="1079.45" y="330.84" width="16.50" height="21.19" fill="#FA8072"/><rect x="1116.57" y="330.84" width="8.25" height="21.19" fill="#87CEFA"/><rect x="1021.71" y="352.03" width="16.50" height="21.19" fill="#FA8072"/><rect x="1199.05" y="352.03" width="20.62" height="21.19" fill="#87CEFA"/><rect x="1380.50" y="373.22" width="12.37" height="21.19" fill="#FA8072"/><rect x="1087.70" y="394.41" width="8.25" height="21.19" fill="#87CEFA"/><rect x="968.10" y="415.60" width="12.37" height="21.19" fill="#87CEFA"/><rect x="1091.82" y="415.60" width="41.24" height="21.19" fill="#87CEFA"/><rect x="1170.18" y="415.60" width="28.87" height="21.19" fill="#FA8072"/><rect x="1215.54" y="415.60" width="28.87" height="21.19" fill="#87CEFA"/><rect x="1376.38" y="415.60" width="20.62" height="21.19" fill="#FA8072"/><rect x="1038.21" y="436.79" width="20.62" height="21.19" fill="#87CEFA"/><rect x="1401.12" y="436.79" width="20.62" height="21.19" fill="#87CEFA"/><rect x="922.74" y="457.97" width="24.74" height="21.19" fill="#FA8072"/><rect x="1021.71" y="457.97" width="24.74" height="21.19" fill="#87CEFA"/><rect x="1108.32" y="457.97" width="37.12" height="21.19" fill="#FA8072"/><rect x="1219.67" y="479.16" width="28.87" height="21.19" fill="#FA8072"/><rect x="1343.39" y="479.16" width="4.12" height="21.19" fill="#87CEFA"/><rect x="1409.37" y="479.16" width="20.62" height="21.19" fill="#87CEFA"/><rect x="980.47" y="500.35" width="20.62" height="21.19" fill="#FA8072"/><rect x="1058.83" y="521.54" width="20.62" height="21.19" fill="#FA8072"/><rect x="996.97" y="542.73" width="4.12" height="21.19" fill="#228B22"/><rect x="1001.09" y="542.73" width="20.62" height="21.19" fill="#FA8072"/><rect x="988.72" y="563.92" width="28.87" height="21.19" fill="#FA8072"/><rect x="1227.91" y="563.92" width="16.50" height="21.19" fill="#87CEFA"/><rect x="1273.28" y="563.92" width="12.37" height="21.19" fill="#FA8072"/><rect x="1306.27" y="563.92" width="28.87" height="21.19" fill="#87CEFA"/><rect x="1029.96" y="585.11" width="12.37" height="21.19" fill="#FA8072"/></g><rect x="908.65" y="13" width="547.5" height="593.3" fill="none" stroke="#111" stroke-width="1.5"/><line x1="901.3" y1="500.4" x2="908.6" y2="500.4" stroke="#111" stroke-width="1.5"/><text x="893.6" y="507.4" text-anchor="end" font-family='"Liberation Sans", sans-serif' font-size="20" fill="#000">5</text><line x1="901.3" y1="394.4" x2="908.6" y2="394.4" stroke="#111" stroke-width="1.5"/><text x="893.6" y="401.4" text-anchor="end" font-family='"Liberation Sans", sans-serif' font-size="20" fill="#000">10</text><line x1="901.3" y1="288.5" x2="908.6" y2="288.5" stroke="#111" stroke-width="1.5"/><text x="893.6" y="295.5" text-anchor="end" font-family='"Liberation Sans", sans-serif' font-size="20" fill="#000">15</text><line x1="901.3" y1="182.5" x2="908.6" y2="182.5" stroke="#111" stroke-width="1.5"/><text x="893.6" y="189.5" text-anchor="end" font-family='"Liberation Sans", sans-serif' font-size="20" fill="#000">20</text><line x1="901.3" y1="76.6" x2="908.6" y2="76.6" stroke="#111" stroke-width="1.5"/><text x="893.6" y="83.6" text-anchor="end" font-family='"Liberation Sans", sans-serif' font-size="20" fill="#000">25</text><line x1="924.8" y1="606.3" x2="924.8" y2="613.6" stroke="#111" stroke-width="1.5"/><text x="924.8" y="636" text-anchor="middle" font-family='"Liberation Sans", sans-serif' font-size="20.6" fill="#000">2010</text><line x1="966.0" y1="606.3" x2="966.0" y2="613.6" stroke="#111" stroke-width="1.5"/><line x1="1007.3" y1="606.3" x2="1007.3" y2="613.6" stroke="#111" stroke-width="1.5"/><line x1="1048.5" y1="606.3" x2="1048.5" y2="613.6" stroke="#111" stroke-width="1.5"/><text x="1048.5" y="636" text-anchor="middle" font-family='"Liberation Sans", sans-serif' font-size="20.6" fill="#000">2040</text><line x1="1089.8" y1="606.3" x2="1089.8" y2="613.6" stroke="#111" stroke-width="1.5"/><line x1="1131.0" y1="606.3" x2="1131.0" y2="613.6" stroke="#111" stroke-width="1.5"/><line x1="1172.2" y1="606.3" x2="1172.2" y2="613.6" stroke="#111" stroke-width="1.5"/><text x="1172.2" y="636" text-anchor="middle" font-family='"Liberation Sans", sans-serif' font-size="20.6" fill="#000">2070</text><line x1="1213.5" y1="606.3" x2="1213.5" y2="613.6" stroke="#111" stroke-width="1.5"/><line x1="1254.7" y1="606.3" x2="1254.7" y2="613.6" stroke="#111" stroke-width="1.5"/><line x1="1296.0" y1="606.3" x2="1296.0" y2="613.6" stroke="#111" stroke-width="1.5"/><text x="1296.0" y="636" text-anchor="middle" font-family='"Liberation Sans", sans-serif' font-size="20.6" fill="#000">2100</text><line x1="1337.2" y1="606.3" x2="1337.2" y2="613.6" stroke="#111" stroke-width="1.5"/><line x1="1378.4" y1="606.3" x2="1378.4" y2="613.6" stroke="#111" stroke-width="1.5"/><line x1="1419.7" y1="606.3" x2="1419.7" y2="613.6" stroke="#111" stroke-width="1.5"/><text x="1419.7" y="636" text-anchor="middle" font-family='"Liberation Sans", sans-serif' font-size="20.6" fill="#000">2130</text><text x="1188.7" y="671.4" text-anchor="middle" font-family='"Liberation Sans", sans-serif' font-size="26" fill="#000">Year</text><text transform="translate(856.9,499.3) rotate(-90)" font-family='"Liberation Sans", sans-serif' font-size="29" fill="#000" textLength="381" lengthAdjust="spacingAndGlyphs">Ensemble experiment number</text><rect x="876.9" y="537.0" width="19" height="18.2" rx="1.8" fill="#FA8072"/><text x="868.8" y="551.7" text-anchor="end" font-family='"Liberation Sans", sans-serif' font-size="17.1" fill="#000">North America</text><rect x="876.9" y="561.0" width="19" height="18.2" rx="1.8" fill="#87CEFA"/><text x="868.8" y="575.6" text-anchor="end" font-family='"Liberation Sans", sans-serif' font-size="17.1" fill="#000">East Asia</text><rect x="876.9" y="585.1" width="19" height="18.2" rx="1.8" fill="#228B22"/><text x="868.8" y="599.5" text-anchor="end" font-family='"Liberation Sans", sans-serif' font-size="17.1" fill="#000">Concurrent</text></svg></body></html>
